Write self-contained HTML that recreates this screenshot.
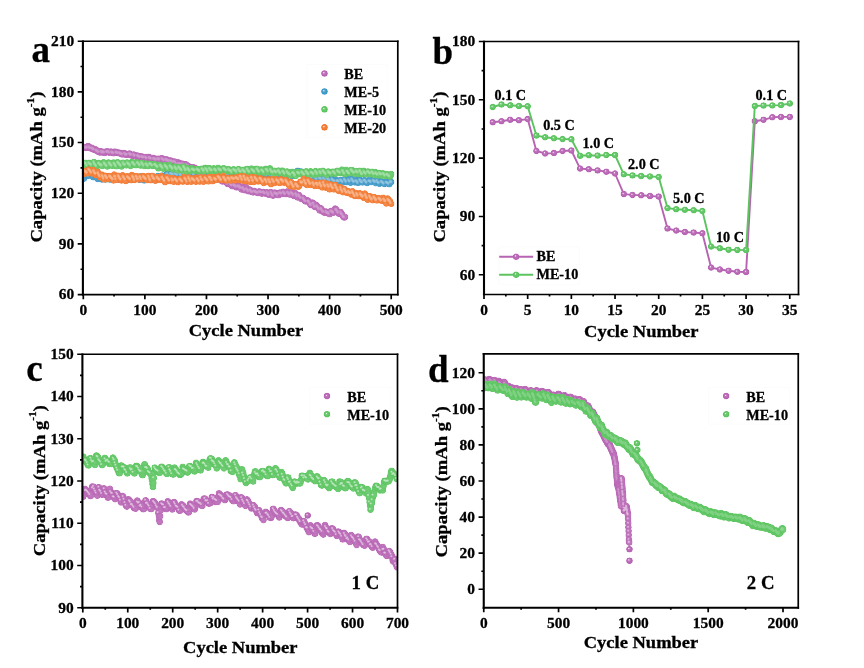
<!DOCTYPE html>
<html lang="en"><head><meta charset="utf-8"><title>Cycling performance</title>
<style>html,body{margin:0;padding:0;background:#fff}svg{display:block}text{font-family:"Liberation Serif",serif;font-weight:bold;fill:#000;stroke:#000;stroke-width:0.3px}</style>
</head><body>
<svg width="864" height="668" viewBox="0 0 864 668">
<defs><radialGradient id="gp" cx="0.5" cy="0.5" r="0.5" fx="0.38" fy="0.36"><stop offset="0" stop-color="#fff"/><stop offset="0.09" stop-color="#edd8ec"/><stop offset="0.3" stop-color="#c076bc"/><stop offset="0.8" stop-color="#b763b3"/><stop offset="0.93" stop-color="#b763b3"/><stop offset="1" stop-color="#b763b3" stop-opacity="0.45"/></radialGradient><radialGradient id="gpf" cx="0.5" cy="0.5" r="0.5"><stop offset="0" stop-color="#c37cbf"/><stop offset="0.8" stop-color="#be73bb"/><stop offset="0.92" stop-color="#b968b5"/><stop offset="1" stop-color="#b763b3" stop-opacity="0.4"/></radialGradient><radialGradient id="gb" cx="0.5" cy="0.5" r="0.5" fx="0.38" fy="0.36"><stop offset="0" stop-color="#fff"/><stop offset="0.09" stop-color="#cee5f1"/><stop offset="0.3" stop-color="#53a3cd"/><stop offset="0.8" stop-color="#3b96c6"/><stop offset="0.93" stop-color="#3b96c6"/><stop offset="1" stop-color="#3b96c6" stop-opacity="0.45"/></radialGradient><radialGradient id="gbf" cx="0.5" cy="0.5" r="0.5"><stop offset="0" stop-color="#5aa7cf"/><stop offset="0.8" stop-color="#4fa0cc"/><stop offset="0.92" stop-color="#4199c8"/><stop offset="1" stop-color="#3b96c6" stop-opacity="0.4"/></radialGradient><radialGradient id="gg" cx="0.5" cy="0.5" r="0.5" fx="0.38" fy="0.36"><stop offset="0" stop-color="#fff"/><stop offset="0.09" stop-color="#d6f0d7"/><stop offset="0.3" stop-color="#6fcb72"/><stop offset="0.8" stop-color="#5bc45f"/><stop offset="0.93" stop-color="#5bc45f"/><stop offset="1" stop-color="#5bc45f" stop-opacity="0.45"/></radialGradient><radialGradient id="ggf" cx="0.5" cy="0.5" r="0.5"><stop offset="0" stop-color="#75cd79"/><stop offset="0.8" stop-color="#6bca6f"/><stop offset="0.92" stop-color="#60c664"/><stop offset="1" stop-color="#5bc45f" stop-opacity="0.4"/></radialGradient><radialGradient id="go" cx="0.5" cy="0.5" r="0.5" fx="0.38" fy="0.36"><stop offset="0" stop-color="#fff"/><stop offset="0.09" stop-color="#fcddca"/><stop offset="0.3" stop-color="#f48645"/><stop offset="0.8" stop-color="#f2762c"/><stop offset="0.93" stop-color="#f2762c"/><stop offset="1" stop-color="#f2762c" stop-opacity="0.45"/></radialGradient><radialGradient id="gof" cx="0.5" cy="0.5" r="0.5"><stop offset="0" stop-color="#f48c4e"/><stop offset="0.8" stop-color="#f38441"/><stop offset="0.92" stop-color="#f27a32"/><stop offset="1" stop-color="#f2762c" stop-opacity="0.4"/></radialGradient><radialGradient id="gh"><stop offset="0" stop-color="#fff" stop-opacity="1"/><stop offset="0.35" stop-color="#fff" stop-opacity="0.75"/><stop offset="1" stop-color="#fff" stop-opacity="0"/></radialGradient><marker id="mp7" markerUnits="userSpaceOnUse" markerWidth="8.8" markerHeight="8.8" refX="4.4" refY="4.4" viewBox="0 0 8.8 8.8" overflow="visible"><circle cx="4.4" cy="4.4" r="3.4" fill="url(#gp)"/></marker><marker id="mp6" markerUnits="userSpaceOnUse" markerWidth="8.5" markerHeight="8.5" refX="4.25" refY="4.25" viewBox="0 0 8.5 8.5" overflow="visible"><circle cx="4.25" cy="4.25" r="3.25" fill="url(#gp)"/></marker><marker id="fpA" markerUnits="userSpaceOnUse" markerWidth="8.5" markerHeight="8.5" refX="4.25" refY="4.25" viewBox="0 0 8.5 8.5" overflow="visible"><circle cx="4.25" cy="4.25" r="3.25" fill="url(#gpf)"/></marker><marker id="fpC" markerUnits="userSpaceOnUse" markerWidth="8.6" markerHeight="8.6" refX="4.3" refY="4.3" viewBox="0 0 8.6 8.6" overflow="visible"><circle cx="4.3" cy="4.3" r="3.3" fill="url(#gpf)"/></marker><marker id="fpD" markerUnits="userSpaceOnUse" markerWidth="8.6" markerHeight="8.6" refX="4.3" refY="4.3" viewBox="0 0 8.6 8.6" overflow="visible"><circle cx="4.3" cy="4.3" r="3.3" fill="url(#gpf)"/></marker><marker id="mb7" markerUnits="userSpaceOnUse" markerWidth="8.8" markerHeight="8.8" refX="4.4" refY="4.4" viewBox="0 0 8.8 8.8" overflow="visible"><circle cx="4.4" cy="4.4" r="3.4" fill="url(#gb)"/></marker><marker id="mb6" markerUnits="userSpaceOnUse" markerWidth="8.5" markerHeight="8.5" refX="4.25" refY="4.25" viewBox="0 0 8.5 8.5" overflow="visible"><circle cx="4.25" cy="4.25" r="3.25" fill="url(#gb)"/></marker><marker id="fbA" markerUnits="userSpaceOnUse" markerWidth="8.5" markerHeight="8.5" refX="4.25" refY="4.25" viewBox="0 0 8.5 8.5" overflow="visible"><circle cx="4.25" cy="4.25" r="3.25" fill="url(#gbf)"/></marker><marker id="fbC" markerUnits="userSpaceOnUse" markerWidth="8.6" markerHeight="8.6" refX="4.3" refY="4.3" viewBox="0 0 8.6 8.6" overflow="visible"><circle cx="4.3" cy="4.3" r="3.3" fill="url(#gbf)"/></marker><marker id="fbD" markerUnits="userSpaceOnUse" markerWidth="8.6" markerHeight="8.6" refX="4.3" refY="4.3" viewBox="0 0 8.6 8.6" overflow="visible"><circle cx="4.3" cy="4.3" r="3.3" fill="url(#gbf)"/></marker><marker id="mg7" markerUnits="userSpaceOnUse" markerWidth="8.8" markerHeight="8.8" refX="4.4" refY="4.4" viewBox="0 0 8.8 8.8" overflow="visible"><circle cx="4.4" cy="4.4" r="3.4" fill="url(#gg)"/></marker><marker id="mg6" markerUnits="userSpaceOnUse" markerWidth="8.5" markerHeight="8.5" refX="4.25" refY="4.25" viewBox="0 0 8.5 8.5" overflow="visible"><circle cx="4.25" cy="4.25" r="3.25" fill="url(#gg)"/></marker><marker id="fgA" markerUnits="userSpaceOnUse" markerWidth="8.5" markerHeight="8.5" refX="4.25" refY="4.25" viewBox="0 0 8.5 8.5" overflow="visible"><circle cx="4.25" cy="4.25" r="3.25" fill="url(#ggf)"/></marker><marker id="fgC" markerUnits="userSpaceOnUse" markerWidth="8.6" markerHeight="8.6" refX="4.3" refY="4.3" viewBox="0 0 8.6 8.6" overflow="visible"><circle cx="4.3" cy="4.3" r="3.3" fill="url(#ggf)"/></marker><marker id="fgD" markerUnits="userSpaceOnUse" markerWidth="8.6" markerHeight="8.6" refX="4.3" refY="4.3" viewBox="0 0 8.6 8.6" overflow="visible"><circle cx="4.3" cy="4.3" r="3.3" fill="url(#ggf)"/></marker><marker id="mo7" markerUnits="userSpaceOnUse" markerWidth="8.8" markerHeight="8.8" refX="4.4" refY="4.4" viewBox="0 0 8.8 8.8" overflow="visible"><circle cx="4.4" cy="4.4" r="3.4" fill="url(#go)"/></marker><marker id="mo6" markerUnits="userSpaceOnUse" markerWidth="8.5" markerHeight="8.5" refX="4.25" refY="4.25" viewBox="0 0 8.5 8.5" overflow="visible"><circle cx="4.25" cy="4.25" r="3.25" fill="url(#go)"/></marker><marker id="foA" markerUnits="userSpaceOnUse" markerWidth="8.5" markerHeight="8.5" refX="4.25" refY="4.25" viewBox="0 0 8.5 8.5" overflow="visible"><circle cx="4.25" cy="4.25" r="3.25" fill="url(#gof)"/></marker><marker id="foC" markerUnits="userSpaceOnUse" markerWidth="8.6" markerHeight="8.6" refX="4.3" refY="4.3" viewBox="0 0 8.6 8.6" overflow="visible"><circle cx="4.3" cy="4.3" r="3.3" fill="url(#gof)"/></marker><marker id="foD" markerUnits="userSpaceOnUse" markerWidth="8.6" markerHeight="8.6" refX="4.3" refY="4.3" viewBox="0 0 8.6 8.6" overflow="visible"><circle cx="4.3" cy="4.3" r="3.3" fill="url(#gof)"/></marker><marker id="hA" markerUnits="userSpaceOnUse" markerWidth="8" markerHeight="8" refX="4.4" refY="4.3" viewBox="0 0 8 8" overflow="visible"><circle cx="4" cy="4" r="1.9" fill="url(#gh)"/></marker><marker id="hC" markerUnits="userSpaceOnUse" markerWidth="8" markerHeight="8" refX="4.7" refY="4.8" viewBox="0 0 8 8" overflow="visible"><circle cx="4" cy="4" r="1.5" fill="url(#gh)"/></marker><marker id="hD" markerUnits="userSpaceOnUse" markerWidth="8" markerHeight="8" refX="4.4" refY="4.4" viewBox="0 0 8 8" overflow="visible"><circle cx="4" cy="4" r="1.5" fill="url(#gh)"/></marker><clipPath id="ca"><rect x="82.9" y="41.2" width="314.9" height="253.40000000000003"/></clipPath><clipPath id="cb"><rect x="484" y="41.5" width="314.5" height="253.0"/></clipPath><clipPath id="cc"><rect x="82.4" y="354.2" width="315.1" height="253.59999999999997"/></clipPath><clipPath id="cd"><rect x="483.75" y="353.9" width="314.5" height="253.85000000000002"/></clipPath></defs>
<rect width="864" height="668" fill="#fff"/>
<g clip-path="url(#ca)">
<path d="M83.9 147.9L84.5 147.1L85.1 147L85.8 147.9L86.4 147.4L87 147.5L87.6 147.5L88.2 145.9L88.8 146.7L89.5 147.6L90.1 148.1L90.7 148.5L91.3 147.6L91.9 148L92.5 148.4L93.2 149.2L93.8 149.3L94.4 149.9L95 149.8L95.6 149.2L96.2 150.4L96.8 150.3L97.5 151.1L98.1 151.7L98.7 152L99.3 151.9L99.9 152.6L100.5 151.3L101.2 151.4L101.8 152.3L102.4 152.5L103 151.7L103.6 151.9L104.2 152.5L104.9 152.9L105.5 152.1L106.1 151.5L106.7 151.9L107.3 151.5L107.9 151.4L108.5 151.9L109.2 152.7L109.8 152.1L110.4 152.2L111 151.5L111.6 151.9L112.2 152.7L112.9 152.6L113.5 153.2L114.1 152.9L114.7 151.6L115.3 152L115.9 152.3L116.6 152.1L117.2 153L117.8 152.9L118.4 152.6L119 152.8L119.6 152.7L120.2 153.6L120.9 153.6L121.5 153.9L122.1 154.4L122.7 154L123.3 154.3L123.9 153L124.6 153.3L125.2 153.8L125.8 154.8L126.4 154.6L127 154.4L127.6 154.8L128.3 154.4L128.9 153.9L129.5 153.4L130.1 154.2L130.7 154.4L131.3 154.8L131.9 155.7L132.6 155.5L133.2 154.9L133.8 154.5L134.4 155.7L135 155.3L135.6 156.3L136.3 156.7L136.9 155.5L137.5 155.7L138.1 155.9L138.7 155.9L139.3 156.8L140 157L140.6 157L141.2 156.6L141.8 156.4L142.4 157L143 157.1L143.6 157.3L144.3 158L144.9 157.5L145.5 157L146.1 157.6L146.7 158.4L147.3 158.6L148 157.2L148.6 156.8L149.2 157.5L149.8 157.7L150.4 158.3L151 158.7L151.7 158.9L152.3 158.7L152.9 157.8L153.5 158.9L154.1 158.5L154.7 158.4L155.3 159.2L156 159.9L156.6 159.5L157.2 159L157.8 158.7L158.4 158.8L159 159.7L159.7 159.1L160.3 159.4L160.9 160.1L161.5 158.2L162.1 158.3L162.7 159.2L163.4 159.7L164 160.3L164.6 160.6L165.2 159.4L165.8 159.2L166.4 160.3L167 159.5L167.7 160.5L168.3 160.6L168.9 161.2L169.5 162.1L170.1 160.6L170.7 160.5L171.4 161.3L172 161.7L172.6 161.8L173.2 162.9L173.8 161.8L174.4 161.4L175.1 162.2L175.7 163L176.3 163.9L176.9 163.8L177.5 163.3L178.1 162.3L178.7 163.6L179.4 163.5L180 164.4L180.6 163.9L181.2 163.6L181.8 163.7L182.4 163.7L183.1 164.1L183.7 164.8L184.3 165L184.9 165.7L185.5 164.3L186.1 164.5L186.8 165.4L187.4 165.9L188 165.7L188.6 167.2L189.2 166.8L189.8 167.7L190.4 167.1L191.1 167.3L191.7 167.5L192.3 167.8L192.9 167.5L193.5 168.9L194.1 167.5L194.8 167.8L195.4 168.5L196 169.5L196.6 170L197.2 170.8L197.8 169.9L198.5 169.5L199.1 170.7L199.7 170.6L200.3 171L200.9 171.4L201.5 171.8L202.1 172.9L202.8 172.8L203.4 171.8L204 171.9L204.6 172.6L205.2 173.2L205.8 173.6L206.5 173.4L207.1 172.2L207.7 174.3L208.3 174.7L208.9 175.1L209.5 175.8L210.2 174.7L210.8 175L211.4 175.6L212 176.5L212.6 176.8L213.2 177.1L213.8 176.3L214.5 177L215.1 176.2L215.7 177.4L216.3 177.7L216.9 178.5L217.5 179.4L218.2 178.1L218.8 177.2L219.4 178.3L220 179.4L220.6 179.5L221.2 180.4L221.9 181L222.5 181.5L223.1 181.2L223.7 180.2L224.3 180.7L224.9 180.7L225.5 181.3L226.2 182.3L226.8 182.3L227.4 183.8L228 184L228.6 183.4L229.2 181.8L229.9 182.8L230.5 183.8L231.1 184.7L231.7 185.4L232.3 186.3L232.9 185.1L233.6 184.9L234.2 185L234.8 186.2L235.4 185.4L236 186.7L236.6 187.4L237.2 186.5L237.9 186L238.5 186.2L239.1 186.9L239.7 186.3L240.3 187.9L240.9 188.1L241.6 189.6L242.2 186.9L242.8 187.7L243.4 188.3L244 189.4L244.6 190.2L245.3 190.2L245.9 187.1L246.5 189L247.1 189.1L247.7 190.4L248.3 191.2L249 191.3L249.6 189.4L250.2 189.9L250.8 190.7L251.4 191.8L252 191.7L252.6 192.1L253.3 192.5L253.9 190.8L254.5 191.2L255.1 191.4L255.7 192L256.3 192.1L257 192.4L257.6 193L258.2 192.9L258.8 191.5L259.4 191.5L260 192L260.7 192L261.3 192.5L261.9 193.7L262.5 192.2L263.1 191.9L263.7 192.3L264.3 192.8L265 193.4L265.6 193.6L266.2 193.4L266.8 192.3L267.4 192.5L268 193.8L268.7 194.8L269.3 194.4L269.9 194.3L270.5 192.3L271.1 192.3L271.7 193.7L272.4 194.8L273 195.7L273.6 194.7L274.2 192.7L274.8 192.6L275.4 193.7L276 193.6L276.7 193.5L277.3 194.8L277.9 194L278.5 195.3L279.1 193.2L279.7 192.5L280.4 193.2L281 193.2L281.6 193.5L282.2 193.9L282.8 191.8L283.4 192L284.1 192.8L284.7 193.8L285.3 193.7L285.9 194.2L286.5 193L287.1 191.4L287.7 192.1L288.4 193.2L289 193.3L289.6 194.5L290.2 194.4L290.8 192.4L291.4 192.4L292.1 193.4L292.7 193.8L293.3 195.1L293.9 196.1L294.5 195.4L295.1 192.9L295.8 193.8L296.4 194.9L297 196.4L297.6 197.5L298.2 195.8L298.8 194.9L299.4 196L300.1 197.2L300.7 197.9L301.3 199L301.9 198.1L302.5 197.8L303.1 198L303.8 199.3L304.4 199.6L305 200.9L305.6 201.3L306.2 201.4L306.8 201L307.5 200.3L308.1 201L308.7 201.3L309.3 202.3L309.9 203.5L310.5 204.5L311.1 205.2L311.8 204.8L312.4 202.5L313 203.4L313.6 203.5L314.2 205.8L314.8 207L315.5 206L316.1 204.8L316.7 205.7L317.3 206.6L317.9 207.2L318.5 208.6L319.2 209.3L319.8 210.6L320.4 208L321 208.5L321.6 209.2L322.2 210.5L322.8 211.5L323.5 212.1L324.1 212.4L324.7 212.7L325.3 212L325.9 211.4L326.5 212.5L327.2 212.5L327.8 213.1L328.4 212.4L329 213.7L329.6 214.2L330.2 211.7L330.9 211L331.5 211.1L332.1 211.9L332.7 211.5L333.3 212.7L333.9 212.2L334.5 211L335.2 208.5L335.8 209.4L336.4 209.8L337 210.7L337.6 211.8L338.2 212.8L338.9 213.7L339.5 213.8L340.1 212.8L340.7 212L341.3 213.7L341.9 214.1L342.6 215.3L343.2 216.7L343.8 217.2L344.4 217.6L345 217" fill="none" stroke="none" marker-start="url(#fpA)" marker-mid="url(#fpA)" marker-end="url(#fpA)"/><path d="M85.1 147L85.8 147.9L86.4 147.4L87 147.5L88.8 146.7L89.5 147.6L90.1 148.1L91.9 148L92.5 148.4L93.2 149.2L93.8 149.3L96.2 150.4L96.8 150.3L97.5 151.1L98.1 151.7L98.7 152L101.2 151.4L101.8 152.3L102.4 152.5L103 151.7L103.6 151.9L104.2 152.5L106.7 151.9L107.3 151.5L107.9 151.4L108.5 151.9L109.2 152.7L111.6 151.9L112.2 152.7L112.9 152.6L113.5 153.2L115.9 152.3L116.6 152.1L117.2 153L117.8 152.9L119.6 152.7L120.2 153.6L120.9 153.6L121.5 153.9L122.1 154.4L124.6 153.3L125.2 153.8L125.8 154.8L126.4 154.6L127 154.4L129.5 153.4L130.1 154.2L130.7 154.4L131.3 154.8L133.8 154.5L134.4 155.7L135 155.3L137.5 155.7L138.1 155.9L138.7 155.9L139.3 156.8L140 157L141.8 156.4L142.4 157L143 157.1L143.6 157.3L145.5 157L146.1 157.6L146.7 158.4L149.2 157.5L149.8 157.7L150.4 158.3L151 158.7L153.5 158.9L154.1 158.5L154.7 158.4L155.3 159.2L156 159.9L157.8 158.7L158.4 158.8L159 159.7L159.7 159.1L162.1 158.3L162.7 159.2L163.4 159.7L164 160.3L165.8 159.2L166.4 160.3L167 159.5L167.7 160.5L168.3 160.6L168.9 161.2L170.7 160.5L171.4 161.3L172 161.7L172.6 161.8L174.4 161.4L175.1 162.2L175.7 163L176.3 163.9L178.7 163.6L179.4 163.5L180 164.4L180.6 163.9L182.4 163.7L183.1 164.1L183.7 164.8L184.3 165L186.1 164.5L186.8 165.4L187.4 165.9L188 165.7L188.6 167.2L189.2 166.8L191.1 167.3L191.7 167.5L192.3 167.8L192.9 167.5L194.8 167.8L195.4 168.5L196 169.5L196.6 170L199.1 170.7L199.7 170.6L200.3 171L200.9 171.4L201.5 171.8L204 171.9L204.6 172.6L205.2 173.2L207.1 172.2L207.7 174.3L208.3 174.7L208.9 175.1L210.8 175L211.4 175.6L212 176.5L212.6 176.8L214.5 177L215.1 176.2L215.7 177.4L216.3 177.7L216.9 178.5L219.4 178.3L220 179.4L220.6 179.5L221.2 180.4L221.9 181L224.3 180.7L224.9 180.7L225.5 181.3L226.2 182.3L226.8 182.3L227.4 183.8L229.9 182.8L230.5 183.8L231.1 184.7L231.7 185.4L233.6 184.9L234.2 185L234.8 186.2L235.4 185.4L236 186.7L237.9 186L238.5 186.2L239.1 186.9L239.7 186.3L240.3 187.9L240.9 188.1L242.8 187.7L243.4 188.3L244 189.4L244.6 190.2L246.5 189L247.1 189.1L247.7 190.4L248.3 191.2L250.2 189.9L250.8 190.7L251.4 191.8L252 191.7L252.6 192.1L254.5 191.2L255.1 191.4L255.7 192L256.3 192.1L257 192.4L257.6 193L259.4 191.5L260 192L260.7 192L261.3 192.5L263.1 191.9L263.7 192.3L264.3 192.8L265 193.4L267.4 192.5L268 193.8L268.7 194.8L271.1 192.3L271.7 193.7L272.4 194.8L273 195.7L274.8 192.6L275.4 193.7L276 193.6L276.7 193.5L277.3 194.8L277.9 194L279.7 192.5L280.4 193.2L281 193.2L281.6 193.5L283.4 192L284.1 192.8L284.7 193.8L285.3 193.7L287.7 192.1L288.4 193.2L289 193.3L289.6 194.5L291.4 192.4L292.1 193.4L292.7 193.8L293.3 195.1L295.8 193.8L296.4 194.9L297 196.4L298.8 194.9L299.4 196L300.1 197.2L300.7 197.9L303.1 198L303.8 199.3L304.4 199.6L305 200.9L305.6 201.3L308.1 201L308.7 201.3L309.3 202.3L309.9 203.5L310.5 204.5L311.1 205.2L313 203.4L313.6 203.5L314.2 205.8L314.8 207L316.7 205.7L317.3 206.6L317.9 207.2L318.5 208.6L319.2 209.3L321 208.5L321.6 209.2L322.2 210.5L322.8 211.5L323.5 212.1L325.9 211.4L326.5 212.5L327.2 212.5L327.8 213.1L328.4 212.4L329 213.7L330.9 211L331.5 211.1L332.1 211.9L332.7 211.5L333.3 212.7L335.8 209.4L336.4 209.8L337 210.7L337.6 211.8L338.2 212.8L340.7 212L341.3 213.7L341.9 214.1L342.6 215.3L343.2 216.7L343.8 217.2" opacity="0.3" fill="none" stroke="none" marker-start="url(#hA)" marker-mid="url(#hA)" marker-end="url(#hA)"/>
<path d="M83.9 178.7L84.5 175.3L85.1 174.7L85.8 174.5L86.4 174.6L87 175.1L87.6 175.4L88.2 175.6L88.8 175.6L89.5 175.1L90.1 171.5L90.7 172.8L91.3 173.9L91.9 175.1L92.5 176L93.2 177.3L93.8 175.3L94.4 173.9L95 175.5L95.6 175.7L96.2 176.9L96.8 177.2L97.5 178.9L98.1 176.5L98.7 175.8L99.3 176.6L99.9 177.7L100.5 178.1L101.2 179.1L101.8 179.5L102.4 176L103 176.7L103.6 177.1L104.2 178.7L104.9 179.2L105.5 179.4L106.1 179.3L106.7 176.2L107.3 176.6L107.9 177.5L108.5 177.9L109.2 178.5L109.8 179.5L110.4 179.2L111 178.3L111.6 176.8L112.2 177L112.9 177.7L113.5 177.9L114.1 178.2L114.7 178.9L115.3 179.5L115.9 178.6L116.6 176L117.2 177L117.8 177.1L118.4 178.4L119 178.9L119.6 179.8L120.2 178.6L120.9 177.1L121.5 178.1L122.1 178.2L122.7 178.6L123.3 179L123.9 179.1L124.6 179.8L125.2 178.5L125.8 177L126.4 177.4L127 178.1L127.6 178.9L128.3 179.8L128.9 179.8L129.5 176.4L130.1 177.1L130.7 178.1L131.3 178.8L131.9 180.1L132.6 178.4L133.2 177.8L133.8 178.1L134.4 178.8L135 179L135.6 178.9L136.3 178.8L136.9 177.3L137.5 177.6L138.1 178.2L138.7 178.2L139.3 179.8L140 177.7L140.6 176.4L141.2 177.3L141.8 177.8L142.4 178.3L143 179.4L143.6 180L144.3 180.4L144.9 178.9L145.5 177.1L146.1 177.7L146.7 178.4L147.3 178.5L148 178.7L148.6 179.2L149.2 179.2L149.8 176.7L150.4 177.6L151 178.2L151.7 179.3L152.3 180L152.9 177.8L153.5 176.5L154.1 177.7L154.7 178.8L155.3 179.2L156 180.1L156.6 179.5L157.2 176.7L157.8 176L158.4 176.9L159 177.3L159.7 177.7L160.3 178L160.9 178.7L161.5 177L162.1 175.6L162.7 175.8L163.4 176.3L164 176L164.6 176.6L165.2 176.7L165.8 177.5L166.4 175.6L167 173.8L167.7 174.2L168.3 175.3L168.9 175.7L169.5 176.3L170.1 174.1L170.7 173.2L171.4 173.7L172 174L172.6 174.1L173.2 175.3L173.8 175.6L174.4 173.4L175.1 173.6L175.7 173.5L176.3 174.1L176.9 174.4L177.5 174.9L178.1 174.7L178.7 173.4L179.4 172.8L180 173.4L180.6 174.5L181.2 175.1L181.8 175.2L182.4 172.5L183.1 173.1L183.7 173.8L184.3 174.8L184.9 174.9L185.5 176.1L186.1 173.9L186.8 172.7L187.4 173.5L188 173.6L188.6 173.2L189.2 173.4L189.8 174.4L190.4 175.1L191.1 172.7L191.7 171.6L192.3 172.4L192.9 173.5L193.5 174L194.1 174.3L194.8 174.8L195.4 174.3L196 172.6L196.6 171.8L197.2 172.4L197.8 173.1L198.5 173.2L199.1 173.9L199.7 173.9L200.3 175.1L200.9 173L201.5 171.5L202.1 171.5L202.8 173.6L203.4 173.6L204 174.2L204.6 174.7L205.2 175.2L205.8 174.7L206.5 172.3L207.1 172.2L207.7 173.1L208.3 173.2L208.9 173.6L209.5 174.2L210.2 175.2L210.8 175.5L211.4 172L212 172.8L212.6 173.5L213.2 173.9L213.8 174.5L214.5 173.9L215.1 171.9L215.7 173L216.3 172.9L216.9 173.2L217.5 173.7L218.2 174.1L218.8 174.5L219.4 174.9L220 172.4L220.6 171.4L221.2 172.4L221.9 172.9L222.5 173.1L223.1 174.4L223.7 174.9L224.3 173.2L224.9 171.7L225.5 172.7L226.2 172.5L226.8 173.5L227.4 174.3L228 173.9L228.6 175L229.2 174.9L229.9 172.6L230.5 172.1L231.1 172.1L231.7 172.9L232.3 173.4L232.9 175L233.6 174.9L234.2 175.3L234.8 173.7L235.4 172.3L236 172.7L236.6 172.9L237.2 173.2L237.9 173.9L238.5 174L239.1 175.1L239.7 174.9L240.3 171.4L240.9 172.4L241.6 172.8L242.2 173.8L242.8 174.9L243.4 174.5L244 172.1L244.6 173.3L245.3 173.5L245.9 173.8L246.5 174.3L247.1 172.8L247.7 172.7L248.3 173.2L249 174.1L249.6 174.4L250.2 174.9L250.8 173.9L251.4 171.9L252 172.2L252.6 173.4L253.3 173.7L253.9 174.6L254.5 175.2L255.1 175.3L255.7 174.2L256.3 173.2L257 173.7L257.6 174.1L258.2 175L258.8 174.8L259.4 172.4L260 172.1L260.7 173.2L261.3 173.9L261.9 174.4L262.5 175.3L263.1 173.8L263.7 171.7L264.3 172.3L265 173.3L265.6 173.8L266.2 174.4L266.8 175.1L267.4 175.9L268 172.6L268.7 172.4L269.3 173.4L269.9 173.6L270.5 174.5L271.1 174.9L271.7 176.5L272.4 172.9L273 172.7L273.6 173.4L274.2 174.5L274.8 175.1L275.4 175.3L276 173.9L276.7 173L277.3 173.6L277.9 174.7L278.5 175.2L279.1 175.4L279.7 175.2L280.4 173.7L281 173.6L281.6 174.6L282.2 175L282.8 175.4L283.4 173.6L284.1 173.4L284.7 173.3L285.3 174.7L285.9 175.1L286.5 175.2L287.1 175.6L287.7 175.7L288.4 175L289 172.6L289.6 173.7L290.2 173.5L290.8 174.8L291.4 175.9L292.1 176L292.7 175.4L293.3 173.7L293.9 172.8L294.5 172.4L295.1 173.2L295.8 173.5L296.4 173.9L297 172.1L297.6 170.7L298.2 171.3L298.8 171.2L299.4 172.3L300.1 172.8L300.7 172.5L301.3 171.5L301.9 172.6L302.5 173.9L303.1 174.6L303.8 175.5L304.4 176.4L305 175.6L305.6 174.7L306.2 175.8L306.8 176.1L307.5 177.1L308.1 177.4L308.7 176L309.3 174.9L309.9 176.1L310.5 176.4L311.1 176.9L311.8 177.5L312.4 177.7L313 176.5L313.6 175.8L314.2 176.2L314.8 177.5L315.5 177.4L316.1 178.1L316.7 179.1L317.3 179.3L317.9 178.4L318.5 177.5L319.2 177.3L319.8 178L320.4 178L321 179.2L321.6 180.6L322.2 178.5L322.8 177.2L323.5 177.9L324.1 179.3L324.7 179.8L325.3 180.3L325.9 181.1L326.5 179L327.2 177.9L327.8 178.5L328.4 179.2L329 180.2L329.6 180.9L330.2 181.5L330.9 180.7L331.5 179.5L332.1 179L332.7 180.2L333.3 180.2L333.9 180.5L334.5 181.3L335.2 181.3L335.8 180.5L336.4 179.9L337 180.8L337.6 180.8L338.2 180.8L338.9 181.4L339.5 181.5L340.1 181.3L340.7 179.9L341.3 180.6L341.9 181.2L342.6 181.9L343.2 182.4L343.8 180.7L344.4 179.2L345 180.2L345.6 180.6L346.2 181.8L346.9 182.2L347.5 181.8L348.1 179.1L348.7 179.9L349.3 181.1L349.9 181.4L350.6 182.7L351.2 180.6L351.8 179L352.4 179.8L353 180.9L353.6 181.7L354.3 181.5L354.9 182.4L355.5 179.3L356.1 180.7L356.7 181.2L357.3 181.9L357.9 182.8L358.6 182.6L359.2 180.2L359.8 180L360.4 180.3L361 181.6L361.6 181.8L362.3 182.4L362.9 182.2L363.5 181L364.1 180.3L364.7 180.4L365.3 180.8L366 181.8L366.6 182.6L367.2 182.9L367.8 181.8L368.4 180.2L369 181.1L369.6 180.9L370.3 181.2L370.9 182.1L371.5 182.1L372.1 181.3L372.7 179.5L373.3 180.3L374 180.9L374.6 181.6L375.2 182.1L375.8 183.3L376.4 181.2L377 180.5L377.7 181.8L378.3 182.5L378.9 183L379.5 183.8L380.1 182.6L380.7 180.9L381.3 181.6L382 181.7L382.6 182.4L383.2 183L383.8 183.6L384.4 183.9L385 183.4L385.7 181.5L386.3 182.2L386.9 182.6L387.5 182.8L388.1 183.2L388.7 183.8L389.4 184.2L390 182.4L390.6 181.8L391.2 182" fill="none" stroke="none" marker-start="url(#fbA)" marker-mid="url(#fbA)" marker-end="url(#fbA)"/><path d="M85.8 174.5L86.4 174.6L87 175.1L87.6 175.4L88.2 175.6L90.7 172.8L91.3 173.9L91.9 175.1L92.5 176L94.4 173.9L95 175.5L95.6 175.7L96.2 176.9L96.8 177.2L98.7 175.8L99.3 176.6L99.9 177.7L100.5 178.1L101.2 179.1L103 176.7L103.6 177.1L104.2 178.7L104.9 179.2L105.5 179.4L107.3 176.6L107.9 177.5L108.5 177.9L109.2 178.5L109.8 179.5L112.2 177L112.9 177.7L113.5 177.9L114.1 178.2L114.7 178.9L117.2 177L117.8 177.1L118.4 178.4L119 178.9L121.5 178.1L122.1 178.2L122.7 178.6L123.3 179L123.9 179.1L125.8 177L126.4 177.4L127 178.1L127.6 178.9L128.3 179.8L130.1 177.1L130.7 178.1L131.3 178.8L133.2 177.8L133.8 178.1L134.4 178.8L135 179L135.6 178.9L137.5 177.6L138.1 178.2L138.7 178.2L141.2 177.3L141.8 177.8L142.4 178.3L143 179.4L143.6 180L146.1 177.7L146.7 178.4L147.3 178.5L148 178.7L150.4 177.6L151 178.2L151.7 179.3L153.5 176.5L154.1 177.7L154.7 178.8L155.3 179.2L156 180.1L157.8 176L158.4 176.9L159 177.3L159.7 177.7L160.3 178L162.7 175.8L163.4 176.3L164 176L164.6 176.6L165.2 176.7L167 173.8L167.7 174.2L168.3 175.3L168.9 175.7L170.7 173.2L171.4 173.7L172 174L172.6 174.1L173.2 175.3L175.1 173.6L175.7 173.5L176.3 174.1L176.9 174.4L177.5 174.9L179.4 172.8L180 173.4L180.6 174.5L181.2 175.1L183.1 173.1L183.7 173.8L184.3 174.8L184.9 174.9L187.4 173.5L188 173.6L188.6 173.2L189.2 173.4L189.8 174.4L191.7 171.6L192.3 172.4L192.9 173.5L193.5 174L194.1 174.3L196.6 171.8L197.2 172.4L197.8 173.1L198.5 173.2L199.1 173.9L199.7 173.9L202.1 171.5L202.8 173.6L203.4 173.6L204 174.2L204.6 174.7L207.1 172.2L207.7 173.1L208.3 173.2L208.9 173.6L209.5 174.2L210.2 175.2L212 172.8L212.6 173.5L213.2 173.9L213.8 174.5L215.7 173L216.3 172.9L216.9 173.2L217.5 173.7L218.2 174.1L220.6 171.4L221.2 172.4L221.9 172.9L222.5 173.1L223.1 174.4L225.5 172.7L226.2 172.5L226.8 173.5L227.4 174.3L228 173.9L230.5 172.1L231.1 172.1L231.7 172.9L232.3 173.4L232.9 175L233.6 174.9L236 172.7L236.6 172.9L237.2 173.2L237.9 173.9L238.5 174L240.9 172.4L241.6 172.8L242.2 173.8L244 172.1L244.6 173.3L245.3 173.5L245.9 173.8L247.7 172.7L248.3 173.2L249 174.1L249.6 174.4L252 172.2L252.6 173.4L253.3 173.7L253.9 174.6L254.5 175.2L256.3 173.2L257 173.7L257.6 174.1L258.2 175L260 172.1L260.7 173.2L261.3 173.9L261.9 174.4L264.3 172.3L265 173.3L265.6 173.8L266.2 174.4L266.8 175.1L268.7 172.4L269.3 173.4L269.9 173.6L270.5 174.5L271.1 174.9L273 172.7L273.6 173.4L274.2 174.5L274.8 175.1L276.7 173L277.3 173.6L277.9 174.7L278.5 175.2L281 173.6L281.6 174.6L282.2 175L284.7 173.3L285.3 174.7L285.9 175.1L286.5 175.2L287.1 175.6L289.6 173.7L290.2 173.5L290.8 174.8L291.4 175.9L292.1 176L293.9 172.8L294.5 172.4L295.1 173.2L295.8 173.5L298.2 171.3L298.8 171.2L299.4 172.3L301.3 171.5L301.9 172.6L302.5 173.9L303.1 174.6L303.8 175.5L305.6 174.7L306.2 175.8L306.8 176.1L307.5 177.1L309.3 174.9L309.9 176.1L310.5 176.4L311.1 176.9L311.8 177.5L314.2 176.2L314.8 177.5L315.5 177.4L316.1 178.1L316.7 179.1L319.2 177.3L319.8 178L320.4 178L321 179.2L323.5 177.9L324.1 179.3L324.7 179.8L325.3 180.3L327.2 177.9L327.8 178.5L328.4 179.2L329 180.2L329.6 180.9L332.1 179L332.7 180.2L333.3 180.2L333.9 180.5L334.5 181.3L337 180.8L337.6 180.8L338.2 180.8L338.9 181.4L340.7 179.9L341.3 180.6L341.9 181.2L342.6 181.9L344.4 179.2L345 180.2L345.6 180.6L346.2 181.8L348.7 179.9L349.3 181.1L349.9 181.4L351.8 179L352.4 179.8L353 180.9L353.6 181.7L354.3 181.5L356.1 180.7L356.7 181.2L357.3 181.9L357.9 182.8L359.8 180L360.4 180.3L361 181.6L361.6 181.8L362.3 182.4L364.1 180.3L364.7 180.4L365.3 180.8L366 181.8L366.6 182.6L369 181.1L369.6 180.9L370.3 181.2L370.9 182.1L373.3 180.3L374 180.9L374.6 181.6L375.2 182.1L377 180.5L377.7 181.8L378.3 182.5L378.9 183L381.3 181.6L382 181.7L382.6 182.4L383.2 183L383.8 183.6L386.3 182.2L386.9 182.6L387.5 182.8L388.1 183.2L388.7 183.8L390.6 181.8L391.2 182" opacity="0.4" fill="none" stroke="none" marker-start="url(#hA)" marker-mid="url(#hA)" marker-end="url(#hA)"/>
<path d="M83.9 166.2L84.5 163.1L85.1 162.8L85.8 163.6L86.4 164.3L87 165.5L87.6 166.2L88.2 163.3L88.8 162.7L89.5 163.4L90.1 164.1L90.7 164.2L91.3 165L91.9 165.1L92.5 165.3L93.2 163.1L93.8 161.9L94.4 163.6L95 164.3L95.6 165L96.2 166L96.8 166.8L97.5 165L98.1 163L98.7 163L99.3 163.8L99.9 164.1L100.5 165.2L101.2 164.8L101.8 165.5L102.4 166.1L103 163.7L103.6 162.3L104.2 162.9L104.9 164.3L105.5 164L106.1 165.6L106.7 165.7L107.3 166.6L107.9 164.5L108.5 162.4L109.2 163L109.8 164.1L110.4 163.4L111 165.1L111.6 165.6L112.2 165.8L112.9 165.3L113.5 162.4L114.1 163.2L114.7 164.1L115.3 165L115.9 165.9L116.6 166.3L117.2 162.5L117.8 162.3L118.4 163L119 163.7L119.6 164.2L120.2 164.9L120.9 165.7L121.5 166.6L122.1 164.5L122.7 162.8L123.3 162.8L123.9 164.4L124.6 164.5L125.2 164.6L125.8 165L126.4 165.4L127 162.4L127.6 162.7L128.3 163.9L128.9 164L129.5 164.3L130.1 165.5L130.7 165.9L131.3 164L131.9 162.1L132.6 162.6L133.2 162.8L133.8 163.8L134.4 164.6L135 164.8L135.6 165.2L136.3 165L136.9 162.6L137.5 162.4L138.1 163.2L138.7 163.5L139.3 164.8L140 165.3L140.6 165.6L141.2 163.5L141.8 162.7L142.4 163.6L143 164.4L143.6 165.6L144.3 165.9L144.9 165.3L145.5 163.4L146.1 164L146.7 164.3L147.3 165.2L148 166L148.6 166L149.2 164L149.8 163.8L150.4 163.9L151 164.3L151.7 164.7L152.3 165.6L152.9 166L153.5 165.5L154.1 163.9L154.7 164.3L155.3 164.8L156 165L156.6 165.9L157.2 166.6L157.8 166.9L158.4 168.4L159 165.8L159.7 164.6L160.3 165.2L160.9 165.4L161.5 166.6L162.1 166.9L162.7 168L163.4 168.7L164 165.9L164.6 165.2L165.2 165.2L165.8 166.2L166.4 166.8L167 167.2L167.7 168.5L168.3 168.4L168.9 166L169.5 165.1L170.1 165.9L170.7 166.4L171.4 167.3L172 167.6L172.6 168.8L173.2 169.5L173.8 168.2L174.4 166.5L175.1 167L175.7 167.8L176.3 168.8L176.9 169.4L177.5 170.5L178.1 167.2L178.7 167.2L179.4 167.3L180 168.6L180.6 168.8L181.2 169.5L181.8 170.2L182.4 170.4L183.1 168.3L183.7 166.4L184.3 167.4L184.9 168.5L185.5 170.1L186.1 170L186.8 171.7L187.4 168.1L188 168.3L188.6 169.3L189.2 170.2L189.8 170.9L190.4 170.8L191.1 169.8L191.7 168.2L192.3 169.1L192.9 169.3L193.5 169.6L194.1 170.3L194.8 170.1L195.4 170.9L196 170.5L196.6 168.9L197.2 169.1L197.8 169.5L198.5 170.5L199.1 170.2L199.7 171L200.3 171.2L200.9 170.4L201.5 168.7L202.1 168.7L202.8 169.3L203.4 170.1L204 170.9L204.6 171.3L205.2 167.7L205.8 168.5L206.5 169.3L207.1 169.8L207.7 171.3L208.3 170.5L208.9 167.9L209.5 168.3L210.2 169.3L210.8 169.3L211.4 170.3L212 170.4L212.6 171.6L213.2 170.1L213.8 168.3L214.5 169.2L215.1 169.7L215.7 169.5L216.3 170.9L216.9 171.5L217.5 170.3L218.2 167.7L218.8 168.7L219.4 169.4L220 170L220.6 169.9L221.2 170.3L221.9 171.5L222.5 170.4L223.1 168.6L223.7 168.2L224.3 168.7L224.9 169.2L225.5 169.9L226.2 170.4L226.8 171.3L227.4 170.4L228 169.3L228.6 169.1L229.2 170L229.9 170.6L230.5 170.5L231.1 170.8L231.7 172.2L232.3 171.7L232.9 170.2L233.6 169.3L234.2 170L234.8 170.3L235.4 170.8L236 170.4L236.6 171.7L237.2 172.6L237.9 169.4L238.5 169L239.1 169.6L239.7 170.9L240.3 171.3L240.9 171.8L241.6 172.7L242.2 170.7L242.8 169.7L243.4 170.3L244 171.1L244.6 171.4L245.3 172.1L245.9 171.8L246.5 169L247.1 168.9L247.7 169.5L248.3 170.7L249 171.5L249.6 171.9L250.2 173.1L250.8 171.2L251.4 168.5L252 169.6L252.6 170L253.3 170.6L253.9 171L254.5 171.8L255.1 171.9L255.7 172.2L256.3 168.8L257 169.1L257.6 169L258.2 170.7L258.8 171.1L259.4 172L260 173L260.7 171.3L261.3 169.4L261.9 170.2L262.5 170.3L263.1 171.5L263.7 172.1L264.3 172.8L265 170.2L265.6 168.7L266.2 169.4L266.8 169.6L267.4 170.1L268 171.5L268.7 172.4L269.3 170.4L269.9 168.3L270.5 169.5L271.1 170.5L271.7 171.8L272.4 171.9L273 172.5L273.6 174.1L274.2 171.1L274.8 170.7L275.4 171.6L276 172.3L276.7 172L277.3 173.2L277.9 171.8L278.5 170.5L279.1 171.2L279.7 172.5L280.4 173.1L281 173.5L281.6 172.9L282.2 170.6L282.8 171.2L283.4 171.6L284.1 172.8L284.7 173.6L285.3 174.6L285.9 173.5L286.5 171.7L287.1 171.4L287.7 172.6L288.4 173.2L289 173.8L289.6 174.1L290.2 174.6L290.8 175.5L291.4 173.9L292.1 171.7L292.7 172.9L293.3 172.8L293.9 173.2L294.5 174.2L295.1 175.3L295.8 175.9L296.4 173.2L297 171.7L297.6 172.4L298.2 172.8L298.8 172.9L299.4 173.6L300.1 174.2L300.7 173.9L301.3 171.9L301.9 171.9L302.5 172.6L303.1 173.5L303.8 174L304.4 174.4L305 175.3L305.6 172L306.2 171.3L306.8 172.1L307.5 172.9L308.1 173.8L308.7 174.2L309.3 174.6L309.9 172.5L310.5 171.3L311.1 172.2L311.8 172.6L312.4 173L313 173.4L313.6 174.2L314.2 174.8L314.8 172.4L315.5 171.1L316.1 172.1L316.7 172.5L317.3 173.9L317.9 174.2L318.5 173.4L319.2 171.5L319.8 171.5L320.4 172.7L321 173.4L321.6 173.4L322.2 172.3L322.8 170.7L323.5 171.4L324.1 172L324.7 173L325.3 173.1L325.9 174.1L326.5 174.9L327.2 172.8L327.8 171.8L328.4 171.4L329 172.7L329.6 172.8L330.2 172.9L330.9 173.6L331.5 173.6L332.1 172L332.7 171.7L333.3 171.7L333.9 172L334.5 172.5L335.2 173.7L335.8 173.6L336.4 173.2L337 170.9L337.6 170.7L338.2 171.4L338.9 172L339.5 172.3L340.1 172.6L340.7 173.2L341.3 172.2L341.9 169.6L342.6 170.7L343.2 171.2L343.8 172.8L344.4 173.5L345 174.3L345.6 173.5L346.2 169.7L346.9 171.2L347.5 171.4L348.1 172L348.7 173.1L349.3 173.3L349.9 173L350.6 170.2L351.2 170.2L351.8 169.9L352.4 171.4L353 171.6L353.6 172.5L354.3 172.8L354.9 173.9L355.5 171.9L356.1 170.9L356.7 171.7L357.3 172L357.9 172.5L358.6 173.9L359.2 171.4L359.8 170.7L360.4 171.2L361 172.6L361.6 173.8L362.3 174L362.9 173.4L363.5 170.7L364.1 171.5L364.7 172.5L365.3 173.1L366 173.8L366.6 174.3L367.2 172.5L367.8 171.5L368.4 171.7L369 172.4L369.6 173L370.3 173.5L370.9 174.3L371.5 172.6L372.1 171.7L372.7 172.8L373.3 173.4L374 174.1L374.6 175.2L375.2 172.1L375.8 172.7L376.4 173.6L377 174L377.7 174.9L378.3 175.4L378.9 173.9L379.5 173L380.1 173.4L380.7 174.3L381.3 174.5L382 175.7L382.6 173.4L383.2 173.5L383.8 173.7L384.4 174.8L385 175.7L385.7 176.1L386.3 173.9L386.9 174.2L387.5 174.6L388.1 175.1L388.7 175.6L389.4 176.4L390 176.6L390.6 175.9L391.2 174" fill="none" stroke="none" marker-start="url(#fgA)" marker-mid="url(#fgA)" marker-end="url(#fgA)"/><path d="M85.1 162.8L85.8 163.6L86.4 164.3L87 165.5L88.8 162.7L89.5 163.4L90.1 164.1L90.7 164.2L91.3 165L93.8 161.9L94.4 163.6L95 164.3L95.6 165L96.2 166L98.7 163L99.3 163.8L99.9 164.1L100.5 165.2L101.2 164.8L101.8 165.5L104.2 162.9L104.9 164.3L105.5 164L106.1 165.6L106.7 165.7L109.2 163L109.8 164.1L110.4 163.4L111 165.1L111.6 165.6L114.1 163.2L114.7 164.1L115.3 165L115.9 165.9L117.8 162.3L118.4 163L119 163.7L119.6 164.2L120.2 164.9L120.9 165.7L123.3 162.8L123.9 164.4L124.6 164.5L125.2 164.6L127.6 162.7L128.3 163.9L128.9 164L129.5 164.3L130.1 165.5L132.6 162.6L133.2 162.8L133.8 163.8L134.4 164.6L135 164.8L137.5 162.4L138.1 163.2L138.7 163.5L139.3 164.8L140 165.3L141.8 162.7L142.4 163.6L143 164.4L143.6 165.6L146.1 164L146.7 164.3L147.3 165.2L148 166L149.8 163.8L150.4 163.9L151 164.3L151.7 164.7L152.3 165.6L154.7 164.3L155.3 164.8L156 165L156.6 165.9L157.2 166.6L157.8 166.9L160.3 165.2L160.9 165.4L161.5 166.6L162.1 166.9L162.7 168L165.2 165.2L165.8 166.2L166.4 166.8L167 167.2L167.7 168.5L170.1 165.9L170.7 166.4L171.4 167.3L172 167.6L172.6 168.8L175.1 167L175.7 167.8L176.3 168.8L176.9 169.4L178.7 167.2L179.4 167.3L180 168.6L180.6 168.8L181.2 169.5L181.8 170.2L183.7 166.4L184.3 167.4L184.9 168.5L185.5 170.1L186.1 170L188 168.3L188.6 169.3L189.2 170.2L189.8 170.9L192.3 169.1L192.9 169.3L193.5 169.6L194.1 170.3L194.8 170.1L197.2 169.1L197.8 169.5L198.5 170.5L199.1 170.2L199.7 171L202.1 168.7L202.8 169.3L203.4 170.1L204 170.9L205.8 168.5L206.5 169.3L207.1 169.8L207.7 171.3L209.5 168.3L210.2 169.3L210.8 169.3L211.4 170.3L212 170.4L214.5 169.2L215.1 169.7L215.7 169.5L216.3 170.9L218.8 168.7L219.4 169.4L220 170L220.6 169.9L221.2 170.3L223.7 168.2L224.3 168.7L224.9 169.2L225.5 169.9L226.2 170.4L228.6 169.1L229.2 170L229.9 170.6L230.5 170.5L231.1 170.8L231.7 172.2L233.6 169.3L234.2 170L234.8 170.3L235.4 170.8L236 170.4L236.6 171.7L238.5 169L239.1 169.6L239.7 170.9L240.3 171.3L240.9 171.8L242.8 169.7L243.4 170.3L244 171.1L244.6 171.4L245.3 172.1L247.1 168.9L247.7 169.5L248.3 170.7L249 171.5L249.6 171.9L252 169.6L252.6 170L253.3 170.6L253.9 171L254.5 171.8L257 169.1L257.6 169L258.2 170.7L258.8 171.1L259.4 172L261.9 170.2L262.5 170.3L263.1 171.5L263.7 172.1L266.2 169.4L266.8 169.6L267.4 170.1L268 171.5L270.5 169.5L271.1 170.5L271.7 171.8L272.4 171.9L273 172.5L274.8 170.7L275.4 171.6L276 172.3L276.7 172L278.5 170.5L279.1 171.2L279.7 172.5L280.4 173.1L282.8 171.2L283.4 171.6L284.1 172.8L284.7 173.6L287.1 171.4L287.7 172.6L288.4 173.2L289 173.8L289.6 174.1L290.2 174.6L292.7 172.9L293.3 172.8L293.9 173.2L294.5 174.2L295.1 175.3L297.6 172.4L298.2 172.8L298.8 172.9L299.4 173.6L301.9 171.9L302.5 172.6L303.1 173.5L303.8 174L304.4 174.4L306.2 171.3L306.8 172.1L307.5 172.9L308.1 173.8L308.7 174.2L311.1 172.2L311.8 172.6L312.4 173L313 173.4L313.6 174.2L315.5 171.1L316.1 172.1L316.7 172.5L317.3 173.9L319.8 171.5L320.4 172.7L321 173.4L322.8 170.7L323.5 171.4L324.1 172L324.7 173L325.3 173.1L325.9 174.1L328.4 171.4L329 172.7L329.6 172.8L330.2 172.9L330.9 173.6L333.3 171.7L333.9 172L334.5 172.5L335.2 173.7L337.6 170.7L338.2 171.4L338.9 172L339.5 172.3L340.1 172.6L342.6 170.7L343.2 171.2L343.8 172.8L344.4 173.5L346.9 171.2L347.5 171.4L348.1 172L348.7 173.1L349.3 173.3L351.2 170.2L351.8 169.9L352.4 171.4L353 171.6L353.6 172.5L354.3 172.8L356.1 170.9L356.7 171.7L357.3 172L357.9 172.5L359.8 170.7L360.4 171.2L361 172.6L361.6 173.8L362.3 174L364.1 171.5L364.7 172.5L365.3 173.1L366 173.8L367.8 171.5L368.4 171.7L369 172.4L369.6 173L370.3 173.5L372.1 171.7L372.7 172.8L373.3 173.4L374 174.1L375.8 172.7L376.4 173.6L377 174L377.7 174.9L379.5 173L380.1 173.4L380.7 174.3L381.3 174.5L383.2 173.5L383.8 173.7L384.4 174.8L385 175.7L386.9 174.2L387.5 174.6L388.1 175.1L388.7 175.6L389.4 176.4" opacity="0.4" fill="none" stroke="none" marker-start="url(#hA)" marker-mid="url(#hA)" marker-end="url(#hA)"/>
<path d="M83.9 174.2L84.5 171.8L85.1 171.3L85.8 171.2L86.4 172.3L87 172.7L87.6 173.4L88.2 170.7L88.8 169.5L89.5 170.2L90.1 170.8L90.7 171.7L91.3 172.6L91.9 173.6L92.5 173L93.2 170.1L93.8 170.8L94.4 171.9L95 173.2L95.6 173.6L96.2 175.2L96.8 174.2L97.5 171.6L98.1 172.8L98.7 174.2L99.3 175.4L99.9 176.4L100.5 177.4L101.2 177.1L101.8 174.6L102.4 175.4L103 177L103.6 178.4L104.2 179.4L104.9 175.7L105.5 175.7L106.1 176.3L106.7 177.8L107.3 178L107.9 179.2L108.5 178.3L109.2 176.1L109.8 176.2L110.4 176.3L111 177.2L111.6 178L112.2 178.4L112.9 179.1L113.5 180.5L114.1 174.5L114.7 176.1L115.3 176.7L115.9 179L116.6 180.1L117.2 176.6L117.8 175.8L118.4 175.8L119 176.7L119.6 177.8L120.2 178.9L120.9 179.4L121.5 180.5L122.1 179.6L122.7 175.2L123.3 176.5L123.9 177.5L124.6 178.7L125.2 179.5L125.8 181L126.4 178L127 176.2L127.6 176.8L128.3 177.5L128.9 178L129.5 178.5L130.1 179L130.7 180.1L131.3 180L131.9 175.1L132.6 176.2L133.2 177.2L133.8 178.1L134.4 180L135 179.5L135.6 176.1L136.3 176.2L136.9 177.1L137.5 178.6L138.1 179.1L138.7 179.5L139.3 176.4L140 176.7L140.6 177.5L141.2 179L141.8 179.4L142.4 178.1L143 175.9L143.6 176.4L144.3 177.5L144.9 177.6L145.5 178.8L146.1 178.9L146.7 180L147.3 180.1L148 175.9L148.6 176.1L149.2 177.5L149.8 179.3L150.4 180.3L151 179.2L151.7 176.3L152.3 175.8L152.9 176.8L153.5 178.3L154.1 178.5L154.7 179.1L155.3 180.7L156 179.3L156.6 177.4L157.2 177L157.8 178.2L158.4 178.3L159 179.1L159.7 179.7L160.3 180L160.9 179.2L161.5 176L162.1 177.1L162.7 178.1L163.4 179L164 180.2L164.6 180.9L165.2 182.2L165.8 178.8L166.4 177.1L167 177.6L167.7 178.3L168.3 179L168.9 180.4L169.5 180.4L170.1 181.2L170.7 180.3L171.4 178L172 178.9L172.6 180.3L173.2 180.5L173.8 181.8L174.4 178.4L175.1 179L175.7 179.3L176.3 180.1L176.9 180.7L177.5 181.3L178.1 182.3L178.7 181.1L179.4 178.9L180 179L180.6 179.4L181.2 180.3L181.8 180.9L182.4 181.4L183.1 181.5L183.7 181L184.3 176.9L184.9 178.2L185.5 178.9L186.1 179.9L186.8 181.6L187.4 181.7L188 179.9L188.6 177.3L189.2 178.7L189.8 179.5L190.4 181.1L191.1 181.8L191.7 179.3L192.3 178.4L192.9 179.5L193.5 179.2L194.1 180.2L194.8 180.6L195.4 181.2L196 181.7L196.6 177.6L197.2 178.6L197.8 179.3L198.5 180.2L199.1 181.2L199.7 181.6L200.3 177.6L200.9 177.3L201.5 179.2L202.1 179.8L202.8 180.4L203.4 181.8L204 179L204.6 177.2L205.2 177.8L205.8 178.7L206.5 179.3L207.1 179.9L207.7 180.4L208.3 181.4L208.9 178.4L209.5 177.1L210.2 177.9L210.8 178.1L211.4 179.8L212 180.3L212.6 181.2L213.2 179.3L213.8 177.1L214.5 178.4L215.1 178.4L215.7 179.5L216.3 179.6L216.9 179.8L217.5 177.8L218.2 176.5L218.8 177.3L219.4 178.2L220 177.9L220.6 179.5L221.2 180L221.9 180.1L222.5 179L223.1 175.7L223.7 177.5L224.3 177.5L224.9 179L225.5 180.2L226.2 180.5L226.8 180.1L227.4 177.7L228 178.1L228.6 178.2L229.2 178.7L229.9 179.9L230.5 180.5L231.1 178.1L231.7 177.5L232.3 178.2L232.9 178.3L233.6 178.6L234.2 179L234.8 180.4L235.4 178.1L236 177.3L236.6 178.2L237.2 178.1L237.9 178.6L238.5 179.2L239.1 180.2L239.7 178.7L240.3 176.3L240.9 176.8L241.6 178.6L242.2 179.9L242.8 180.8L243.4 179.6L244 176.2L244.6 177.3L245.3 179.2L245.9 180.2L246.5 181.4L247.1 178.8L247.7 178L248.3 179L249 180.5L249.6 180.8L250.2 181.9L250.8 176.9L251.4 177.2L252 178.2L252.6 180.3L253.3 180.8L253.9 181.9L254.5 178.5L255.1 177.3L255.7 178.3L256.3 179.2L257 179.6L257.6 180.8L258.2 181.5L258.8 180.6L259.4 178.9L260 178.3L260.7 178.6L261.3 179.2L261.9 180.4L262.5 181.5L263.1 181.7L263.7 183L264.3 180.2L265 179.5L265.6 179.6L266.2 180.9L266.8 182.1L267.4 182.1L268 179.5L268.7 179.5L269.3 180.3L269.9 182.1L270.5 182.4L271.1 184.2L271.7 179.3L272.4 179.4L273 180.4L273.6 181.4L274.2 182.1L274.8 182.9L275.4 181.1L276 179.2L276.7 179.7L277.3 180.7L277.9 180.6L278.5 181.3L279.1 182.7L279.7 183L280.4 179.3L281 179.7L281.6 179.5L282.2 180.3L282.8 180.8L283.4 181.8L284.1 182.8L284.7 182L285.3 179.9L285.9 180.1L286.5 181.3L287.1 182L287.7 182.9L288.4 183.9L289 184.9L289.6 186L290.2 182.5L290.8 182.1L291.4 182.7L292.1 184L292.7 185.1L293.3 186.4L293.9 186.8L294.5 186.5L295.1 184.4L295.8 183.9L296.4 184.7L297 185L297.6 186.5L298.2 186.6L298.8 186.6L299.4 185.3L300.1 182.3L300.7 181.6L301.3 182.6L301.9 182.3L302.5 182.6L303.1 183.3L303.8 178.8L304.4 180.2L305 181.5L305.6 183.2L306.2 183.8L306.8 185.1L307.5 181L308.1 180.3L308.7 181.1L309.3 182.1L309.9 183.5L310.5 183.9L311.1 185.1L311.8 184.1L312.4 182.1L313 182.8L313.6 183.9L314.2 185.3L314.8 186L315.5 182.9L316.1 183.4L316.7 183.3L317.3 183.9L317.9 185.1L318.5 186.1L319.2 182.8L319.8 183L320.4 184L321 185.5L321.6 186.5L322.2 187.4L322.8 184.4L323.5 182.5L324.1 184.6L324.7 185.4L325.3 186.4L325.9 187.7L326.5 186.7L327.2 183.4L327.8 184.8L328.4 186L329 186.9L329.6 189.4L330.2 184.4L330.9 184.6L331.5 185.8L332.1 187.2L332.7 187.9L333.3 188.2L333.9 189.4L334.5 186.5L335.2 185L335.8 185.8L336.4 187.5L337 188.4L337.6 189.5L338.2 190.6L338.9 191L339.5 189.4L340.1 187.1L340.7 187.6L341.3 189.5L341.9 190.6L342.6 191.9L343.2 192.3L343.8 189.5L344.4 189L345 189.8L345.6 191.3L346.2 192L346.9 192.7L347.5 193.1L348.1 192.7L348.7 191.3L349.3 192.5L349.9 192.8L350.6 193.1L351.2 194.6L351.8 193.3L352.4 191.3L353 192.8L353.6 193.7L354.3 195.4L354.9 196.1L355.5 195.4L356.1 193.2L356.7 193.4L357.3 194.6L357.9 195.6L358.6 196.2L359.2 195.3L359.8 193.3L360.4 193.7L361 194.7L361.6 195.7L362.3 195.8L362.9 196.7L363.5 197.8L364.1 197.1L364.7 193.5L365.3 194.7L366 196L366.6 197.4L367.2 198.2L367.8 199.8L368.4 197.4L369 196.3L369.6 196L370.3 197.3L370.9 198.4L371.5 198.9L372.1 199.5L372.7 200.3L373.3 197.2L374 196.9L374.6 197.7L375.2 198.7L375.8 199.8L376.4 200L377 200.4L377.7 198.2L378.3 197.9L378.9 198.2L379.5 198.7L380.1 199.1L380.7 200.3L381.3 200.3L382 200.8L382.6 200.5L383.2 197.7L383.8 199.1L384.4 199.9L385 201L385.7 201.3L386.3 203.5L386.9 199.7L387.5 198.4L388.1 199.4L388.7 200L389.4 201.2L390 201.3L390.6 203L391.2 203.8" fill="none" stroke="none" marker-start="url(#foA)" marker-mid="url(#foA)" marker-end="url(#foA)"/><path d="M85.1 171.3L85.8 171.2L86.4 172.3L87 172.7L88.8 169.5L89.5 170.2L90.1 170.8L90.7 171.7L91.3 172.6L93.8 170.8L94.4 171.9L95 173.2L95.6 173.6L98.1 172.8L98.7 174.2L99.3 175.4L99.9 176.4L102.4 175.4L103 177L103.6 178.4L105.5 175.7L106.1 176.3L106.7 177.8L107.3 178L109.8 176.2L110.4 176.3L111 177.2L111.6 178L112.2 178.4L112.9 179.1L114.7 176.1L115.3 176.7L115.9 179L118.4 175.8L119 176.7L119.6 177.8L120.2 178.9L120.9 179.4L123.3 176.5L123.9 177.5L124.6 178.7L125.2 179.5L127.6 176.8L128.3 177.5L128.9 178L129.5 178.5L130.1 179L132.6 176.2L133.2 177.2L133.8 178.1L134.4 180L136.3 176.2L136.9 177.1L137.5 178.6L138.1 179.1L140 176.7L140.6 177.5L141.2 179L143.6 176.4L144.3 177.5L144.9 177.6L145.5 178.8L146.1 178.9L148.6 176.1L149.2 177.5L149.8 179.3L150.4 180.3L152.3 175.8L152.9 176.8L153.5 178.3L154.1 178.5L154.7 179.1L157.2 177L157.8 178.2L158.4 178.3L159 179.1L159.7 179.7L162.1 177.1L162.7 178.1L163.4 179L164 180.2L164.6 180.9L167 177.6L167.7 178.3L168.3 179L168.9 180.4L169.5 180.4L172 178.9L172.6 180.3L173.2 180.5L175.1 179L175.7 179.3L176.3 180.1L176.9 180.7L177.5 181.3L180 179L180.6 179.4L181.2 180.3L181.8 180.9L182.4 181.4L184.9 178.2L185.5 178.9L186.1 179.9L186.8 181.6L188.6 177.3L189.2 178.7L189.8 179.5L190.4 181.1L192.3 178.4L192.9 179.5L193.5 179.2L194.1 180.2L194.8 180.6L197.2 178.6L197.8 179.3L198.5 180.2L199.1 181.2L200.9 177.3L201.5 179.2L202.1 179.8L202.8 180.4L205.2 177.8L205.8 178.7L206.5 179.3L207.1 179.9L207.7 180.4L209.5 177.1L210.2 177.9L210.8 178.1L211.4 179.8L212 180.3L214.5 178.4L215.1 178.4L215.7 179.5L216.3 179.6L218.2 176.5L218.8 177.3L219.4 178.2L220 177.9L220.6 179.5L221.2 180L223.7 177.5L224.3 177.5L224.9 179L225.5 180.2L226.2 180.5L228 178.1L228.6 178.2L229.2 178.7L229.9 179.9L231.7 177.5L232.3 178.2L232.9 178.3L233.6 178.6L234.2 179L236 177.3L236.6 178.2L237.2 178.1L237.9 178.6L238.5 179.2L240.3 176.3L240.9 176.8L241.6 178.6L242.2 179.9L244 176.2L244.6 177.3L245.3 179.2L245.9 180.2L247.7 178L248.3 179L249 180.5L249.6 180.8L251.4 177.2L252 178.2L252.6 180.3L253.3 180.8L255.1 177.3L255.7 178.3L256.3 179.2L257 179.6L257.6 180.8L260 178.3L260.7 178.6L261.3 179.2L261.9 180.4L262.5 181.5L263.1 181.7L265 179.5L265.6 179.6L266.2 180.9L266.8 182.1L268.7 179.5L269.3 180.3L269.9 182.1L270.5 182.4L272.4 179.4L273 180.4L273.6 181.4L274.2 182.1L276.7 179.7L277.3 180.7L277.9 180.6L278.5 181.3L279.1 182.7L281 179.7L281.6 179.5L282.2 180.3L282.8 180.8L283.4 181.8L285.9 180.1L286.5 181.3L287.1 182L287.7 182.9L288.4 183.9L289 184.9L290.8 182.1L291.4 182.7L292.1 184L292.7 185.1L293.3 186.4L293.9 186.8L295.8 183.9L296.4 184.7L297 185L297.6 186.5L298.2 186.6L300.7 181.6L301.3 182.6L301.9 182.3L302.5 182.6L304.4 180.2L305 181.5L305.6 183.2L306.2 183.8L308.1 180.3L308.7 181.1L309.3 182.1L309.9 183.5L310.5 183.9L313 182.8L313.6 183.9L314.2 185.3L316.1 183.4L316.7 183.3L317.3 183.9L317.9 185.1L319.8 183L320.4 184L321 185.5L321.6 186.5L323.5 182.5L324.1 184.6L324.7 185.4L325.3 186.4L327.8 184.8L328.4 186L329 186.9L330.9 184.6L331.5 185.8L332.1 187.2L332.7 187.9L333.3 188.2L335.2 185L335.8 185.8L336.4 187.5L337 188.4L337.6 189.5L338.2 190.6L340.7 187.6L341.3 189.5L341.9 190.6L342.6 191.9L344.4 189L345 189.8L345.6 191.3L346.2 192L346.9 192.7L348.7 191.3L349.3 192.5L349.9 192.8L350.6 193.1L352.4 191.3L353 192.8L353.6 193.7L354.3 195.4L354.9 196.1L356.7 193.4L357.3 194.6L357.9 195.6L360.4 193.7L361 194.7L361.6 195.7L362.3 195.8L362.9 196.7L365.3 194.7L366 196L366.6 197.4L367.2 198.2L369.6 196L370.3 197.3L370.9 198.4L371.5 198.9L372.1 199.5L374 196.9L374.6 197.7L375.2 198.7L375.8 199.8L376.4 200L378.9 198.2L379.5 198.7L380.1 199.1L380.7 200.3L381.3 200.3L383.8 199.1L384.4 199.9L385 201L385.7 201.3L388.1 199.4L388.7 200L389.4 201.2L390 201.3L390.6 203" opacity="0.42" fill="none" stroke="none" marker-start="url(#hA)" marker-mid="url(#hA)" marker-end="url(#hA)"/>
</g>
<g clip-path="url(#cb)">
<path d="M492.7 122.2L501.5 121.2L510.2 119.8L518.9 120.2L527.7 119.1L536.4 150.9L545.1 153.5L553.9 153.1L562.6 150.9L571.4 150.5L580.1 168.6L588.8 169.2L597.6 170.4L606.3 171.7L615 173.5L623.8 194.1L632.5 194.9L641.2 195.3L650 196L658.7 196.6L667.5 228.5L676.2 230.6L684.9 232L693.7 232.6L702.4 233.2L711.1 267.6L719.9 269.5L728.6 270.7L737.3 271.8L746.1 272L754.8 121.2L763.5 119.8L772.3 117.3L781 116.9L789.8 116.9" fill="none" stroke="#b763b3" stroke-width="1.9" stroke-linejoin="round" marker-start="url(#mp6)" marker-mid="url(#mp6)" marker-end="url(#mp6)"/>
<path d="M492.7 107L501.5 104.5L510.2 105.3L518.9 106L527.7 106.2L536.4 135.6L545.1 137.3L553.9 138.3L562.6 139.1L571.4 139.3L580.1 155.8L588.8 155.2L597.6 155.6L606.3 155L615 155L623.8 174.3L632.5 175.4L641.2 176L650 176.4L658.7 177L667.5 208.1L676.2 209.2L684.9 209.8L693.7 210.2L702.4 211L711.1 246.6L719.9 248.3L728.6 249.7L737.3 249.9L746.1 250.1L754.8 106L763.5 105.6L772.3 105.4L781 105.1L789.8 103.5" fill="none" stroke="#5bc45f" stroke-width="1.9" stroke-linejoin="round" marker-start="url(#mg6)" marker-mid="url(#mg6)" marker-end="url(#mg6)"/>
</g>
<g clip-path="url(#cc)">
<path d="M83.2 496.7L83.7 494.8L84.1 492.8L84.6 489.9L85 488.9L85.5 490.9L85.9 490.2L86.4 490.3L86.8 491.2L87.3 491.3L87.7 491.9L88.2 492.4L88.6 494.3L89.1 493.6L89.5 494.1L90 494.9L90.4 496.1L90.9 495.7L91.3 491.5L91.8 488.7L92.2 486.5L92.7 488.2L93.1 486.9L93.6 486.7L94 489.2L94.5 489.2L94.9 490L95.4 491.4L95.8 492.2L96.3 493.2L96.7 493.7L97.2 495.7L97.6 492.4L98.1 489.9L98.5 487.3L99 487.4L99.4 488.7L99.9 490.5L100.3 490.8L100.8 491.6L101.2 492.9L101.7 493.7L102.1 494.7L102.6 494.5L103 493.8L103.5 491.5L103.9 488.3L104.4 489.1L104.8 490.7L105.3 492.4L105.7 492.4L106.2 494.1L106.6 495.4L107.1 494.5L107.5 495.9L108 497.7L108.4 497.1L108.9 494.4L109.3 491.7L109.8 488.7L110.2 492.1L110.7 491.8L111.1 492.7L111.6 493.3L112 492.7L112.5 493.6L112.9 494.5L113.4 497.1L113.8 496.2L114.3 497.3L114.7 498L115.2 499.3L115.6 496.6L116.1 493.3L116.5 493.2L117 493.3L117.4 494.7L117.9 494.8L118.3 495.4L118.8 496.9L119.2 496.6L119.7 497.8L120.1 498.7L120.6 500.4L121 502.4L121.5 501.1L121.9 498.2L122.4 495.9L122.8 497L123.3 496.8L123.7 498.6L124.2 499.6L124.6 502L125.1 502.9L125.5 504.3L126 505.6L126.4 505.5L126.9 506.6L127.3 504.8L127.8 502.1L128.2 499.3L128.7 499.9L129.1 499.9L129.6 501.1L130 501.4L130.5 502.5L130.9 501.7L131.4 504.9L131.8 505.1L132.3 504.7L132.7 505L133.2 506.1L133.6 507.2L134.1 507.6L134.5 508.2L135 507.4L135.4 508.5L135.8 508.6L136.3 505L136.7 502.5L137.2 500.5L137.6 502.2L138.1 501.9L138.5 503.3L139 503.3L139.4 502.9L139.9 504L140.3 506.4L140.8 505.1L141.2 505.5L141.7 507.4L142.1 507.3L142.6 507.8L143 509.3L143.5 507.9L143.9 508.9L144.4 505.7L144.8 504.4L145.3 501.1L145.7 500.4L146.2 501.4L146.6 503.7L147.1 504L147.5 503.3L148 506.1L148.4 505L148.9 505.1L149.3 506.4L149.8 507.7L150.2 508.7L150.7 509L151.1 508.7L151.6 508.9L152 506.3L152.5 504.5L152.9 501.2L153.4 501.3L153.8 501.8L154.3 502.2L154.7 502.8L155.2 503.6L155.6 504.1L156.1 505.8L156.5 506.1L157 505.9L157.4 507.6L157.9 508.1L158.3 512.9L158.8 516L159.2 520L159.7 521.9L160.1 516.3L160.6 510.7L161 506.8L161.5 503.5L161.9 504L162.4 503.8L162.8 504.9L163.3 504.7L163.7 505.2L164.2 506.3L164.6 508L165.1 507.8L165.5 507.7L166 508L166.4 509.2L166.9 507.8L167.3 504.6L167.8 501.2L168.2 502.1L168.7 502.6L169.1 503.8L169.6 503.4L170 504.8L170.5 506.6L170.9 506.6L171.4 508.3L171.8 508L172.3 509.5L172.7 507.5L173.2 506.6L173.6 502.5L174.1 502L174.5 502.7L175 503.8L175.4 504.4L175.9 505.7L176.3 506.3L176.8 506.2L177.2 506.9L177.7 507L178.1 507.6L178.6 508.7L179 510.3L179.5 510.6L179.9 510.8L180.4 510L180.8 506.8L181.3 505.2L181.7 504.3L182.2 505.8L182.6 505.5L183.1 505.6L183.5 506.9L184 507.8L184.4 507.6L184.9 508L185.3 509.4L185.8 509.8L186.2 510.3L186.7 509.8L187.1 511L187.6 511.5L188 510.4L188.4 512.5L188.9 512.1L189.3 508.7L189.8 504.7L190.2 503.6L190.7 504.6L191.1 505.3L191.6 505.4L192 505.5L192.5 506.2L192.9 506.7L193.4 507.1L193.8 508.3L194.3 508.6L194.7 509.5L195.2 507.7L195.6 505.8L196.1 504.5L196.5 501L197 501.7L197.4 501.9L197.9 501.4L198.3 502.9L198.8 502.9L199.2 501.8L199.7 503.7L200.1 504.2L200.6 503.5L201 505.4L201.5 504.9L201.9 504.4L202.4 505.9L202.8 502.7L203.3 501.9L203.7 498.9L204.2 498.6L204.6 498.8L205.1 498.7L205.5 499.1L206 501L206.4 501.4L206.9 501.2L207.3 501L207.8 501.1L208.2 501.9L208.7 503.6L209.1 503.3L209.6 503.3L210 503.2L210.5 503.1L210.9 501.4L211.4 499.5L211.8 497L212.3 497.1L212.7 497.9L213.2 499.2L213.6 498.7L214.1 498L214.5 500.2L215 499.8L215.4 502.1L215.9 500.1L216.3 500.6L216.8 500.9L217.2 501.6L217.7 501.9L218.1 499.3L218.6 496.2L219 493.3L219.5 495L219.9 494.8L220.4 495.5L220.8 495.1L221.3 496.1L221.7 496.4L222.2 496.9L222.6 498.1L223.1 498.6L223.5 499L224 499.4L224.4 499L224.9 500.2L225.3 498.7L225.8 498L226.2 495.8L226.7 494.6L227.1 494.8L227.6 494.5L228 496L228.5 495.8L228.9 496.4L229.4 497L229.8 495.5L230.3 497.2L230.7 496.9L231.2 497.8L231.6 498.5L232.1 499.8L232.5 499.5L233 501L233.4 500.1L233.9 501.2L234.3 498.9L234.8 496.3L235.2 495.2L235.7 495.2L236.1 497.5L236.6 497.9L237 498.4L237.5 499.1L237.9 499.3L238.4 500.2L238.8 501.7L239.3 501.5L239.7 502.2L240.1 504.5L240.6 500.6L241 497.2L241.5 497.9L241.9 497.8L242.4 499.1L242.8 500.4L243.3 502L243.7 502L244.2 503.3L244.6 503.9L245.1 504.8L245.5 505.9L246 502.6L246.4 500.6L246.9 499.4L247.3 500.6L247.8 501.7L248.2 501.4L248.7 503.3L249.1 503.4L249.6 505.3L250 505.2L250.5 506.1L250.9 507.2L251.4 508.5L251.8 507.7L252.3 506.7L252.7 505.2L253.2 505.5L253.6 505.4L254.1 506.7L254.5 507.5L255 507.2L255.4 509.5L255.9 509.7L256.3 510.7L256.8 511.8L257.2 513.1L257.7 512.9L258.1 512.1L258.6 510.3L259 510.2L259.5 511.5L259.9 513L260.4 513.7L260.8 514.9L261.3 515.5L261.7 517.1L262.2 518.6L262.6 517.9L263.1 517.1L263.5 520.1L264 515.3L264.4 514.6L264.9 512.6L265.3 512.3L265.8 511.9L266.2 513.5L266.7 513.1L267.1 513.3L267.6 514.2L268 514.8L268.5 515.2L268.9 515.9L269.4 514.9L269.8 517.6L270.3 516.8L270.7 518L271.2 517.6L271.6 516.6L272.1 514.3L272.5 512L273 509.1L273.4 508.9L273.9 510.3L274.3 510.6L274.8 511.7L275.2 512.1L275.7 513.5L276.1 513.4L276.6 513.4L277 514.1L277.5 512.9L277.9 514.8L278.4 515.4L278.8 516.6L279.3 517.5L279.7 515.2L280.2 513.5L280.6 511.4L281.1 510L281.5 510.7L282 510.9L282.4 511.7L282.9 512.1L283.3 513.2L283.8 513.1L284.2 513.8L284.7 515.7L285.1 515L285.6 515.5L286 516.3L286.5 515.6L286.9 517.2L287.4 517.7L287.8 518L288.3 517.3L288.7 513.4L289.2 511.2L289.6 511.2L290.1 513.1L290.5 513.2L291 513.1L291.4 514.8L291.9 514.9L292.3 516.9L292.7 516.8L293.2 516.5L293.6 518.3L294.1 517.5L294.5 516L295 514.7L295.4 514.5L295.9 514.9L296.3 515.3L296.8 515.3L297.2 516.7L297.7 517.5L298.1 518L298.6 519L299 518.8L299.5 520.6L299.9 521L300.4 522L300.8 522.5L301.3 523.2L301.7 524.3L302.2 524.5L302.6 522.4L303.1 521.9L303.5 521L304 521.2L304.4 523.6L304.9 523.3L305.3 524.9L305.8 525L306.2 525.7L306.7 528L307.1 527.7L307.6 528.3L308 530.3L308.5 530.4L308.9 532.3L309.4 529.7L309.8 526.8L310.3 525.2L310.7 525.8L311.2 527.6L311.6 527.5L312.1 528.6L312.5 529.2L313 529.2L313.4 531L313.9 531.7L314.3 532.8L314.8 533.7L315.2 533.6L315.7 531.2L316.1 528.5L316.6 526.8L317 525.2L317.5 526L317.9 525.5L318.4 526.6L318.8 527.7L319.3 528.1L319.7 528.6L320.2 529.5L320.6 530L321.1 530.2L321.5 532.4L322 531.7L322.4 533.1L322.9 533.7L323.3 534.6L323.8 532.4L324.2 530.7L324.7 526.9L325.1 525L325.6 526.8L326 527.6L326.5 528.3L326.9 529.4L327.4 529.2L327.8 532L328.3 531.6L328.7 532.4L329.2 532.5L329.6 531.7L330.1 533.7L330.5 533.9L331 532.7L331.4 529.9L331.9 528.3L332.3 528.7L332.8 528.9L333.2 529.7L333.7 530.9L334.1 532.3L334.6 531.7L335 532.9L335.5 532.5L335.9 533.7L336.4 534.9L336.8 535.9L337.3 534.4L337.7 533.8L338.2 531.5L338.6 532L339.1 532.2L339.5 533.4L340 533.6L340.4 534.4L340.9 534.6L341.3 535.7L341.8 536.5L342.2 537.9L342.7 539.4L343.1 537.4L343.6 535.6L344 532.8L344.5 533.6L344.9 534.1L345.3 535.6L345.8 535L346.2 536.8L346.7 536L347.1 539.1L347.6 539.4L348 538.3L348.5 540L348.9 540.1L349.4 540.6L349.8 542L350.3 539.5L350.7 536.7L351.2 535L351.6 536.1L352.1 537.1L352.5 537.6L353 537.2L353.4 538.3L353.9 539.5L354.3 539.8L354.8 541.5L355.2 541.6L355.7 542.6L356.1 543.2L356.6 545.1L357 541.4L357.5 539.3L357.9 536.6L358.4 537.1L358.8 537.1L359.3 538.8L359.7 540.1L360.2 540.5L360.6 540.6L361.1 542.3L361.5 542L362 542.8L362.4 543.5L362.9 543.8L363.3 545L363.8 544.6L364.2 544.9L364.7 545.8L365.1 544.3L365.6 541.9L366 539.5L366.5 538.9L366.9 539.1L367.4 540.5L367.8 540.5L368.3 541.2L368.7 542.4L369.2 541.6L369.6 542.2L370.1 544.1L370.5 545L371 544.9L371.4 545L371.9 546.7L372.3 546.9L372.8 547.8L373.2 546.6L373.7 545.3L374.1 544.7L374.6 543.2L375 541.5L375.5 542.4L375.9 544.1L376.4 544.5L376.8 544.8L377.3 546L377.7 546.6L378.2 546.6L378.6 547.8L379.1 549.1L379.5 550.2L380 549.9L380.4 551L380.9 552L381.3 552.3L381.8 552.5L382.2 548L382.7 547L383.1 549.7L383.6 548.9L384 549.6L384.5 551.7L384.9 553.3L385.4 553.6L385.8 553.5L386.3 555.3L386.7 556L387.2 555.6L387.6 553.9L388.1 552.2L388.5 551.6L389 551.5L389.4 551.1L389.9 553.2L390.3 552.6L390.8 555.5L391.2 554.5L391.7 555.6L392.1 557.1L392.6 559.9L393 561.4L393.5 559.9L393.9 559.6L394.4 558.5L394.8 559.6L395.3 562.6L395.7 564L396.2 564.6L396.6 566.1L397.1 567.4" fill="none" stroke="none" marker-start="url(#fpC)" marker-mid="url(#fpC)" marker-end="url(#fpC)"/><path d="M85.5 490.9L86.4 490.3L87.3 491.3L88.2 492.4L89.1 493.6L90 494.9L92.7 488.2L93.6 486.7L94.5 489.2L95.4 491.4L96.3 493.2L99 487.4L99.9 490.5L100.8 491.6L101.7 493.7L104.4 489.1L105.3 492.4L106.2 494.1L107.1 494.5L110.7 491.8L111.6 493.3L112.5 493.6L113.4 497.1L114.3 497.3L117 493.3L117.9 494.8L118.8 496.9L119.7 497.8L120.6 500.4L123.3 496.8L124.2 499.6L125.1 502.9L126 505.6L129.6 501.1L130.5 502.5L131.4 504.9L132.3 504.7L133.2 506.1L134.1 507.6L137.6 502.2L138.5 503.3L139.4 502.9L140.3 506.4L141.2 505.5L142.1 507.3L145.7 500.4L146.6 503.7L147.5 503.3L148.4 505L149.3 506.4L150.2 508.7L153.8 501.8L154.7 502.8L155.6 504.1L156.5 506.1L157.4 507.6L158.3 512.9L161.9 504L162.8 504.9L163.7 505.2L164.6 508L165.5 507.7L168.2 502.1L169.1 503.8L170 504.8L170.9 506.6L174.5 502.7L175.4 504.4L176.3 506.3L177.2 506.9L178.1 507.6L179 510.3L182.6 505.5L183.5 506.9L184.4 507.6L185.3 509.4L186.2 510.3L187.1 511L190.7 504.6L191.6 505.4L192.5 506.2L193.4 507.1L194.3 508.6L197 501.7L197.9 501.4L198.8 502.9L199.7 503.7L200.6 503.5L201.5 504.9L205.1 498.7L206 501L206.9 501.2L207.8 501.1L208.7 503.6L212.3 497.1L213.2 499.2L214.1 498L215 499.8L215.9 500.1L216.8 500.9L219.5 495L220.4 495.5L221.3 496.1L222.2 496.9L223.1 498.6L224 499.4L227.6 494.5L228.5 495.8L229.4 497L230.3 497.2L231.2 497.8L232.1 499.8L235.7 495.2L236.6 497.9L237.5 499.1L238.4 500.2L239.3 501.5L241.9 497.8L242.8 500.4L243.7 502L244.6 503.9L247.3 500.6L248.2 501.4L249.1 503.4L250 505.2L250.9 507.2L253.6 505.4L254.5 507.5L255.4 509.5L256.3 510.7L259 510.2L259.9 513L260.8 514.9L261.7 517.1L262.6 517.9L266.2 513.5L267.1 513.3L268 514.8L268.9 515.9L269.8 517.6L273.4 508.9L274.3 510.6L275.2 512.1L276.1 513.4L277 514.1L277.9 514.8L281.5 510.7L282.4 511.7L283.3 513.2L284.2 513.8L285.1 515L286 516.3L286.9 517.2L289.6 511.2L290.5 513.2L291.4 514.8L292.3 516.9L293.2 516.5L295.9 514.9L296.8 515.3L297.7 517.5L298.6 519L299.5 520.6L300.4 522L304 521.2L304.9 523.3L305.8 525L306.7 528L307.6 528.3L311.2 527.6L312.1 528.6L313 529.2L313.9 531.7L317.5 526L318.4 526.6L319.3 528.1L320.2 529.5L321.1 530.2L322 531.7L325.6 526.8L326.5 528.3L327.4 529.2L328.3 531.6L329.2 532.5L332.8 528.9L333.7 530.9L334.6 531.7L335.5 532.5L336.4 534.9L339.1 532.2L340 533.6L340.9 534.6L341.8 536.5L344.5 533.6L345.3 535.6L346.2 536.8L347.1 539.1L348 538.3L348.9 540.1L351.6 536.1L352.5 537.6L353.4 538.3L354.3 539.8L355.2 541.6L358.8 537.1L359.7 540.1L360.6 540.6L361.5 542L362.4 543.5L363.3 545L366.9 539.1L367.8 540.5L368.7 542.4L369.6 542.2L370.5 545L371.4 545L372.3 546.9L375.9 544.1L376.8 544.8L377.7 546.6L378.6 547.8L379.5 550.2L380.4 551L383.1 549.7L384 549.6L384.9 553.3L385.8 553.5L389.4 551.1L390.3 552.6L391.2 554.5L392.1 557.1L394.8 559.6L395.7 564L396.6 566.1" opacity="0.6" fill="none" stroke="none" marker-start="url(#hC)" marker-mid="url(#hC)" marker-end="url(#hC)"/>
<circle cx="307.7" cy="515.5" r="3.3" fill="url(#gp)"/>
<path d="M83.2 456.6L83.7 458.1L84.1 459.3L84.6 460.4L85 460.4L85.5 460.3L85.9 461.8L86.4 461L86.8 463L87.3 462.8L87.7 465L88.2 465.2L88.6 465.4L89.1 463L89.5 460.9L90 458.3L90.4 458.9L90.9 458.3L91.3 459.5L91.8 460.8L92.2 459.4L92.7 462.3L93.1 462.3L93.6 461.7L94 462.1L94.5 462.5L94.9 465L95.4 461.6L95.8 458.2L96.3 455.5L96.7 455.7L97.2 456.5L97.6 457.9L98.1 457.4L98.5 459.4L99 460L99.4 459.9L99.9 461.2L100.3 461.1L100.8 462.2L101.2 463.2L101.7 464.9L102.1 464.3L102.6 464.9L103 462.4L103.5 463L103.9 459.9L104.4 458.5L104.8 457.8L105.3 459.2L105.7 461.2L106.2 461.7L106.6 460.7L107.1 460.7L107.5 460.9L108 460.6L108.4 462.2L108.9 462.1L109.3 464L109.8 462.7L110.2 462.6L110.7 462.4L111.1 462.9L111.6 464.1L112 460.4L112.5 459.6L112.9 457.5L113.4 458.5L113.8 459.5L114.3 460.1L114.7 460.6L115.2 463.1L115.6 464.3L116.1 465.5L116.5 467.2L117 468.4L117.4 468.5L117.9 470.5L118.3 469.7L118.8 472.9L119.2 473.1L119.7 473.2L120.1 470.2L120.6 468.9L121 465.5L121.5 465.7L121.9 465.7L122.4 467.1L122.8 467.5L123.3 467.3L123.7 467.4L124.2 467.4L124.6 470.1L125.1 469.8L125.5 470.2L126 470.9L126.4 471.1L126.9 472.8L127.3 473.4L127.8 471.9L128.2 471.3L128.7 469.8L129.1 469.1L129.6 467.5L130 468.5L130.5 468.9L130.9 467.6L131.4 470.3L131.8 469.7L132.3 469.8L132.7 471.1L133.2 472.5L133.6 470.8L134.1 471.4L134.5 473.5L135 471.7L135.4 469.7L135.8 466.9L136.3 465.8L136.7 466.6L137.2 466.2L137.6 466.9L138.1 467.6L138.5 468.3L139 470L139.4 470.4L139.9 469L140.3 471.5L140.8 471L141.2 471.6L141.7 474L142.1 474.7L142.6 475.2L143 473.1L143.5 470.7L143.9 467L144.4 464.5L144.8 464.3L145.3 467.2L145.7 468L146.2 468L146.6 467.6L147.1 468.8L147.5 468.6L148 469.8L148.4 471.7L148.9 472.5L149.3 472.5L149.8 473.2L150.2 473.2L150.7 474.2L151.1 474.5L151.6 478.1L152 480.4L152.5 484L152.9 487L153.4 483.1L153.8 478L154.3 472.3L154.7 467.6L155.2 469.1L155.6 469.2L156.1 469.4L156.5 470.2L157 471.6L157.4 470.8L157.9 472.3L158.3 471.4L158.8 472L159.2 472.8L159.7 472.9L160.1 471.9L160.6 469.6L161 467.5L161.5 466.8L161.9 466.9L162.4 467.9L162.8 467.8L163.3 468.6L163.7 469.3L164.2 470L164.6 470.9L165.1 470.4L165.5 471.7L166 472.2L166.4 473.6L166.9 474L167.3 472.8L167.8 470.7L168.2 469.1L168.7 467.5L169.1 467.2L169.6 469L170 470.1L170.5 469.7L170.9 471.6L171.4 469.9L171.8 474L172.3 472.3L172.7 473.7L173.2 474.6L173.6 471.9L174.1 470.1L174.5 467.5L175 469L175.4 469.9L175.9 469.4L176.3 470.3L176.8 471.8L177.2 471.5L177.7 472.6L178.1 473L178.6 473.4L179 473.8L179.5 474.7L179.9 474.6L180.4 474.9L180.8 474.5L181.3 473.9L181.7 473.4L182.2 470.9L182.6 466.9L183.1 468.3L183.5 469.2L184 469L184.4 469.5L184.9 470L185.3 470.3L185.8 471.8L186.2 470.8L186.7 471.4L187.1 471.4L187.6 472.6L188 471.7L188.4 470.8L188.9 467L189.3 466.2L189.8 466L190.2 466.4L190.7 467L191.1 468L191.6 467L192 469.6L192.5 468.8L192.9 468.8L193.4 468.6L193.8 470.8L194.3 471L194.7 471.5L195.2 470.6L195.6 468L196.1 462.7L196.5 463.9L197 463.8L197.4 465L197.9 465.5L198.3 466.6L198.8 467.4L199.2 468.2L199.7 469L200.1 470L200.6 470.4L201 467.9L201.5 465.9L201.9 464L202.4 464L202.8 461.9L203.3 463.6L203.7 462.4L204.2 463.3L204.6 463.5L205.1 464.5L205.5 465.7L206 466.3L206.4 465.8L206.9 466.6L207.3 466.6L207.8 465.8L208.2 467.7L208.7 465.5L209.1 462.3L209.6 460L210 459.1L210.5 458.3L210.9 459L211.4 458.7L211.8 459L212.3 461.1L212.7 461.6L213.2 461.5L213.6 463.6L214.1 462.4L214.5 464.2L215 464L215.4 465.2L215.9 466.3L216.3 465.7L216.8 468.4L217.2 464.9L217.7 463.6L218.1 460.9L218.6 460.2L219 461.9L219.5 462.1L219.9 462.5L220.4 463.6L220.8 465.1L221.3 463.8L221.7 463.4L222.2 465.5L222.6 465.1L223.1 466.7L223.5 466.8L224 468.4L224.4 464.9L224.9 463L225.3 460.8L225.8 460.3L226.2 462.3L226.7 462.8L227.1 464.1L227.6 464.7L228 464.7L228.5 465.1L228.9 465.9L229.4 467L229.8 467.3L230.3 467.4L230.7 470.9L231.2 471L231.6 470.5L232.1 471.2L232.5 472L233 471.3L233.4 468.5L233.9 466.1L234.3 462.4L234.8 463.2L235.2 465L235.7 465.2L236.1 467.6L236.6 468.4L237 467.5L237.5 470.1L237.9 469.9L238.4 471.6L238.8 474.1L239.3 474.1L239.7 475.9L240.1 476.3L240.6 479.2L241 476.2L241.5 472.1L241.9 469.2L242.4 470.5L242.8 473.3L243.3 472.9L243.7 475.8L244.2 477.7L244.6 478.9L245.1 478.7L245.5 482L246 483.1L246.4 481.9L246.9 481.3L247.3 479.8L247.8 479.7L248.2 480.9L248.7 480.2L249.1 479.4L249.6 480.4L250 477.5L250.5 477.6L250.9 477.6L251.4 479L251.8 479.2L252.3 479L252.7 478.5L253.2 481.5L253.6 478.2L254.1 475.3L254.5 473.5L255 471.4L255.4 472.7L255.9 471.5L256.3 474.4L256.8 474.1L257.2 474.4L257.7 474.9L258.1 474.3L258.6 475.7L259 476.1L259.5 477.2L259.9 476.4L260.4 476.9L260.8 474.8L261.3 473L261.7 471.5L262.2 471.1L262.6 471.6L263.1 471.6L263.5 471L264 472.8L264.4 472.5L264.9 473L265.3 472.6L265.8 475.1L266.2 475L266.7 474.4L267.1 475.5L267.6 476.2L268 475.7L268.5 470.9L268.9 468.7L269.4 469.3L269.8 469.8L270.3 469.9L270.7 471.7L271.2 471.2L271.6 471.9L272.1 473L272.5 474.7L273 475.1L273.4 474.8L273.9 474.7L274.3 471.8L274.8 471L275.2 468.4L275.7 468.5L276.1 469.9L276.6 471L277 470.6L277.5 471.9L277.9 472.4L278.4 473.4L278.8 475.6L279.3 475.2L279.7 477.6L280.2 477.4L280.6 475.9L281.1 473.1L281.5 472L282 473.3L282.4 474.5L282.9 475.6L283.3 477.4L283.8 477.3L284.2 479.8L284.7 481L285.1 480.7L285.6 482.7L286 483.4L286.5 482.2L286.9 479.1L287.4 477.5L287.8 478.2L288.3 477.6L288.7 479.7L289.2 481.4L289.6 482.6L290.1 481.6L290.5 482.2L291 484.4L291.4 484.8L291.9 486L292.3 486.3L292.7 488L293.2 486.5L293.6 484.3L294.1 483.2L294.5 481.5L295 482L295.4 482.8L295.9 482.8L296.3 482.5L296.8 483.6L297.2 482.7L297.7 482.2L298.1 482.5L298.6 483.2L299 482.9L299.5 483L299.9 483.5L300.4 483.1L300.8 480.9L301.3 479.3L301.7 475.7L302.2 476.1L302.6 475.8L303.1 476.1L303.5 477.3L304 478.3L304.4 476.9L304.9 476.3L305.3 476.4L305.8 477.8L306.2 478.1L306.7 478.2L307.1 478.1L307.6 477.7L308 479.5L308.5 476.7L308.9 474.6L309.4 474.3L309.8 472.7L310.3 475.6L310.7 474.4L311.2 476.4L311.6 476.3L312.1 478.2L312.5 477.7L313 478.8L313.4 479.8L313.9 479.9L314.3 479.9L314.8 481.1L315.2 479.7L315.7 481.2L316.1 479.9L316.6 476.6L317 476.3L317.5 477.2L317.9 477.8L318.4 478.5L318.8 481L319.3 479.1L319.7 481L320.2 482.3L320.6 482.2L321.1 485.1L321.5 484.5L322 485.6L322.4 484.5L322.9 484.4L323.3 481.4L323.8 480L324.2 481.7L324.7 481L325.1 483.8L325.6 482.8L326 483.4L326.5 485.2L326.9 483.4L327.4 486.3L327.8 485L328.3 485.5L328.7 487.1L329.2 488.2L329.6 487.4L330.1 486.6L330.5 485.3L331 483.8L331.4 481.8L331.9 482.1L332.3 481.6L332.8 483.8L333.2 483.6L333.7 484.5L334.1 485.2L334.6 485.3L335 486.2L335.5 486.2L335.9 487.1L336.4 486.6L336.8 486.6L337.3 487.8L337.7 486.8L338.2 489L338.6 486.7L339.1 485.4L339.5 481.5L340 481.9L340.4 483.3L340.9 485L341.3 482.1L341.8 483.8L342.2 484.1L342.7 484.1L343.1 487L343.6 486.2L344 486.5L344.5 486.6L344.9 488.1L345.3 488.2L345.8 487.9L346.2 485.7L346.7 483.1L347.1 481.6L347.6 481L348 482.8L348.5 481.2L348.9 483.1L349.4 483L349.8 483.3L350.3 483.5L350.7 485.3L351.2 484.9L351.6 486.8L352.1 486.9L352.5 487.3L353 487.4L353.4 488.5L353.9 486.9L354.3 484.8L354.8 482.2L355.2 483L355.7 483.1L356.1 485.9L356.6 487.2L357 486L357.5 489.1L357.9 488.7L358.4 490.3L358.8 491.9L359.3 491.7L359.7 493.3L360.2 489.7L360.6 488.8L361.1 487.1L361.5 488.3L362 488L362.4 487.4L362.9 488.5L363.3 490.4L363.8 489.3L364.2 490.6L364.7 490.2L365.1 491.4L365.6 492.6L366 493.5L366.5 491.6L366.9 490.9L367.4 489.1L367.8 489.6L368.3 492.7L368.7 495.7L369.2 498.6L369.6 502.2L370.1 505.8L370.5 509.7L371 508.1L371.4 504.2L371.9 502.8L372.3 500L372.8 497.2L373.2 495.4L373.7 492.3L374.1 494.6L374.6 490.9L375 488.7L375.5 487.1L375.9 485.8L376.4 485.9L376.8 486.1L377.3 488.1L377.7 487.5L378.2 488.2L378.6 487.7L379.1 487.9L379.5 488.1L380 490.4L380.4 489.6L380.9 489.6L381.3 489.3L381.8 489.1L382.2 489.9L382.7 490.4L383.1 487.8L383.6 485.8L384 482.5L384.5 480.9L384.9 481L385.4 481.3L385.8 481.2L386.3 481.5L386.7 481.7L387.2 481.3L387.6 481.3L388.1 480.2L388.5 481.4L389 480.2L389.4 480.1L389.9 478.5L390.3 476.1L390.8 473.8L391.2 471.3L391.7 470.8L392.1 472.5L392.6 472.7L393 474.7L393.5 473.1L393.9 473.8L394.4 474.2L394.8 474.7L395.3 474.8L395.7 475.9L396.2 476.8L396.6 478.7L397.1 479.2" fill="none" stroke="none" marker-start="url(#fgC)" marker-mid="url(#fgC)" marker-end="url(#fgC)"/><path d="M83.7 458.1L84.6 460.4L85.5 460.3L86.4 461L87.3 462.8L88.2 465.2L90.9 458.3L91.8 460.8L92.7 462.3L93.6 461.7L97.2 456.5L98.1 457.4L99 460L99.9 461.2L100.8 462.2L101.7 464.9L105.3 459.2L106.2 461.7L107.1 460.7L108 460.6L108.9 462.1L109.8 462.7L113.4 458.5L114.3 460.1L115.2 463.1L116.1 465.5L117 468.4L117.9 470.5L122.4 467.1L123.3 467.3L124.2 467.4L125.1 469.8L126 470.9L126.9 472.8L130.5 468.9L131.4 470.3L132.3 469.8L133.2 472.5L136.7 466.6L137.6 466.9L138.5 468.3L139.4 470.4L140.3 471.5L141.2 471.6L145.7 468L146.6 467.6L147.5 468.6L148.4 471.7L149.3 472.5L150.2 473.2L153.8 478L154.7 467.6L155.6 469.2L156.5 470.2L157.4 470.8L158.3 471.4L161.9 466.9L162.8 467.8L163.7 469.3L164.6 470.9L165.5 471.7L166.4 473.6L169.1 467.2L170 470.1L170.9 471.6L171.8 474L175.4 469.9L176.3 470.3L177.2 471.5L178.1 473L179 473.8L179.9 474.6L183.5 469.2L184.4 469.5L185.3 470.3L186.2 470.8L187.1 471.4L189.8 466L190.7 467L191.6 467L192.5 468.8L193.4 468.6L197 463.8L197.9 465.5L198.8 467.4L199.7 469L203.3 463.6L204.2 463.3L205.1 464.5L206 466.3L206.9 466.6L210.5 458.3L211.4 458.7L212.3 461.1L213.2 461.5L214.1 462.4L215 464L215.9 466.3L219.5 462.1L220.4 463.6L221.3 463.8L222.2 465.5L223.1 466.7L226.7 462.8L227.6 464.7L228.5 465.1L229.4 467L230.3 467.4L231.2 471L234.8 463.2L235.7 465.2L236.6 468.4L237.5 470.1L238.4 471.6L239.3 474.1L242.8 473.3L243.7 475.8L244.6 478.9L245.5 482L248.2 480.9L249.1 479.4L250 477.5L250.9 477.6L251.8 479.2L255.4 472.7L256.3 474.4L257.2 474.4L258.1 474.3L259 476.1L262.6 471.6L263.5 471L264.4 472.5L265.3 472.6L266.2 475L269.8 469.8L270.7 471.7L271.6 471.9L272.5 474.7L276.1 469.9L277 470.6L277.9 472.4L278.8 475.6L282.4 474.5L283.3 477.4L284.2 479.8L285.1 480.7L287.8 478.2L288.7 479.7L289.6 482.6L290.5 482.2L291.4 484.8L292.3 486.3L295 482L295.9 482.8L296.8 483.6L297.7 482.2L298.6 483.2L299.5 483L302.2 476.1L303.1 476.1L304 478.3L304.9 476.3L305.8 477.8L306.7 478.2L310.3 475.6L311.2 476.4L312.1 478.2L313 478.8L313.9 479.9L317.5 477.2L318.4 478.5L319.3 479.1L320.2 482.3L321.1 485.1L324.7 481L325.6 482.8L326.5 485.2L327.4 486.3L328.3 485.5L331.9 482.1L332.8 483.8L333.7 484.5L334.6 485.3L335.5 486.2L336.4 486.6L340.9 485L341.8 483.8L342.7 484.1L343.6 486.2L344.5 486.6L348 482.8L348.9 483.1L349.8 483.3L350.7 485.3L351.6 486.8L352.5 487.3L355.2 483L356.1 485.9L357 486L357.9 488.7L358.8 491.9L361.5 488.3L362.4 487.4L363.3 490.4L364.2 490.6L365.1 491.4L368.7 495.7L369.6 502.2L370.5 509.7L371.4 504.2L372.3 500L373.2 495.4L376.8 486.1L377.7 487.5L378.6 487.7L379.5 488.1L380.4 489.6L381.3 489.3L384.9 481L385.8 481.2L386.7 481.7L387.6 481.3L388.5 481.4L392.1 472.5L393 474.7L393.9 473.8L394.8 474.7L395.7 475.9L396.6 478.7" opacity="0.6" fill="none" stroke="none" marker-start="url(#hC)" marker-mid="url(#hC)" marker-end="url(#hC)"/>
</g>
<g clip-path="url(#cd)">
<path d="M483.9 382.9L484 382.3L484.2 380.9L484.3 380.4L484.5 380.2L484.6 379.8L484.8 379.6L484.9 379.7L485.1 380L485.2 379.7L485.4 380.3L485.5 380.5L485.7 380.2L485.8 381.4L486 381.1L486.1 381.5L486.3 380.9L486.4 381L486.6 381.4L486.7 381.6L486.9 382.1L487 382.1L487.2 382L487.3 381.9L487.5 382.3L487.6 383.1L487.8 382.4L487.9 383L488.1 383.2L488.2 382.6L488.4 383.4L488.5 384.1L488.7 382.7L488.8 381.7L489 381.4L489.1 380.4L489.3 379L489.4 379.4L489.6 379.6L489.7 379.9L489.9 380.2L490 380L490.2 380.1L490.3 379.7L490.5 380.7L490.6 380.4L490.8 380.6L490.9 380.5L491.1 380.8L491.2 381.1L491.4 382.1L491.5 380.9L491.7 381.3L491.8 382.2L492 382.9L492.1 382.7L492.3 381.9L492.4 381.9L492.6 383.2L492.7 383L492.9 383.1L493 384.1L493.2 384.4L493.3 384.3L493.5 383.6L493.6 382.7L493.8 382.1L493.9 381.6L494.1 380.2L494.2 380.8L494.4 380.9L494.5 380.9L494.7 380.1L494.8 380.8L495 381.6L495.1 380.8L495.3 381.6L495.4 382.3L495.6 381.6L495.7 383L495.9 382.8L496 382.7L496.2 383.1L496.3 383.4L496.5 383.4L496.6 384.1L496.8 383.6L496.9 383.9L497.1 384.7L497.2 384.5L497.4 384.3L497.5 385.3L497.7 384.4L497.8 384.3L498 383.8L498.1 383.2L498.3 383.4L498.4 381.9L498.6 382.2L498.7 380.9L498.9 381.3L499 382.1L499.2 382.5L499.3 382.6L499.5 382.6L499.6 382.7L499.8 382.9L499.9 383.3L500.1 383.2L500.2 383.5L500.4 383.9L500.5 383.8L500.7 384.3L500.8 384.4L501 385.2L501.1 384.7L501.3 384.6L501.4 384.8L501.6 385.1L501.7 385.7L501.9 385.3L502 385.8L502.2 386.6L502.3 385L502.5 385.8L502.6 386.5L502.8 386.7L502.9 386.9L503.1 386.8L503.2 387.4L503.4 387.4L503.5 387.3L503.7 387L503.8 386.1L503.9 385L504.1 384L504.2 381.9L504.4 382.5L504.5 383.4L504.7 382.8L504.8 383.6L505 384.3L505.1 384.7L505.3 385.3L505.4 384.4L505.6 385.3L505.7 385.7L505.9 386.5L506 387L506.2 385.9L506.3 387.8L506.5 387.2L506.6 388.4L506.8 387.9L506.9 389L507.1 389.7L507.2 389.6L507.4 388.7L507.5 388L507.7 388L507.8 387.2L508 386L508.1 387L508.3 385.7L508.4 386.8L508.6 386.6L508.7 387L508.9 387.6L509 387.6L509.2 388.1L509.3 387.5L509.5 387.8L509.6 388.9L509.8 388.5L509.9 388.8L510.1 388.9L510.2 390.3L510.4 390.3L510.5 390.9L510.7 390.2L510.8 390.8L511 390.6L511.1 391.5L511.3 391.6L511.4 390.5L511.6 389.2L511.7 387.7L511.9 388.2L512 387.6L512.2 387.6L512.3 388.3L512.5 388.5L512.6 389.2L512.8 388.4L512.9 389.5L513.1 389.9L513.2 390.1L513.4 389.7L513.5 389.7L513.7 390.6L513.8 390.5L514 390.8L514.1 391.5L514.3 391.1L514.4 390.5L514.6 391.5L514.7 391.2L514.9 392.5L515 392.6L515.2 392.4L515.3 391.8L515.5 391.6L515.6 390.5L515.8 390.3L515.9 389.9L516.1 389.3L516.2 388.4L516.4 389.2L516.5 388.3L516.7 388.8L516.8 388.7L517 390.1L517.1 389.3L517.3 390L517.4 390.2L517.6 390.4L517.7 390.4L517.9 390.9L518 391.7L518.2 391.2L518.3 391.6L518.5 392L518.6 391.7L518.8 391.5L518.9 391.9L519.1 392.8L519.2 391.9L519.4 392.5L519.5 393.3L519.7 392.9L519.8 392L520 390.9L520.1 390.1L520.3 389.9L520.4 389.9L520.6 389.4L520.7 389.5L520.9 389.7L521 389.6L521.2 390.3L521.3 390.1L521.5 390.8L521.6 389.9L521.8 391.2L521.9 391L522.1 390.6L522.2 391.9L522.4 391.7L522.5 391L522.7 391.8L522.8 392.4L523 392.3L523.1 392.9L523.3 393.1L523.4 393.2L523.6 393.3L523.7 393.8L523.8 393.7L524 394L524.1 393.4L524.3 392.1L524.4 391.3L524.6 391.5L524.7 389.3L524.9 389.5L525 390.1L525.2 389L525.3 389.8L525.5 390.5L525.6 389.8L525.8 390.3L525.9 390.6L526.1 390.1L526.2 390.6L526.4 391L526.5 391.4L526.7 391.2L526.8 391.3L527 391.2L527.1 391.7L527.3 392.4L527.4 392.2L527.6 392.1L527.7 392.3L527.9 393.9L528 393.5L528.2 393.5L528.3 392.4L528.5 393.9L528.6 394L528.8 394.7L528.9 394.4L529.1 394.4L529.2 394.8L529.4 394.1L529.5 394.3L529.7 394L529.8 393.7L530 392L530.1 391.8L530.3 391.8L530.4 391.3L530.6 390.6L530.7 390.4L530.9 391.8L531 391.5L531.2 390.8L531.3 390.9L531.5 392.2L531.6 392.1L531.8 392.6L531.9 392.3L532.1 391.8L532.2 392.4L532.4 391.6L532.5 392.3L532.7 392.7L532.8 393.1L533 392.7L533.1 393.1L533.3 393.5L533.4 393.6L533.6 393.8L533.7 393.8L533.9 393.7L534 394.3L534.2 394.1L534.3 393.9L534.5 394.2L534.6 394.5L534.8 394.6L534.9 394.9L535.1 394.9L535.2 395.4L535.4 395L535.5 394.6L535.7 393.8L535.8 392.9L536 392.5L536.1 391.4L536.3 390.4L536.4 391.1L536.6 390.9L536.7 391.7L536.9 391.1L537 390.6L537.2 391.4L537.3 392.6L537.5 391.9L537.6 391.7L537.8 392L537.9 392.7L538.1 392.8L538.2 392.8L538.4 393.5L538.5 393.3L538.7 393.2L538.8 393.6L539 394.2L539.1 394L539.3 394.2L539.4 393.5L539.6 394L539.7 394.5L539.9 394.3L540 395L540.2 395L540.3 395.2L540.5 394.9L540.6 396.2L540.8 395.1L540.9 395.6L541.1 393.9L541.2 393.9L541.4 393.4L541.5 392.4L541.7 391.4L541.8 391.4L542 391.1L542.1 391.6L542.3 391.6L542.4 391.4L542.6 391.9L542.7 391.9L542.9 391.9L543 392L543.2 392L543.3 392.6L543.5 392.1L543.6 392.5L543.7 392.9L543.9 392.5L544 393.1L544.2 392.7L544.3 393.4L544.5 394.1L544.6 394.2L544.8 394.2L544.9 394.3L545.1 394L545.2 395.5L545.4 395.1L545.5 395.5L545.7 394.9L545.8 395.4L546 394.9L546.1 396.1L546.3 396.3L546.4 395.4L546.6 396.3L546.7 396.7L546.9 396L547 395.7L547.2 394.7L547.3 394.5L547.5 393.8L547.6 393.2L547.8 392.5L547.9 392.7L548.1 392.8L548.2 392L548.4 392.6L548.5 392.6L548.7 392.8L548.8 393.5L549 393.7L549.1 394.2L549.3 393.6L549.4 394L549.6 394.7L549.7 394.9L549.9 395.1L550 395.5L550.2 395.4L550.3 396.3L550.5 396.4L550.6 396.5L550.8 396.5L550.9 397L551.1 396.2L551.2 397.2L551.4 397.8L551.5 397.5L551.7 398.4L551.8 398.7L552 397.1L552.1 397.4L552.3 397.1L552.4 396.4L552.6 395.7L552.7 395.6L552.9 395.2L553 395.1L553.2 395.1L553.3 394.8L553.5 394.7L553.6 395.2L553.8 395.2L553.9 395.2L554.1 395.7L554.2 395.7L554.4 396L554.5 396.3L554.7 396.1L554.8 397.3L555 396.3L555.1 397L555.3 396.7L555.4 397.3L555.6 396L555.7 396.7L555.9 397.2L556 397.5L556.2 398.3L556.3 397.6L556.5 398L556.6 397.9L556.8 398.1L556.9 398L557.1 397.9L557.2 398.2L557.4 398L557.5 397.9L557.7 398L557.8 396.5L558 395.9L558.1 395.7L558.3 394.7L558.4 393.7L558.6 394.2L558.7 394.5L558.9 394.7L559 394.2L559.2 395.4L559.3 395.6L559.5 395.1L559.6 395.4L559.8 395.3L559.9 396.2L560.1 395.5L560.2 396.2L560.4 396L560.5 396.1L560.7 396.8L560.8 397.3L561 396.9L561.1 396.9L561.3 397.7L561.4 397.5L561.6 397.9L561.7 398.6L561.9 398.6L562 398.2L562.2 399.5L562.3 398.8L562.5 399.3L562.6 399L562.8 399.4L562.9 399L563.1 400.6L563.2 399.3L563.4 398.7L563.5 399.2L563.6 397.9L563.8 397.5L563.9 396.8L564.1 396.3L564.2 395.3L564.4 395.6L564.5 395.2L564.7 396L564.8 396.3L565 396.6L565.1 396.6L565.3 396.5L565.4 397.1L565.6 397.1L565.7 398.1L565.9 398L566 397.9L566.2 397.9L566.3 398L566.5 398.1L566.6 398.6L566.8 399L566.9 399.3L567.1 399.5L567.2 400.3L567.4 399.4L567.5 399.9L567.7 401.2L567.8 399.5L568 400.2L568.1 400.7L568.3 400.9L568.4 401.1L568.6 401.1L568.7 401.5L568.9 401.6L569 402.1L569.2 401L569.3 399.8L569.5 399L569.6 399L569.8 397.7L569.9 397.4L570.1 396.9L570.2 397L570.4 397.3L570.5 397.3L570.7 397L570.8 397.8L571 398.2L571.1 398.1L571.3 398.5L571.4 399.1L571.6 398.6L571.7 399.5L571.9 400.2L572 399.5L572.2 400L572.3 400.1L572.5 401.1L572.6 400.8L572.8 401.3L572.9 400.9L573.1 401.4L573.2 401.7L573.4 401.2L573.5 402.8L573.7 402.8L573.8 402L574 403.2L574.1 403.1L574.3 401.1L574.4 401.1L574.6 401.2L574.7 399.8L574.9 399L575 398.6L575.2 398.8L575.3 399.6L575.5 400.4L575.6 400L575.8 400.2L575.9 401.1L576.1 400.2L576.2 400.3L576.4 401L576.5 401.2L576.7 400.7L576.8 400.8L577 401.6L577.1 401.7L577.3 401.3L577.4 401.9L577.6 401.9L577.7 402.5L577.9 402.4L578 402.6L578.2 403.7L578.3 402.3L578.5 402.1L578.6 400.7L578.8 400.4L578.9 399.9L579.1 399.8L579.2 399.2L579.4 399.5L579.5 399.8L579.7 399.3L579.8 400.1L580 400.1L580.1 400.7L580.3 400.4L580.4 400.3L580.6 401.4L580.7 401.8L580.9 401.7L581 402.6L581.2 402.4L581.3 402.6L581.5 403.3L581.6 402.8L581.8 403.4L581.9 404L582.1 404.6L582.2 404.5L582.4 405L582.5 404.9L582.7 405.2L582.8 405.6L583 403.7L583.1 403.2L583.3 402.5L583.4 402.1L583.5 401.3L583.7 401.3L583.8 402.7L584 403.1L584.1 403.4L584.3 404.6L584.4 404L584.6 404.3L584.7 405L584.9 405.1L585 406L585.2 405.2L585.3 405.9L585.5 405L585.6 407L585.8 406.9L585.9 407.8L586.1 408.6L586.2 408.1L586.4 408.3L586.5 408.5L586.7 408.7L586.8 408.8L587 408.3L587.1 407.7L587.3 407.6L587.4 406.9L587.6 406.1L587.7 405.9L587.9 405.7L588 405.6L588.2 407L588.3 407L588.5 406.7L588.6 407.9L588.8 408L588.9 407.5L589.1 409.2L589.2 409L589.4 409.6L589.5 409.6L589.7 409.8L589.8 409.6L590 410.9L590.1 410.9L590.3 411.1L590.4 411.7L590.6 411.9L590.7 412.5L590.9 412.4L591 412.9L591.2 412.4L591.3 413.4L591.5 414.4L591.6 413.8L591.8 414.1L591.9 413.1L592.1 413.2L592.2 413.3L592.4 412.3L592.5 412.5L592.7 411.5L592.8 412.2L593 412.4L593.1 412.9L593.3 413.6L593.4 414.5L593.6 413.6L593.7 414L593.9 414.7L594 414.5L594.2 415.4L594.3 415.8L594.5 415.8L594.6 416.5L594.8 416L594.9 417.2L595.1 416.6L595.2 417.3L595.4 417.7L595.5 418.1L595.7 418.9L595.8 418.9L596 419.1L596.1 419.8L596.3 420.5L596.4 420.2L596.6 420.7L596.7 421.3L596.9 421.4L597 421.2L597.2 423.2L597.3 423.5L597.5 422.3L597.6 423.2L597.8 423L597.9 422.6L598.1 422.3L598.2 422.7L598.4 423.1L598.5 422.5L598.7 422.9L598.8 423.8L599 423.5L599.1 424.6L599.3 424.9L599.4 425.7L599.6 425.7L599.7 426.1L599.9 426.7L600 427.3L600.2 427.5L600.3 428.2L600.5 428.9L600.6 429.5L600.8 430.1L600.9 429.6L601.1 430.1L601.2 429.7L601.4 431.9L601.5 431.3L601.7 432L601.8 432.6L602 432.2L602.1 432.1L602.3 433.1L602.4 433.6L602.6 432.5L602.7 433.7L602.9 433.6L603 433.9L603.2 434.1L603.3 434.9L603.5 434.7L603.6 435.5L603.7 435.4L603.9 436.3L604 436L604.2 436.5L604.3 437.6L604.5 437.3L604.6 437.4L604.8 437.3L604.9 437.7L605.1 438.4L605.2 438.9L605.4 439L605.5 439.3L605.7 439.4L605.8 440.2L606 439.8L606.1 440L606.3 440.9L606.4 440.8L606.6 441L606.7 441.1L606.9 441.5L607 442.2L607.2 442.3L607.3 442L607.5 442.9L607.6 443.1L607.8 442.9L607.9 443.8L608.1 444L608.2 444.2L608.4 443.4L608.5 443.9L608.7 443.4L608.8 444.8L609 443.7L609.1 444.5L609.3 444.2L609.4 445.1L609.6 446L609.7 444.4L609.9 445.6L610 446.3L610.2 446.4L610.3 446.5L610.5 448L610.6 447.5L610.8 447.2L610.9 448.5L611.1 447.8L611.2 449.3L611.4 449L611.5 449.6L611.7 450.4L611.8 450.3L612 450L612.1 450.2L612.3 451.7L612.4 451.9L612.6 451.6L612.7 452.6L612.9 452.8L613 453.2L613.2 452.4L613.3 453.5L613.5 454.3L613.6 453.3L613.8 454.8L613.9 455.4L614.1 456.7L614.2 455.9L614.4 457L614.5 458L614.7 459.1L614.8 459.4L615 460.9L615.1 461L615.3 462.2L615.4 462.8L615.6 463.9L615.7 464.4L615.9 464.8L616 468L616.2 470.2L616.3 472.3L616.5 475L616.6 477L616.8 477.6L616.9 479.4L617.1 481.1L617.2 482.5L617.4 484.3L617.5 485L617.7 485.4L617.8 485.8L618 486.6L618.1 486.8L618.3 487.1L618.4 487.8L618.6 488.7L618.7 489.5L618.9 490.1L619 491.7L619.2 491.7L619.3 493.3L619.5 493.5L619.6 495.1L619.8 496.7L619.9 497.3L620.1 498.1L620.2 499.6L620.4 500.8L620.5 501.2L620.7 502.8L620.8 504.2L621 505.1L621.1 506.5" fill="none" stroke="none" marker-start="url(#fpD)" marker-mid="url(#fpD)" marker-end="url(#fpD)"/><path d="M485.1 380L485.2 379.7L485.4 380.3L485.5 380.5L485.7 380.2L485.8 381.4L486 381.1L486.1 381.5L486.3 380.9L486.4 381L486.6 381.4L486.7 381.6L486.9 382.1L487 382.1L487.2 382L487.3 381.9L487.5 382.3L487.6 383.1L487.8 382.4L487.9 383L489.7 379.9L489.9 380.2L490 380L490.2 380.1L490.3 379.7L490.5 380.7L490.6 380.4L490.8 380.6L490.9 380.5L491.1 380.8L491.2 381.1L491.4 382.1L491.5 380.9L491.7 381.3L491.8 382.2L492 382.9L492.1 382.7L492.3 381.9L492.4 381.9L492.6 383.2L492.7 383L492.9 383.1L494.5 380.9L494.7 380.1L494.8 380.8L495 381.6L495.1 380.8L495.3 381.6L495.4 382.3L495.6 381.6L495.7 383L495.9 382.8L496 382.7L496.2 383.1L496.3 383.4L496.5 383.4L496.6 384.1L496.8 383.6L496.9 383.9L497.1 384.7L499 382.1L499.2 382.5L499.3 382.6L499.5 382.6L499.6 382.7L499.8 382.9L499.9 383.3L500.1 383.2L500.2 383.5L500.4 383.9L500.5 383.8L500.7 384.3L500.8 384.4L501 385.2L501.1 384.7L501.3 384.6L501.4 384.8L501.6 385.1L501.7 385.7L501.9 385.3L502 385.8L502.2 386.6L502.3 385L502.5 385.8L502.6 386.5L502.8 386.7L502.9 386.9L504.5 383.4L504.7 382.8L504.8 383.6L505 384.3L505.1 384.7L505.3 385.3L505.4 384.4L505.6 385.3L505.7 385.7L505.9 386.5L506 387L506.2 385.9L506.3 387.8L506.5 387.2L506.6 388.4L506.8 387.9L506.9 389L508.3 385.7L508.4 386.8L508.6 386.6L508.7 387L508.9 387.6L509 387.6L509.2 388.1L509.3 387.5L509.5 387.8L509.6 388.9L509.8 388.5L509.9 388.8L510.1 388.9L510.2 390.3L510.4 390.3L510.5 390.9L510.7 390.2L512.2 387.6L512.3 388.3L512.5 388.5L512.6 389.2L512.8 388.4L512.9 389.5L513.1 389.9L513.2 390.1L513.4 389.7L513.5 389.7L513.7 390.6L513.8 390.5L514 390.8L514.1 391.5L514.3 391.1L514.4 390.5L514.6 391.5L514.7 391.2L516.4 389.2L516.5 388.3L516.7 388.8L516.8 388.7L517 390.1L517.1 389.3L517.3 390L517.4 390.2L517.6 390.4L517.7 390.4L517.9 390.9L518 391.7L518.2 391.2L518.3 391.6L518.5 392L518.6 391.7L518.8 391.5L518.9 391.9L519.1 392.8L520.7 389.5L520.9 389.7L521 389.6L521.2 390.3L521.3 390.1L521.5 390.8L521.6 389.9L521.8 391.2L521.9 391L522.1 390.6L522.2 391.9L522.4 391.7L522.5 391L522.7 391.8L522.8 392.4L523 392.3L523.1 392.9L523.3 393.1L523.4 393.2L525.3 389.8L525.5 390.5L525.6 389.8L525.8 390.3L525.9 390.6L526.1 390.1L526.2 390.6L526.4 391L526.5 391.4L526.7 391.2L526.8 391.3L527 391.2L527.1 391.7L527.3 392.4L527.4 392.2L527.6 392.1L527.7 392.3L527.9 393.9L528 393.5L528.2 393.5L528.3 392.4L528.5 393.9L528.6 394L528.8 394.7L531 391.5L531.2 390.8L531.3 390.9L531.5 392.2L531.6 392.1L531.8 392.6L531.9 392.3L532.1 391.8L532.2 392.4L532.4 391.6L532.5 392.3L532.7 392.7L532.8 393.1L533 392.7L533.1 393.1L533.3 393.5L533.4 393.6L533.6 393.8L533.7 393.8L533.9 393.7L534 394.3L534.2 394.1L534.3 393.9L534.5 394.2L534.6 394.5L536.7 391.7L536.9 391.1L537 390.6L537.2 391.4L537.3 392.6L537.5 391.9L537.6 391.7L537.8 392L537.9 392.7L538.1 392.8L538.2 392.8L538.4 393.5L538.5 393.3L538.7 393.2L538.8 393.6L539 394.2L539.1 394L539.3 394.2L539.4 393.5L539.6 394L539.7 394.5L539.9 394.3L540 395L540.2 395L542.3 391.6L542.4 391.4L542.6 391.9L542.7 391.9L542.9 391.9L543 392L543.2 392L543.3 392.6L543.5 392.1L543.6 392.5L543.7 392.9L543.9 392.5L544 393.1L544.2 392.7L544.3 393.4L544.5 394.1L544.6 394.2L544.8 394.2L544.9 394.3L545.1 394L545.2 395.5L545.4 395.1L545.5 395.5L545.7 394.9L545.8 395.4L546 394.9L546.1 396.1L548.2 392L548.4 392.6L548.5 392.6L548.7 392.8L548.8 393.5L549 393.7L549.1 394.2L549.3 393.6L549.4 394L549.6 394.7L549.7 394.9L549.9 395.1L550 395.5L550.2 395.4L550.3 396.3L550.5 396.4L550.6 396.5L550.8 396.5L550.9 397L551.1 396.2L551.2 397.2L551.4 397.8L553.3 394.8L553.5 394.7L553.6 395.2L553.8 395.2L553.9 395.2L554.1 395.7L554.2 395.7L554.4 396L554.5 396.3L554.7 396.1L554.8 397.3L555 396.3L555.1 397L555.3 396.7L555.4 397.3L555.6 396L555.7 396.7L555.9 397.2L556 397.5L556.2 398.3L556.3 397.6L556.5 398L556.6 397.9L558.9 394.7L559 394.2L559.2 395.4L559.3 395.6L559.5 395.1L559.6 395.4L559.8 395.3L559.9 396.2L560.1 395.5L560.2 396.2L560.4 396L560.5 396.1L560.7 396.8L560.8 397.3L561 396.9L561.1 396.9L561.3 397.7L561.4 397.5L561.6 397.9L561.7 398.6L561.9 398.6L562 398.2L562.2 399.5L562.3 398.8L562.5 399.3L564.7 396L564.8 396.3L565 396.6L565.1 396.6L565.3 396.5L565.4 397.1L565.6 397.1L565.7 398.1L565.9 398L566 397.9L566.2 397.9L566.3 398L566.5 398.1L566.6 398.6L566.8 399L566.9 399.3L567.1 399.5L567.2 400.3L567.4 399.4L567.5 399.9L567.7 401.2L567.8 399.5L568 400.2L568.1 400.7L568.3 400.9L570.4 397.3L570.5 397.3L570.7 397L570.8 397.8L571 398.2L571.1 398.1L571.3 398.5L571.4 399.1L571.6 398.6L571.7 399.5L571.9 400.2L572 399.5L572.2 400L572.3 400.1L572.5 401.1L572.6 400.8L572.8 401.3L572.9 400.9L573.1 401.4L573.2 401.7L573.4 401.2L573.5 402.8L575.2 398.8L575.3 399.6L575.5 400.4L575.6 400L575.8 400.2L575.9 401.1L576.1 400.2L576.2 400.3L576.4 401L576.5 401.2L576.7 400.7L576.8 400.8L577 401.6L577.1 401.7L577.3 401.3L577.4 401.9L577.6 401.9L577.7 402.5L579.4 399.5L579.5 399.8L579.7 399.3L579.8 400.1L580 400.1L580.1 400.7L580.3 400.4L580.4 400.3L580.6 401.4L580.7 401.8L580.9 401.7L581 402.6L581.2 402.4L581.3 402.6L581.5 403.3L581.6 402.8L581.8 403.4L581.9 404L582.1 404.6L583.7 401.3L583.8 402.7L584 403.1L584.1 403.4L584.3 404.6L584.4 404L584.6 404.3L584.7 405L584.9 405.1L585 406L585.2 405.2L585.3 405.9L585.5 405L585.6 407L585.8 406.9L585.9 407.8L586.1 408.6L586.2 408.1L586.4 408.3L588 405.6L588.2 407L588.3 407L588.5 406.7L588.6 407.9L588.8 408L588.9 407.5L589.1 409.2L589.2 409L589.4 409.6L589.5 409.6L589.7 409.8L589.8 409.6L590 410.9L590.1 410.9L590.3 411.1L590.4 411.7L590.6 411.9L590.7 412.5L590.9 412.4L593 412.4L593.1 412.9L593.3 413.6L593.4 414.5L593.6 413.6L593.7 414L593.9 414.7L594 414.5L594.2 415.4L594.3 415.8L594.5 415.8L594.6 416.5L594.8 416L594.9 417.2L595.1 416.6L595.2 417.3L595.4 417.7L595.5 418.1L595.7 418.9L595.8 418.9L596 419.1L596.1 419.8L596.3 420.5L596.4 420.2L596.6 420.7L596.7 421.3L596.9 421.4L598.7 422.9L598.8 423.8L599 423.5L599.1 424.6L599.3 424.9L599.4 425.7L599.6 425.7L599.7 426.1L599.9 426.7L600 427.3L600.2 427.5L600.3 428.2L600.5 428.9L600.6 429.5L600.8 430.1L600.9 429.6L601.1 430.1L601.2 429.7L601.4 431.9L603.5 434.7L603.6 435.5L603.7 435.4L603.9 436.3L604 436L604.2 436.5L604.3 437.6L604.5 437.3L604.6 437.4L604.8 437.3L604.9 437.7L605.1 438.4L605.2 438.9L605.4 439L605.5 439.3L605.7 439.4L605.8 440.2L606 439.8L606.1 440L606.3 440.9L606.4 440.8L606.6 441L606.7 441.1L606.9 441.5L607 442.2L607.2 442.3L607.3 442L609.4 445.1L609.6 446L609.7 444.4L609.9 445.6L610 446.3L610.2 446.4L610.3 446.5L610.5 448L610.6 447.5L610.8 447.2L610.9 448.5L611.1 447.8L611.2 449.3L611.4 449L611.5 449.6L611.7 450.4L611.8 450.3L612 450L612.1 450.2L612.3 451.7L612.4 451.9L612.6 451.6L612.7 452.6L614.4 457L614.5 458L614.7 459.1L614.8 459.4L615 460.9L615.1 461L615.3 462.2L615.4 462.8L615.6 463.9L615.7 464.4L615.9 464.8L616 468L616.2 470.2L616.3 472.3L616.5 475L616.6 477L616.8 477.6L616.9 479.4L618.7 489.5L618.9 490.1L619 491.7L619.2 491.7L619.3 493.3L619.5 493.5L619.6 495.1L619.8 496.7L619.9 497.3L620.1 498.1L620.2 499.6L620.4 500.8L620.5 501.2L620.7 502.8L620.8 504.2L621 505.1L621.1 506.5" opacity="0.25" fill="none" stroke="none" marker-start="url(#hD)" marker-mid="url(#hD)" marker-end="url(#hD)"/>
<path d="M621.3 478.6L621.4 478.4L621.6 478.9L621.7 480.3L621.9 481.3L622 483.7L622.2 484.9L622.3 486.9L622.5 488.5L622.6 491.2L622.8 492.4L622.9 493.9L623.1 495.4L623.2 498.4L623.4 500.3L623.5 503.4L623.6 505L623.8 507.8L623.9 510.6L624.1 510.7L624.2 510.8L624.4 510.7L624.5 510.7L624.7 510L624.8 510.2L625 510.4L625.1 509.7L625.3 509L625.4 508.4L625.6 508.9L625.7 508.4L625.9 508.1L626 507.8L626.2 507.4L626.3 506.7L626.5 506.1L626.6 507.7L626.8 508.1L626.9 509.2L627.1 510.2L627.2 510.5L627.4 511.6L627.5 513.1L627.7 513.6L627.8 513.7L628 514.9L628.1 518.8L628.3 523.1L628.4 527.2L628.6 531L628.7 535L628.9 539.4L629 541.8L629.2 542.6" fill="none" stroke="none" marker-start="url(#fpD)" marker-mid="url(#fpD)" marker-end="url(#fpD)"/><path d="M621.3 478.6L621.4 478.4L621.6 478.9L621.7 480.3L621.9 481.3L622 483.7L622.2 484.9L622.3 486.9L622.5 488.5L622.6 491.2L622.8 492.4L622.9 493.9L623.1 495.4L623.2 498.4L623.4 500.3L623.5 503.4L623.6 505L623.8 507.8L623.9 510.6L624.1 510.7L624.2 510.8L624.4 510.7L624.5 510.7L624.7 510L624.8 510.2L625 510.4L625.1 509.7L625.3 509L625.4 508.4L625.6 508.9L625.7 508.4L625.9 508.1L626 507.8L626.2 507.4L626.3 506.7L626.5 506.1L626.6 507.7L626.8 508.1L626.9 509.2L627.1 510.2L627.2 510.5L627.4 511.6L627.5 513.1L627.7 513.6L627.8 513.7L628 514.9L628.1 518.8L628.3 523.1L628.4 527.2L628.6 531L628.7 535L628.9 539.4L629 541.8L629.2 542.6" opacity="0.5" fill="none" stroke="none" marker-start="url(#hD)" marker-mid="url(#hD)" marker-end="url(#hD)"/>
<circle cx="629.5" cy="549.2" r="3.3" fill="url(#gp)"/><circle cx="629.5" cy="560.7" r="3.3" fill="url(#gp)"/>
<path d="M483.9 388.5L484 387.6L484.2 387.3L484.3 386.9L484.5 384.9L484.6 385.4L484.8 384.1L484.9 384.2L485.1 384.2L485.2 385.5L485.4 385.4L485.5 385.5L485.7 385L485.8 384.8L486 385.5L486.1 385.9L486.3 385.9L486.4 386.4L486.6 386.1L486.7 387.3L486.9 386.9L487 387.7L487.2 387L487.3 386.9L487.5 386.7L487.6 387.7L487.8 388L487.9 387.7L488.1 387.9L488.2 387.8L488.4 387.8L488.5 388.1L488.7 387.4L488.8 387.1L489 387.7L489.1 386.9L489.3 386.3L489.4 385.6L489.6 383.9L489.7 385.2L489.9 384.8L490 385.7L490.2 385.4L490.3 385.5L490.5 385.5L490.6 385.8L490.8 385.1L490.9 385.4L491.1 386.9L491.2 386.7L491.4 386.4L491.5 386.6L491.7 386.7L491.8 388.6L492 387.4L492.1 387.3L492.3 387.1L492.4 386.4L492.6 387.7L492.7 388.5L492.9 388.5L493 388.7L493.2 388L493.3 387.2L493.5 386.2L493.6 387L493.8 385.1L493.9 384.7L494.1 383.5L494.2 385.7L494.4 385L494.5 385.2L494.7 385.6L494.8 385.2L495 385.5L495.1 386.2L495.3 385.8L495.4 386.6L495.6 387.2L495.7 387.2L495.9 387.7L496 387.7L496.2 388.2L496.3 387.7L496.5 388L496.6 387.4L496.8 388L496.9 388L497.1 388.5L497.2 388.2L497.4 389.1L497.5 390.4L497.7 388.9L497.8 389.8L498 390L498.1 389.5L498.3 389.9L498.4 389.1L498.6 390.2L498.7 388.9L498.9 388.6L499 388.7L499.2 387.9L499.3 386.7L499.5 386.5L499.6 386.5L499.8 386.8L499.9 387.3L500.1 386L500.2 386.3L500.4 387.1L500.5 387.7L500.7 387.4L500.8 387.7L501 388.5L501.1 388.4L501.3 388.2L501.4 388.2L501.6 387.8L501.7 388.9L501.9 388.9L502 388.5L502.2 389.4L502.3 389.1L502.5 389.3L502.6 388.8L502.8 390.2L502.9 389.5L503.1 390.2L503.2 390.3L503.4 390.1L503.5 390.5L503.7 390.5L503.8 390.7L503.9 391L504.1 390.6L504.2 389.7L504.4 389.8L504.5 388.8L504.7 388.6L504.8 386.6L505 388.1L505.1 387.1L505.3 388.2L505.4 390.3L505.6 389.3L505.7 389.7L505.9 389.1L506 389.1L506.2 389.9L506.3 390.4L506.5 390.4L506.6 390.4L506.8 390.5L506.9 391L507.1 392.3L507.2 391.8L507.4 391.8L507.5 392.1L507.7 392L507.8 394L508 393L508.1 391.4L508.3 392.3L508.4 391L508.6 391.2L508.7 389.6L508.9 388.8L509 389.9L509.2 390L509.3 389.8L509.5 390.2L509.6 390.7L509.8 390.7L509.9 391.7L510.1 391.9L510.2 391.8L510.4 392.1L510.5 393L510.7 393L510.8 392.5L511 393.5L511.1 394.5L511.3 394.1L511.4 393.8L511.6 395.3L511.7 396.1L511.9 395.2L512 394.3L512.2 394.9L512.3 396.8L512.5 395.9L512.6 396.6L512.8 396.7L512.9 395.6L513.1 395L513.2 394L513.4 393.1L513.5 393.3L513.7 391.3L513.8 391.4L514 392.9L514.1 391.9L514.3 392.9L514.4 392.5L514.6 393.8L514.7 393.5L514.9 394.1L515 393.7L515.2 394.2L515.3 393.4L515.5 395.2L515.6 395.2L515.8 395.3L515.9 395.5L516.1 395.5L516.2 395.9L516.4 397.1L516.5 396.1L516.7 396.4L516.8 397.3L517 397.3L517.1 397.5L517.3 395.6L517.4 395.8L517.6 393.4L517.7 394L517.9 391.5L518 392.5L518.2 392.4L518.3 392.5L518.5 393.3L518.6 392.7L518.8 393L518.9 393L519.1 394.5L519.2 393.7L519.4 394.4L519.5 394.3L519.7 395.2L519.8 394.3L520 394.6L520.1 394.9L520.3 395.6L520.4 395.3L520.6 396.1L520.7 396.4L520.9 396.8L521 396.8L521.2 397.4L521.3 396.8L521.5 396.9L521.6 395.2L521.8 395.5L521.9 394.8L522.1 393.2L522.2 393.6L522.4 392.8L522.5 392.2L522.7 392.7L522.8 393.6L523 393.2L523.1 392.3L523.3 393.6L523.4 393.1L523.6 394.6L523.7 393.6L523.8 394L524 394.1L524.1 393.9L524.3 394.3L524.4 394.6L524.6 395.9L524.7 395L524.9 395.4L525 395.3L525.2 395.5L525.3 395.8L525.5 396.5L525.6 394.5L525.8 395.8L525.9 395.8L526.1 396.9L526.2 396.2L526.4 397.3L526.5 397.5L526.7 396.7L526.8 396.8L527 396.1L527.1 395.9L527.3 395.1L527.4 393.6L527.6 394.3L527.7 393.7L527.9 394.4L528 394.1L528.2 394.7L528.3 393.9L528.5 395.3L528.6 394.3L528.8 394.9L528.9 395.4L529.1 394.6L529.2 395.7L529.4 395.7L529.5 396.3L529.7 396L529.8 395.7L530 395.9L530.1 396.2L530.3 396.8L530.4 396.8L530.6 397.4L530.7 398L530.9 397.3L531 397.4L531.2 398L531.3 398.7L531.5 397.7L531.6 397.2L531.8 395.9L531.9 394.8L532.1 395.6L532.2 392.2L532.4 394.4L532.5 393.5L532.7 393.9L532.8 394.3L533 394.7L533.1 394.3L533.3 394.3L533.4 395.3L533.6 396L533.7 395.5L533.9 397L534 395.4L534.2 396.7L534.3 397.4L534.5 398.6L534.6 398.3L534.8 400L534.9 400.4L535.1 400.2L535.2 402L535.4 402.3L535.5 402.4L535.7 402.5L535.8 401.7L536 402.2L536.1 401.2L536.3 400.2L536.4 398.4L536.6 397.7L536.7 397.3L536.9 397L537 396.1L537.2 395.6L537.3 394.5L537.5 394.8L537.6 394.7L537.8 395L537.9 395.2L538.1 394.7L538.2 395L538.4 394.9L538.5 394.8L538.7 394.6L538.8 395.1L539 395.9L539.1 394.7L539.3 396.1L539.4 396.4L539.6 396.5L539.7 396L539.9 396.1L540 396.9L540.2 396.9L540.3 397.4L540.5 396.5L540.6 396.6L540.8 397.5L540.9 396.8L541.1 397L541.2 397.9L541.4 397.7L541.5 397.2L541.7 397.8L541.8 397.6L542 398.2L542.1 398.5L542.3 397.4L542.4 396.6L542.6 395.3L542.7 394.7L542.9 393.6L543 393.5L543.2 393.8L543.3 394.4L543.5 394.4L543.6 394.1L543.7 394.2L543.9 394.5L544 395.6L544.2 395L544.3 396.4L544.5 396L544.6 396.2L544.8 396.6L544.9 397.6L545.1 397.1L545.2 397.1L545.4 397L545.5 397L545.7 397.8L545.8 399L546 399L546.1 398.6L546.3 398L546.4 400.1L546.6 399.5L546.7 398.1L546.9 398.4L547 397.5L547.2 396.1L547.3 394.6L547.5 394.8L547.6 396.3L547.8 395.6L547.9 395.3L548.1 396.3L548.2 395.9L548.4 397.2L548.5 395.8L548.7 396.7L548.8 398L549 398L549.1 398L549.3 397.3L549.4 398.3L549.6 398.9L549.7 398.6L549.9 399.1L550 399.8L550.2 399.4L550.3 400.1L550.5 400L550.6 399.8L550.8 399.9L550.9 400.5L551.1 400.7L551.2 401.9L551.4 401.7L551.5 402.9L551.7 400.7L551.8 400.3L552 399.2L552.1 398.7L552.3 397.5L552.4 396.9L552.6 396.9L552.7 396.8L552.9 397.2L553 397.2L553.2 397.5L553.3 397.8L553.5 399.5L553.6 398.9L553.8 399.6L553.9 398.2L554.1 399L554.2 399.8L554.4 400.2L554.5 400L554.7 399.8L554.8 399.5L555 400.6L555.1 399.8L555.3 401L555.4 400.8L555.6 400.9L555.7 401.1L555.9 400.9L556 401.3L556.2 401.5L556.3 401.2L556.5 400.4L556.6 399.7L556.8 398.2L556.9 398.9L557.1 398L557.2 396.7L557.4 397L557.5 397.9L557.7 398.2L557.8 397.6L558 397.3L558.1 398.7L558.3 398L558.4 398.8L558.6 398.5L558.7 398.6L558.9 398.6L559 399.7L559.2 399L559.3 399.3L559.5 399.2L559.6 400.7L559.8 399.9L559.9 399.5L560.1 400.2L560.2 399.5L560.4 400.5L560.5 400.2L560.7 401.6L560.8 401.9L561 402.5L561.1 401.4L561.3 401.3L561.4 400.9L561.6 401.8L561.7 402L561.9 399.4L562 399.3L562.2 399.5L562.3 397.1L562.5 397.2L562.6 398.5L562.8 398.5L562.9 397.7L563.1 399.1L563.2 398.9L563.4 399.4L563.5 399.8L563.6 400.7L563.8 400.5L563.9 399.9L564.1 401.3L564.2 401.2L564.4 401.3L564.5 401L564.7 401.1L564.8 401.8L565 402.8L565.1 402.6L565.3 402.7L565.4 403L565.6 403.2L565.7 403.2L565.9 403.6L566 401.9L566.2 402.3L566.3 402.3L566.5 401.7L566.6 400.1L566.8 399L566.9 399.7L567.1 399.2L567.2 400.5L567.4 400.2L567.5 400.9L567.7 400.6L567.8 400.5L568 401.9L568.1 401.3L568.3 401.6L568.4 401.8L568.6 401.7L568.7 402L568.9 401.7L569 402.6L569.2 402.9L569.3 402.5L569.5 402.3L569.6 403.1L569.8 403.9L569.9 404.1L570.1 404.1L570.2 403.7L570.4 403.9L570.5 403.4L570.7 402.3L570.8 402.5L571 402.2L571.1 402.2L571.3 402.3L571.4 400.3L571.6 400.9L571.7 401L571.9 401.1L572 401.4L572.2 402.5L572.3 402.1L572.5 401.9L572.6 402.3L572.8 402.3L572.9 402.1L573.1 402.4L573.2 402.8L573.4 403.3L573.5 402.3L573.7 403L573.8 403.2L574 403.4L574.1 403.2L574.3 403.3L574.4 402.8L574.6 403.2L574.7 403.5L574.9 403.6L575 404.3L575.2 404L575.3 404.1L575.5 404L575.6 404.6L575.8 403.9L575.9 405.6L576.1 404.2L576.2 404.7L576.4 404.8L576.5 403.2L576.7 403.8L576.8 402.9L577 403.8L577.1 401.7L577.3 402.3L577.4 402.6L577.6 402.4L577.7 402.6L577.9 402.7L578 403L578.2 403.4L578.3 403.1L578.5 403.7L578.6 403.3L578.8 403.9L578.9 402.9L579.1 404.4L579.2 404.1L579.4 404.3L579.5 404.9L579.7 403.8L579.8 403.8L580 403.2L580.1 405.2L580.3 405.1L580.4 406.1L580.6 405.3L580.7 405.7L580.9 405.7L581 406L581.2 406.2L581.3 406L581.5 406.1L581.6 407.4L581.8 406.4L581.9 406L582.1 405.4L582.2 404.4L582.4 404.7L582.5 403.6L582.7 404.2L582.8 403.4L583 404L583.1 403.6L583.3 405.6L583.4 405.1L583.5 406L583.7 406.6L583.8 405.7L584 407L584.1 406.9L584.3 407.5L584.4 407.8L584.6 408.3L584.7 408.3L584.9 407.9L585 408.6L585.2 409.2L585.3 409.6L585.5 409.5L585.6 410L585.8 410.7L585.9 411.5L586.1 411.3L586.2 409.8L586.4 410.1L586.5 408.7L586.7 409.4L586.8 408.3L587 408.8L587.1 407.8L587.3 407.9L587.4 408.5L587.6 408.5L587.7 408.9L587.9 410.1L588 409.7L588.2 410L588.3 409L588.5 411L588.6 411L588.8 410.9L588.9 410.7L589.1 410.9L589.2 411.5L589.4 412.2L589.5 412.6L589.7 413L589.8 413.3L590 413.4L590.1 413.6L590.3 413.3L590.4 415.4L590.6 415.1L590.7 415.4L590.9 415.1L591 415.8L591.2 414.8L591.3 415.2L591.5 414.9L591.6 413.4L591.8 412.9L591.9 412.6L592.1 412.7L592.2 413L592.4 413.8L592.5 414.2L592.7 413.9L592.8 414.6L593 415.1L593.1 415.7L593.3 415.8L593.4 415.8L593.6 416.5L593.7 416.3L593.9 417.1L594 418.1L594.2 417.9L594.3 418.4L594.5 418.9L594.6 419L594.8 418.9L594.9 419.4L595.1 420.6L595.2 420.4L595.4 420.2L595.5 422L595.7 421L595.8 421L596 420L596.1 419.7L596.3 419.1L596.4 417.8L596.6 418.2L596.7 417.9L596.9 418.3L597 418.4L597.2 419.6L597.3 421.1L597.5 419.9L597.6 420.5L597.8 421.7L597.9 422.7L598.1 422.1L598.2 422.8L598.4 422.9L598.5 423.3L598.7 424.4L598.8 424.1L599 425.3L599.1 425.6L599.3 425.4L599.4 425.6L599.6 426.4L599.7 426.3L599.9 427L600 427.8L600.2 428.1L600.3 427.4L600.5 427.5L600.6 427.4L600.8 426.9L600.9 425.1L601.1 425.2L601.2 425.1L601.4 424.9L601.5 425L601.7 425.6L601.8 426.9L602 426.8L602.1 427.5L602.3 427.9L602.4 429.1L602.6 428.5L602.7 429.4L602.9 429L603 429.6L603.2 429.1L603.3 429.8L603.5 430L603.6 431.1L603.7 430.8L603.9 431.4L604 431.6L604.2 432L604.3 431.2L604.5 432.9L604.6 431.9L604.8 433L604.9 433.6L605.1 433.2L605.2 434.7L605.4 434.4L605.5 434.3L605.7 434.1L605.8 433L606 433.4L606.1 433.2L606.3 432.5L606.4 432.2L606.6 432.6L606.7 432.1L606.9 432.6L607 432.7L607.2 433.5L607.3 433.5L607.5 434.2L607.6 433.9L607.8 433.8L607.9 434.7L608.1 434.7L608.2 434.7L608.4 435.5L608.5 435.7L608.7 435.5L608.8 436.2L609 436.3L609.1 436.6L609.3 436.9L609.4 436.9L609.6 437.1L609.7 436.5L609.9 436.1L610 435.7L610.2 435.3L610.3 435.4L610.5 435.1L610.6 435.5L610.8 435.9L610.9 435.8L611.1 436.6L611.2 436.7L611.4 437.3L611.5 437.3L611.7 436.5L611.8 437.8L612 438L612.1 438L612.3 437.6L612.4 438.2L612.6 438.8L612.7 438.8L612.9 438.9L613 439L613.2 439.4L613.3 439L613.5 439.1L613.6 437.9L613.8 439.3L613.9 438.5L614.1 438.9L614.2 437.5L614.4 438.4L614.5 438.5L614.7 438.1L614.8 438L615 438L615.1 438L615.3 439L615.4 439.8L615.6 439.2L615.7 439.1L615.9 438.7L616 439.6L616.2 440.3L616.3 439.9L616.5 440.4L616.6 440L616.8 439.1L616.9 440.5L617.1 441.5L617.2 439.9L617.4 442.7L617.5 442.2L617.7 441L617.8 441.8L618 441.9L618.1 442.5L618.3 441.4L618.4 441.7L618.6 441.5L618.7 442.2L618.9 441.9L619 441.3L619.2 442.7L619.3 441.4L619.5 441.8L619.6 441.3L619.8 440.6L619.9 440.2L620.1 440.5L620.2 440.7L620.4 441.3L620.5 442.2L620.7 441.3L620.8 440.6L621 441.4L621.1 441.7L621.3 442L621.4 440.7L621.6 441.7L621.7 442.8L621.9 443L622 443.4L622.2 442.5L622.3 442.5L622.5 442.5L622.6 442.2L622.8 442.4L622.9 443.4L623.1 443.9L623.2 443.1L623.4 442.3L623.5 444.1L623.6 443.5L623.8 443.6L623.9 444.8L624.1 443.8L624.2 443.8L624.4 443.9L624.5 443.1L624.7 442.6L624.8 442.8L625 443.1L625.1 443.1L625.3 442.8L625.4 443.6L625.6 443.7L625.7 444.8L625.9 443.9L626 444.7L626.2 444.6L626.3 445L626.5 446L626.6 446.9L626.8 445.9L626.9 446.2L627.1 446.5L627.2 446.6L627.4 446.4L627.5 446.3L627.7 446.9L627.8 447.5L628 447.8L628.1 447.6L628.3 447.2L628.4 448.5L628.6 448.4L628.7 448.6L628.9 449.6L629 449.8L629.2 447.6L629.3 449.1L629.5 447.4L629.6 447.3L629.8 448L629.9 447.7L630.1 447.9L630.2 449.6L630.4 449.2L630.5 449.8L630.7 449.8L630.8 449.3L631 450.1L631.1 449.4L631.3 451.2L631.4 450.7L631.6 450.9L631.7 451.7L631.9 451.4L632 452.4L632.2 451.9L632.3 453.1L632.5 452.6L632.6 452.4L632.8 454.6L632.9 452.6L633.1 453.1L633.2 452.9L633.4 452.7L633.5 453.4L633.7 452.6L633.8 453.4L634 452.7L634.1 453.9L634.3 452.6L634.4 453.4L634.6 453.8L634.7 453.3L634.9 453.8L635 454.1L635.2 455L635.3 454.8L635.5 455.3L635.6 454.7L635.8 455.7L635.9 454.9L636.1 456.3L636.2 455.4L636.4 456.8L636.5 456.8L636.7 456.4L636.8 456.9L637 457.6L637.1 457.4L637.3 457.1L637.4 459.2L637.6 458.4L637.7 459.5L637.9 458.9L638 458L638.2 460L638.3 459.7L638.5 459.9L638.6 460.7L638.8 460L638.9 460.2L639.1 460.1L639.2 459.8L639.4 459.8L639.5 459.9L639.7 460.9L639.8 460.6L640 460.2L640.1 460.9L640.3 460L640.4 460.8L640.6 461.2L640.7 461.1L640.9 461.7L641 462.1L641.2 462.7L641.3 461.6L641.5 461.8L641.6 462.3L641.8 462.6L641.9 463.3L642.1 463.7L642.2 463.8L642.4 464.4L642.5 464.1L642.7 464.5L642.8 464.7L643 465L643.1 465.9L643.3 465.9L643.4 466.6L643.5 466.1L643.7 466.3L643.8 466.4L644 466.4L644.1 467.6L644.3 468.3L644.4 467.6L644.6 468.4L644.7 467.8L644.9 468.2L645 468.4L645.2 468.5L645.3 469.2L645.5 468.5L645.6 469.1L645.8 468.2L645.9 470.1L646.1 469.2L646.2 470L646.4 471.3L646.5 471L646.7 472.1L646.8 471.4L647 472.3L647.1 471.7L647.3 473.3L647.4 473.1L647.6 473L647.7 474.4L647.9 474.5L648 474.7L648.2 475L648.3 475L648.5 475.1L648.6 476L648.8 475.4L648.9 475.8L649.1 476.6L649.2 477.6L649.4 476.4L649.5 477.4L649.7 477.8L649.8 476.3L650 476.9L650.1 477.7L650.3 478.5L650.4 477.5L650.6 479L650.7 478.4L650.9 479.1L651 479.5L651.2 479.8L651.3 480.3L651.5 480.6L651.6 480.1L651.8 481.1L651.9 482.3L652.1 481.9L652.2 482.1L652.4 482.3L652.5 482.7L652.7 482.1L652.8 482.9L653 482.9L653.1 482.3L653.3 482.4L653.4 483.1L653.6 481.9L653.7 482.7L653.9 483.1L654 482.6L654.2 482.9L654.3 482.8L654.5 482.8L654.6 483.6L654.8 483.2L654.9 483.3L655.1 484L655.2 483.8L655.4 484L655.5 484.8L655.7 484.6L655.8 483.3L656 485.8L656.1 484.5L656.3 484.8L656.4 485.6L656.6 485.5L656.7 485.7L656.9 485.2L657 484.9L657.2 486.2L657.3 485.8L657.5 485.1L657.6 486.7L657.8 486.4L657.9 486.2L658.1 485.9L658.2 487.3L658.4 487.8L658.5 487.4L658.7 487.8L658.8 487.2L659 488L659.1 488L659.3 486.9L659.4 486.9L659.6 486.1L659.7 486.7L659.9 487L660 486.7L660.2 487.5L660.3 487.7L660.5 487L660.6 488L660.8 488.4L660.9 488L661.1 488.5L661.2 488.3L661.4 487.7L661.5 489L661.7 489.4L661.8 488.6L662 491L662.1 490.6L662.3 489.3L662.4 490.6L662.6 490.4L662.7 490.5L662.9 490.5L663 489.8L663.2 490.1L663.3 490.5L663.4 489.3L663.6 489.6L663.7 489.4L663.9 489.6L664 490.4L664.2 490.4L664.3 491L664.5 490.1L664.6 490.3L664.8 490.3L664.9 490.9L665.1 491.7L665.2 490.6L665.4 492.1L665.5 492.3L665.7 491.9L665.8 492.1L666 493.2L666.1 493.8L666.3 492.2L666.4 494L666.6 493.2L666.7 493.8L666.9 493.2L667 493.8L667.2 493.9L667.3 494.8L667.5 494.6L667.6 494.8L667.8 494L667.9 494.1L668.1 494.1L668.2 494.4L668.4 493.3L668.5 494L668.7 494.1L668.8 493.5L669 494.5L669.1 494.2L669.3 494.9L669.4 493.9L669.6 494.8L669.7 494.6L669.9 495.4L670 494.6L670.2 496.4L670.3 495.8L670.5 495.1L670.6 496.9L670.8 496.5L670.9 495.7L671.1 496.8L671.2 496.5L671.4 496.8L671.5 496.2L671.7 496.9L671.8 497.6L672 498L672.1 497.5L672.3 497.7L672.4 498.2L672.6 498.1L672.7 498L672.9 498.5L673 497.9L673.2 498.9L673.3 498.2L673.5 497.4L673.6 498L673.8 496.8L673.9 496.8L674.1 495.7L674.2 497.2L674.4 497.4L674.5 496.5L674.7 497.1L674.8 497.7L675 497.5L675.1 497.5L675.3 498.6L675.4 498L675.6 497.5L675.7 498.6L675.9 498.4L676 497.4L676.2 498.1L676.3 498L676.5 498.4L676.6 498.9L676.8 498.2L676.9 499L677.1 499.1L677.2 499.1L677.4 498.9L677.5 498.9L677.7 499.5L677.8 499.8L678 499.6L678.1 500.1L678.3 498.7L678.4 500.1L678.6 499.5L678.7 499.5L678.9 498.8L679 499.8L679.2 500L679.3 499.3L679.5 500.7L679.6 498.6L679.8 500.4L679.9 499.3L680.1 499.6L680.2 499.8L680.4 500.6L680.5 500.3L680.7 500.1L680.8 500.1L681 500.5L681.1 501L681.3 500.4L681.4 500.4L681.6 501.2L681.7 501.4L681.9 501.5L682 500.7L682.2 500.5L682.3 502L682.5 500.7L682.6 501.4L682.8 502L682.9 502.5L683.1 502.4L683.2 501.9L683.3 502L683.5 502.1L683.6 501.4L683.8 503.2L683.9 503.1L684.1 502.7L684.2 503L684.4 502.7L684.5 502.4L684.7 501.1L684.8 501.3L685 501.2L685.1 502.3L685.3 502.5L685.4 501.6L685.6 502.2L685.7 502.6L685.9 502.4L686 502.4L686.2 502.1L686.3 502.8L686.5 503.2L686.6 503.6L686.8 503L686.9 503.6L687.1 503.8L687.2 502.9L687.4 503.7L687.5 503.8L687.7 504.1L687.8 503.5L688 503.1L688.1 504.3L688.3 503.4L688.4 504.4L688.6 504.8L688.7 504.7L688.9 505.3L689 504.8L689.2 504.7L689.3 505.2L689.5 505.4L689.6 505.3L689.8 505L689.9 505.8L690.1 504.2L690.2 504.5L690.4 504.4L690.5 504.4L690.7 503.8L690.8 504.8L691 505.1L691.1 504.3L691.3 504.9L691.4 505.2L691.6 505.1L691.7 505L691.9 506.1L692 505L692.2 505.7L692.3 505.4L692.5 506.1L692.6 505.4L692.8 505.7L692.9 506.3L693.1 505.9L693.2 507.1L693.4 506.3L693.5 508L693.7 507L693.8 505.9L694 506.7L694.1 506.5L694.3 507.3L694.4 507.7L694.6 507.9L694.7 506.9L694.9 506.5L695 506.5L695.2 505.7L695.3 505.1L695.5 506L695.6 505.7L695.8 506.8L695.9 506.2L696.1 507.5L696.2 506.5L696.4 506.8L696.5 506.3L696.7 506.8L696.8 507.6L697 507.1L697.1 508.2L697.3 508L697.4 507.6L697.6 507.6L697.7 508.2L697.9 508.2L698 508.7L698.2 508.9L698.3 508.3L698.5 508.9L698.6 508.3L698.8 508.9L698.9 508L699.1 508L699.2 508.1L699.4 507.9L699.5 506.7L699.7 508.2L699.8 507.7L700 507.6L700.1 507.5L700.3 508.4L700.4 508.5L700.6 507.8L700.7 508.1L700.9 508.5L701 508.6L701.2 508.3L701.3 509L701.5 509.8L701.6 508.6L701.8 509.7L701.9 509.1L702.1 509.5L702.2 509L702.4 510.2L702.5 509.6L702.7 509.9L702.8 509.7L703 510L703.1 510.7L703.2 511L703.4 510.9L703.5 509.7L703.7 510.5L703.8 511.6L704 512.2L704.1 510.5L704.3 511L704.4 510L704.6 510.1L704.7 510.4L704.9 510.1L705 510.6L705.2 509.3L705.3 510.3L705.5 509.9L705.6 509.9L705.8 511.3L705.9 510.8L706.1 510.2L706.2 510.4L706.4 511.1L706.5 511.2L706.7 511.4L706.8 511.1L707 511.6L707.1 510.8L707.3 511.1L707.4 511.3L707.6 511.7L707.7 512L707.9 512.6L708 512.4L708.2 512.7L708.3 512.8L708.5 513.1L708.6 512.6L708.8 512.5L708.9 513L709.1 513.3L709.2 513.3L709.4 514.1L709.5 513.1L709.7 513.2L709.8 513.3L710 512.4L710.1 512.6L710.3 512L710.4 511.9L710.6 512.4L710.7 511.4L710.9 511.6L711 512.4L711.2 512.6L711.3 512.3L711.5 513.4L711.6 513.2L711.8 512.4L711.9 512.5L712.1 512.7L712.2 513.4L712.4 513.3L712.5 512.6L712.7 513.8L712.8 513.9L713 513.3L713.1 513.3L713.3 512.4L713.4 513.9L713.6 514.2L713.7 514.8L713.9 514.9L714 513.7L714.2 514.2L714.3 513.7L714.5 513.7L714.6 513.4L714.8 513.9L714.9 512.9L715.1 513.3L715.2 512.6L715.4 513.3L715.5 512.7L715.7 514.4L715.8 512.9L716 513.3L716.1 512.9L716.3 513.8L716.4 513.1L716.6 514.2L716.7 514.1L716.9 514L717 513.8L717.2 514.4L717.3 514.5L717.5 514.5L717.6 514.5L717.8 514.5L717.9 514.6L718.1 514.6L718.2 515.1L718.4 515.4L718.5 514.8L718.7 514.3L718.8 514.6L719 515.5L719.1 515.2L719.3 515.2L719.4 514.9L719.6 515.8L719.7 516.1L719.9 515.7L720 514.9L720.2 515.7L720.3 515.9L720.5 515.5L720.6 516.4L720.8 515.3L720.9 513.8L721.1 513.1L721.2 514.8L721.4 514.5L721.5 514.2L721.7 514.4L721.8 515L722 514.5L722.1 514.9L722.3 515.2L722.4 515.5L722.6 515.4L722.7 514.7L722.9 515.8L723 515.9L723.1 516.3L723.3 515.9L723.4 515.9L723.6 514.8L723.7 516.3L723.9 516.4L724 517.4L724.2 516.2L724.3 516.7L724.5 516.9L724.6 516.7L724.8 515.7L724.9 515.8L725.1 514.8L725.2 515.9L725.4 514.4L725.5 515.2L725.7 515.3L725.8 515.3L726 514.4L726.1 515L726.3 516.1L726.4 515.7L726.6 515.6L726.7 516.7L726.9 515.9L727 516.3L727.2 517L727.3 517.2L727.5 515.6L727.6 516.3L727.8 516.9L727.9 516.5L728.1 516.6L728.2 517.4L728.4 516.8L728.5 517.4L728.7 517.2L728.8 517.8L729 517.2L729.1 518.4L729.3 516.4L729.4 516.4L729.6 517.8L729.7 516.5L729.9 516.9L730 516.3L730.2 516.6L730.3 516L730.5 516.3L730.6 517.1L730.8 517.4L730.9 516.4L731.1 516.6L731.2 516.5L731.4 516.9L731.5 516.7L731.7 516.2L731.8 517.4L732 517.9L732.1 517.2L732.3 516.9L732.4 517.3L732.6 518L732.7 518.1L732.9 517.5L733 517.6L733.2 517.5L733.3 518.2L733.5 518.6L733.6 517.4L733.8 517.9L733.9 518.5L734.1 518.2L734.2 518.4L734.4 518.1L734.5 518.4L734.7 518.3L734.8 517.6L735 517.1L735.1 516.8L735.3 516.8L735.4 517.9L735.6 517.6L735.7 517.4L735.9 517.6L736 517.2L736.2 517.8L736.3 516.9L736.5 517.6L736.6 518.1L736.8 517.5L736.9 518.6L737.1 517.9L737.2 517.9L737.4 518.2L737.5 518.8L737.7 519L737.8 518.5L738 518.6L738.1 518.4L738.3 519.4L738.4 519L738.6 518.5L738.7 518.1L738.9 519L739 518.2L739.2 518.1L739.3 518L739.5 516.9L739.6 517.2L739.8 516.8L739.9 517.2L740.1 518.5L740.2 517.2L740.4 517.8L740.5 518.1L740.7 519.1L740.8 519.1L741 518.4L741.1 519.9L741.3 518.7L741.4 518.8L741.6 518.6L741.7 519.2L741.9 519L742 519.8L742.2 519.6L742.3 519.7L742.5 521L742.6 520.3L742.8 519.6L742.9 520.6L743.1 520.8L743.2 520.8L743.3 520.8L743.5 519.7L743.6 520.5L743.8 519.8L743.9 520.2L744.1 519.9L744.2 519.3L744.4 519.2L744.5 518.3L744.7 518.6L744.8 518.5L745 519.6L745.1 520.7L745.3 518.8L745.4 519.3L745.6 520L745.7 519.8L745.9 519.4L746 520.1L746.2 520.1L746.3 520.1L746.5 520.7L746.6 521.3L746.8 521.1L746.9 521.9L747.1 521.4L747.2 521.2L747.4 521.2L747.5 522.8L747.7 522.6L747.8 522.1L748 521.5L748.1 521.3L748.3 521.9L748.4 522L748.6 520.6L748.7 520.3L748.9 520.1L749 520.7L749.2 520.6L749.3 520.9L749.5 521.2L749.6 521.8L749.8 520.9L749.9 521.9L750.1 522.2L750.2 522L750.4 522.8L750.5 523.1L750.7 522.1L750.8 522.6L751 522.3L751.1 522.7L751.3 523.3L751.4 524.1L751.6 523.8L751.7 523.9L751.9 523.7L752 523.7L752.2 524.2L752.3 524.5L752.5 524.9L752.6 524.7L752.8 525.7L752.9 526.2L753.1 525L753.2 524.8L753.4 523L753.5 523.7L753.7 523.4L753.8 523.6L754 523.1L754.1 524.3L754.3 524.9L754.4 524L754.6 524.6L754.7 524.6L754.9 523.8L755 524.9L755.2 525.2L755.3 524.4L755.5 524.7L755.6 525.5L755.8 525.2L755.9 526L756.1 525.5L756.2 526.2L756.4 526.6L756.5 525.6L756.7 525.9L756.8 525.6L757 526.3L757.1 526.2L757.3 525.9L757.4 526.3L757.6 526.1L757.7 526.4L757.9 526L758 526L758.2 525.5L758.3 524.4L758.5 525.4L758.6 525.3L758.8 525.2L758.9 525.9L759.1 526.5L759.2 526.2L759.4 526.3L759.5 526.8L759.7 525.5L759.8 527.4L760 526L760.1 526.3L760.3 526.5L760.4 526.5L760.6 525.7L760.7 527.2L760.9 527.1L761 527L761.2 526.6L761.3 526.9L761.5 527.4L761.6 527.2L761.8 527L761.9 526.3L762.1 526.8L762.2 526.5L762.4 526.1L762.5 525.7L762.7 526.5L762.8 526.4L763 526.3L763.1 527.6L763.2 526L763.4 525.2L763.5 525.9L763.7 526.5L763.8 527.5L764 526.7L764.1 525.6L764.3 527.1L764.4 527.6L764.6 527.9L764.7 526.9L764.9 526.8L765 527L765.2 528.2L765.3 526.8L765.5 528.1L765.6 528.5L765.8 528L765.9 528.4L766.1 527.7L766.2 527.1L766.4 526.6L766.5 526.5L766.7 526.4L766.8 526.5L767 526.5L767.1 527L767.3 526.8L767.4 526.6L767.6 526.9L767.7 527.1L767.9 527.9L768 527.5L768.2 527.4L768.3 526.8L768.5 527.6L768.6 527.7L768.8 527.5L768.9 528.1L769.1 527.9L769.2 527.3L769.4 527.8L769.5 528.6L769.7 529L769.8 528.7L770 529.9L770.1 529.3L770.3 528.6L770.4 528.5L770.6 528.7L770.7 528.9L770.9 527.7L771 528.1L771.2 527.9L771.3 527.8L771.5 528.8L771.6 529.1L771.8 529.7L771.9 529.6L772.1 528.9L772.2 529.2L772.4 530L772.5 529.3L772.7 530.3L772.8 530.5L773 530.4L773.1 530.1L773.3 530.3L773.4 530.5L773.6 531.5L773.7 531.4L773.9 531L774 531.9L774.2 530.9L774.3 531.4L774.5 531.6L774.6 530.8L774.8 531L774.9 530.7L775.1 530.7L775.2 531L775.4 530.4L775.5 530.6L775.7 531.5L775.8 530.9L776 531.4L776.1 530.9L776.3 532L776.4 531.1L776.6 531.8L776.7 531.4L776.9 531.5L777 532.8L777.2 532.7L777.3 532.9L777.5 532.2L777.6 533.2L777.8 533.4L777.9 533.3L778.1 533.2L778.2 534.1L778.4 533.5L778.5 532.2L778.7 533.7L778.8 532L779 533.4L779.1 532.6L779.3 533.1L779.4 533.2L779.6 532.4L779.7 532.9L779.9 533.2L780 532.2L780.2 531.6L780.3 531.8L780.5 531.2L780.6 532L780.8 530.1L780.9 530.4L781.1 530.8L781.2 530.6L781.4 529.8L781.5 529.9L781.7 529.5L781.8 530.2L782 530.1L782.1 528.4L782.3 529.4L782.4 528.4L782.6 529.1L782.7 529.4L782.9 529.7L783 529.4" fill="none" stroke="none" marker-start="url(#fgD)" marker-mid="url(#fgD)" marker-end="url(#fgD)"/><path d="M485.2 385.5L485.4 385.4L485.5 385.5L485.7 385L485.8 384.8L486 385.5L486.1 385.9L486.3 385.9L486.4 386.4L486.6 386.1L486.7 387.3L486.9 386.9L487 387.7L487.2 387L487.3 386.9L487.5 386.7L487.6 387.7L487.8 388L487.9 387.7L488.1 387.9L488.2 387.8L489.9 384.8L490 385.7L490.2 385.4L490.3 385.5L490.5 385.5L490.6 385.8L490.8 385.1L490.9 385.4L491.1 386.9L491.2 386.7L491.4 386.4L491.5 386.6L491.7 386.7L491.8 388.6L492 387.4L492.1 387.3L492.3 387.1L492.4 386.4L494.4 385L494.5 385.2L494.7 385.6L494.8 385.2L495 385.5L495.1 386.2L495.3 385.8L495.4 386.6L495.6 387.2L495.7 387.2L495.9 387.7L496 387.7L496.2 388.2L496.3 387.7L496.5 388L496.6 387.4L496.8 388L496.9 388L497.1 388.5L497.2 388.2L497.4 389.1L497.5 390.4L497.7 388.9L499.8 386.8L499.9 387.3L500.1 386L500.2 386.3L500.4 387.1L500.5 387.7L500.7 387.4L500.8 387.7L501 388.5L501.1 388.4L501.3 388.2L501.4 388.2L501.6 387.8L501.7 388.9L501.9 388.9L502 388.5L502.2 389.4L502.3 389.1L502.5 389.3L502.6 388.8L502.8 390.2L502.9 389.5L503.1 390.2L503.2 390.3L503.4 390.1L503.5 390.5L505.1 387.1L505.3 388.2L505.4 390.3L505.6 389.3L505.7 389.7L505.9 389.1L506 389.1L506.2 389.9L506.3 390.4L506.5 390.4L506.6 390.4L506.8 390.5L506.9 391L507.1 392.3L507.2 391.8L507.4 391.8L509.2 390L509.3 389.8L509.5 390.2L509.6 390.7L509.8 390.7L509.9 391.7L510.1 391.9L510.2 391.8L510.4 392.1L510.5 393L510.7 393L510.8 392.5L511 393.5L511.1 394.5L511.3 394.1L511.4 393.8L511.6 395.3L511.7 396.1L511.9 395.2L512 394.3L512.2 394.9L513.8 391.4L514 392.9L514.1 391.9L514.3 392.9L514.4 392.5L514.6 393.8L514.7 393.5L514.9 394.1L515 393.7L515.2 394.2L515.3 393.4L515.5 395.2L515.6 395.2L515.8 395.3L515.9 395.5L516.1 395.5L516.2 395.9L516.4 397.1L516.5 396.1L518.2 392.4L518.3 392.5L518.5 393.3L518.6 392.7L518.8 393L518.9 393L519.1 394.5L519.2 393.7L519.4 394.4L519.5 394.3L519.7 395.2L519.8 394.3L520 394.6L520.1 394.9L520.3 395.6L520.4 395.3L520.6 396.1L520.7 396.4L520.9 396.8L521 396.8L522.8 393.6L523 393.2L523.1 392.3L523.3 393.6L523.4 393.1L523.6 394.6L523.7 393.6L523.8 394L524 394.1L524.1 393.9L524.3 394.3L524.4 394.6L524.6 395.9L524.7 395L524.9 395.4L525 395.3L525.2 395.5L525.3 395.8L525.5 396.5L525.6 394.5L525.8 395.8L525.9 395.8L526.1 396.9L527.9 394.4L528 394.1L528.2 394.7L528.3 393.9L528.5 395.3L528.6 394.3L528.8 394.9L528.9 395.4L529.1 394.6L529.2 395.7L529.4 395.7L529.5 396.3L529.7 396L529.8 395.7L530 395.9L530.1 396.2L530.3 396.8L530.4 396.8L530.6 397.4L530.7 398L532.5 393.5L532.7 393.9L532.8 394.3L533 394.7L533.1 394.3L533.3 394.3L533.4 395.3L533.6 396L533.7 395.5L533.9 397L534 395.4L534.2 396.7L534.3 397.4L534.5 398.6L534.6 398.3L534.8 400L534.9 400.4L535.1 400.2L535.2 402L535.4 402.3L535.5 402.4L535.7 402.5L537.8 395L537.9 395.2L538.1 394.7L538.2 395L538.4 394.9L538.5 394.8L538.7 394.6L538.8 395.1L539 395.9L539.1 394.7L539.3 396.1L539.4 396.4L539.6 396.5L539.7 396L539.9 396.1L540 396.9L540.2 396.9L540.3 397.4L540.5 396.5L540.6 396.6L540.8 397.5L540.9 396.8L541.1 397L541.2 397.9L541.4 397.7L543.3 394.4L543.5 394.4L543.6 394.1L543.7 394.2L543.9 394.5L544 395.6L544.2 395L544.3 396.4L544.5 396L544.6 396.2L544.8 396.6L544.9 397.6L545.1 397.1L545.2 397.1L545.4 397L545.5 397L545.7 397.8L545.8 399L546 399L547.8 395.6L547.9 395.3L548.1 396.3L548.2 395.9L548.4 397.2L548.5 395.8L548.7 396.7L548.8 398L549 398L549.1 398L549.3 397.3L549.4 398.3L549.6 398.9L549.7 398.6L549.9 399.1L550 399.8L550.2 399.4L550.3 400.1L550.5 400L550.6 399.8L550.8 399.9L550.9 400.5L552.7 396.8L552.9 397.2L553 397.2L553.2 397.5L553.3 397.8L553.5 399.5L553.6 398.9L553.8 399.6L553.9 398.2L554.1 399L554.2 399.8L554.4 400.2L554.5 400L554.7 399.8L554.8 399.5L555 400.6L555.1 399.8L555.3 401L555.4 400.8L555.6 400.9L557.5 397.9L557.7 398.2L557.8 397.6L558 397.3L558.1 398.7L558.3 398L558.4 398.8L558.6 398.5L558.7 398.6L558.9 398.6L559 399.7L559.2 399L559.3 399.3L559.5 399.2L559.6 400.7L559.8 399.9L559.9 399.5L560.1 400.2L560.2 399.5L560.4 400.5L560.5 400.2L560.7 401.6L560.8 401.9L562.6 398.5L562.8 398.5L562.9 397.7L563.1 399.1L563.2 398.9L563.4 399.4L563.5 399.8L563.6 400.7L563.8 400.5L563.9 399.9L564.1 401.3L564.2 401.2L564.4 401.3L564.5 401L564.7 401.1L564.8 401.8L565 402.8L565.1 402.6L565.3 402.7L565.4 403L567.1 399.2L567.2 400.5L567.4 400.2L567.5 400.9L567.7 400.6L567.8 400.5L568 401.9L568.1 401.3L568.3 401.6L568.4 401.8L568.6 401.7L568.7 402L568.9 401.7L569 402.6L569.2 402.9L569.3 402.5L569.5 402.3L569.6 403.1L569.8 403.9L571.9 401.1L572 401.4L572.2 402.5L572.3 402.1L572.5 401.9L572.6 402.3L572.8 402.3L572.9 402.1L573.1 402.4L573.2 402.8L573.4 403.3L573.5 402.3L573.7 403L573.8 403.2L574 403.4L574.1 403.2L574.3 403.3L574.4 402.8L574.6 403.2L574.7 403.5L574.9 403.6L575 404.3L575.2 404L575.3 404.1L575.5 404L575.6 404.6L577.7 402.6L577.9 402.7L578 403L578.2 403.4L578.3 403.1L578.5 403.7L578.6 403.3L578.8 403.9L578.9 402.9L579.1 404.4L579.2 404.1L579.4 404.3L579.5 404.9L579.7 403.8L579.8 403.8L580 403.2L580.1 405.2L580.3 405.1L580.4 406.1L580.6 405.3L580.7 405.7L580.9 405.7L581 406L582.8 403.4L583 404L583.1 403.6L583.3 405.6L583.4 405.1L583.5 406L583.7 406.6L583.8 405.7L584 407L584.1 406.9L584.3 407.5L584.4 407.8L584.6 408.3L584.7 408.3L584.9 407.9L585 408.6L585.2 409.2L585.3 409.6L585.5 409.5L585.6 410L587.4 408.5L587.6 408.5L587.7 408.9L587.9 410.1L588 409.7L588.2 410L588.3 409L588.5 411L588.6 411L588.8 410.9L588.9 410.7L589.1 410.9L589.2 411.5L589.4 412.2L589.5 412.6L589.7 413L589.8 413.3L590 413.4L590.1 413.6L590.3 413.3L590.4 415.4L592.2 413L592.4 413.8L592.5 414.2L592.7 413.9L592.8 414.6L593 415.1L593.1 415.7L593.3 415.8L593.4 415.8L593.6 416.5L593.7 416.3L593.9 417.1L594 418.1L594.2 417.9L594.3 418.4L594.5 418.9L594.6 419L594.8 418.9L594.9 419.4L595.1 420.6L596.9 418.3L597 418.4L597.2 419.6L597.3 421.1L597.5 419.9L597.6 420.5L597.8 421.7L597.9 422.7L598.1 422.1L598.2 422.8L598.4 422.9L598.5 423.3L598.7 424.4L598.8 424.1L599 425.3L599.1 425.6L599.3 425.4L599.4 425.6L599.6 426.4L601.7 425.6L601.8 426.9L602 426.8L602.1 427.5L602.3 427.9L602.4 429.1L602.6 428.5L602.7 429.4L602.9 429L603 429.6L603.2 429.1L603.3 429.8L603.5 430L603.6 431.1L603.7 430.8L603.9 431.4L604 431.6L604.2 432L604.3 431.2L604.5 432.9L604.6 431.9L604.8 433L604.9 433.6L605.1 433.2L606.7 432.1L606.9 432.6L607 432.7L607.2 433.5L607.3 433.5L607.5 434.2L607.6 433.9L607.8 433.8L607.9 434.7L608.1 434.7L608.2 434.7L608.4 435.5L608.5 435.7L608.7 435.5L608.8 436.2L609 436.3L610.5 435.1L610.6 435.5L610.8 435.9L610.9 435.8L611.1 436.6L611.2 436.7L611.4 437.3L611.5 437.3L611.7 436.5L611.8 437.8L612 438L612.1 438L612.3 437.6L612.4 438.2L612.6 438.8L612.7 438.8L612.9 438.9L614.7 438.1L614.8 438L615 438L615.1 438L615.3 439L615.4 439.8L615.6 439.2L615.7 439.1L615.9 438.7L616 439.6L616.2 440.3L616.3 439.9L616.5 440.4L616.6 440L616.8 439.1L616.9 440.5L617.1 441.5L617.2 439.9L617.4 442.7L617.5 442.2L617.7 441L617.8 441.8L618 441.9L618.1 442.5L620.1 440.5L620.2 440.7L620.4 441.3L620.5 442.2L620.7 441.3L620.8 440.6L621 441.4L621.1 441.7L621.3 442L621.4 440.7L621.6 441.7L621.7 442.8L621.9 443L622 443.4L622.2 442.5L622.3 442.5L622.5 442.5L622.6 442.2L622.8 442.4L622.9 443.4L623.1 443.9L623.2 443.1L623.4 442.3L625.3 442.8L625.4 443.6L625.6 443.7L625.7 444.8L625.9 443.9L626 444.7L626.2 444.6L626.3 445L626.5 446L626.6 446.9L626.8 445.9L626.9 446.2L627.1 446.5L627.2 446.6L627.4 446.4L627.5 446.3L627.7 446.9L627.8 447.5L628 447.8L628.1 447.6L628.3 447.2L628.4 448.5L629.9 447.7L630.1 447.9L630.2 449.6L630.4 449.2L630.5 449.8L630.7 449.8L630.8 449.3L631 450.1L631.1 449.4L631.3 451.2L631.4 450.7L631.6 450.9L631.7 451.7L631.9 451.4L632 452.4L632.2 451.9L632.3 453.1L634.4 453.4L634.6 453.8L634.7 453.3L634.9 453.8L635 454.1L635.2 455L635.3 454.8L635.5 455.3L635.6 454.7L635.8 455.7L635.9 454.9L636.1 456.3L636.2 455.4L636.4 456.8L636.5 456.8L636.7 456.4L636.8 456.9L637 457.6L637.1 457.4L637.3 457.1L637.4 459.2L637.6 458.4L637.7 459.5L637.9 458.9L638 458L638.2 460L640.4 460.8L640.6 461.2L640.7 461.1L640.9 461.7L641 462.1L641.2 462.7L641.3 461.6L641.5 461.8L641.6 462.3L641.8 462.6L641.9 463.3L642.1 463.7L642.2 463.8L642.4 464.4L642.5 464.1L642.7 464.5L642.8 464.7L643 465L643.1 465.9L643.3 465.9L643.4 466.6L643.5 466.1L643.7 466.3L643.8 466.4L644 466.4L645.9 470.1L646.1 469.2L646.2 470L646.4 471.3L646.5 471L646.7 472.1L646.8 471.4L647 472.3L647.1 471.7L647.3 473.3L647.4 473.1L647.6 473L647.7 474.4L647.9 474.5L648 474.7L648.2 475L648.3 475L648.5 475.1L648.6 476L650.1 477.7L650.3 478.5L650.4 477.5L650.6 479L650.7 478.4L650.9 479.1L651 479.5L651.2 479.8L651.3 480.3L651.5 480.6L651.6 480.1L651.8 481.1L651.9 482.3L652.1 481.9L652.2 482.1L652.4 482.3L654.5 482.8L654.6 483.6L654.8 483.2L654.9 483.3L655.1 484L655.2 483.8L655.4 484L655.5 484.8L655.7 484.6L655.8 483.3L656 485.8L656.1 484.5L656.3 484.8L656.4 485.6L656.6 485.5L656.7 485.7L656.9 485.2L657 484.9L657.2 486.2L657.3 485.8L657.5 485.1L657.6 486.7L657.8 486.4L657.9 486.2L658.1 485.9L659.9 487L660 486.7L660.2 487.5L660.3 487.7L660.5 487L660.6 488L660.8 488.4L660.9 488L661.1 488.5L661.2 488.3L661.4 487.7L661.5 489L661.7 489.4L661.8 488.6L662 491L662.1 490.6L662.3 489.3L664 490.4L664.2 490.4L664.3 491L664.5 490.1L664.6 490.3L664.8 490.3L664.9 490.9L665.1 491.7L665.2 490.6L665.4 492.1L665.5 492.3L665.7 491.9L665.8 492.1L666 493.2L666.1 493.8L666.3 492.2L666.4 494L666.6 493.2L666.7 493.8L666.9 493.2L669 494.5L669.1 494.2L669.3 494.9L669.4 493.9L669.6 494.8L669.7 494.6L669.9 495.4L670 494.6L670.2 496.4L670.3 495.8L670.5 495.1L670.6 496.9L670.8 496.5L670.9 495.7L671.1 496.8L671.2 496.5L671.4 496.8L671.5 496.2L671.7 496.9L671.8 497.6L672 498L672.1 497.5L672.3 497.7L672.4 498.2L674.4 497.4L674.5 496.5L674.7 497.1L674.8 497.7L675 497.5L675.1 497.5L675.3 498.6L675.4 498L675.6 497.5L675.7 498.6L675.9 498.4L676 497.4L676.2 498.1L676.3 498L676.5 498.4L676.6 498.9L676.8 498.2L676.9 499L677.1 499.1L677.2 499.1L677.4 498.9L677.5 498.9L679.6 498.6L679.8 500.4L679.9 499.3L680.1 499.6L680.2 499.8L680.4 500.6L680.5 500.3L680.7 500.1L680.8 500.1L681 500.5L681.1 501L681.3 500.4L681.4 500.4L681.6 501.2L681.7 501.4L681.9 501.5L682 500.7L682.2 500.5L682.3 502L682.5 500.7L682.6 501.4L682.8 502L682.9 502.5L683.1 502.4L683.2 501.9L685.4 501.6L685.6 502.2L685.7 502.6L685.9 502.4L686 502.4L686.2 502.1L686.3 502.8L686.5 503.2L686.6 503.6L686.8 503L686.9 503.6L687.1 503.8L687.2 502.9L687.4 503.7L687.5 503.8L687.7 504.1L687.8 503.5L688 503.1L688.1 504.3L688.3 503.4L688.4 504.4L688.6 504.8L688.7 504.7L688.9 505.3L690.8 504.8L691 505.1L691.1 504.3L691.3 504.9L691.4 505.2L691.6 505.1L691.7 505L691.9 506.1L692 505L692.2 505.7L692.3 505.4L692.5 506.1L692.6 505.4L692.8 505.7L692.9 506.3L693.1 505.9L693.2 507.1L693.4 506.3L693.5 508L693.7 507L693.8 505.9L694 506.7L695.6 505.7L695.8 506.8L695.9 506.2L696.1 507.5L696.2 506.5L696.4 506.8L696.5 506.3L696.7 506.8L696.8 507.6L697 507.1L697.1 508.2L697.3 508L697.4 507.6L697.6 507.6L697.7 508.2L697.9 508.2L698 508.7L700 507.6L700.1 507.5L700.3 508.4L700.4 508.5L700.6 507.8L700.7 508.1L700.9 508.5L701 508.6L701.2 508.3L701.3 509L701.5 509.8L701.6 508.6L701.8 509.7L701.9 509.1L702.1 509.5L702.2 509L702.4 510.2L702.5 509.6L702.7 509.9L702.8 509.7L703 510L703.1 510.7L703.2 511L703.4 510.9L705.5 509.9L705.6 509.9L705.8 511.3L705.9 510.8L706.1 510.2L706.2 510.4L706.4 511.1L706.5 511.2L706.7 511.4L706.8 511.1L707 511.6L707.1 510.8L707.3 511.1L707.4 511.3L707.6 511.7L707.7 512L707.9 512.6L708 512.4L708.2 512.7L708.3 512.8L708.5 513.1L708.6 512.6L708.8 512.5L708.9 513L710.9 511.6L711 512.4L711.2 512.6L711.3 512.3L711.5 513.4L711.6 513.2L711.8 512.4L711.9 512.5L712.1 512.7L712.2 513.4L712.4 513.3L712.5 512.6L712.7 513.8L712.8 513.9L713 513.3L713.1 513.3L713.3 512.4L713.4 513.9L713.6 514.2L713.7 514.8L715.8 512.9L716 513.3L716.1 512.9L716.3 513.8L716.4 513.1L716.6 514.2L716.7 514.1L716.9 514L717 513.8L717.2 514.4L717.3 514.5L717.5 514.5L717.6 514.5L717.8 514.5L717.9 514.6L718.1 514.6L718.2 515.1L718.4 515.4L718.5 514.8L718.7 514.3L718.8 514.6L719 515.5L719.1 515.2L719.3 515.2L719.4 514.9L719.6 515.8L721.4 514.5L721.5 514.2L721.7 514.4L721.8 515L722 514.5L722.1 514.9L722.3 515.2L722.4 515.5L722.6 515.4L722.7 514.7L722.9 515.8L723 515.9L723.1 516.3L723.3 515.9L723.4 515.9L723.6 514.8L723.7 516.3L723.9 516.4L725.5 515.2L725.7 515.3L725.8 515.3L726 514.4L726.1 515L726.3 516.1L726.4 515.7L726.6 515.6L726.7 516.7L726.9 515.9L727 516.3L727.2 517L727.3 517.2L727.5 515.6L727.6 516.3L727.8 516.9L727.9 516.5L728.1 516.6L728.2 517.4L728.4 516.8L728.5 517.4L728.7 517.2L730.5 516.3L730.6 517.1L730.8 517.4L730.9 516.4L731.1 516.6L731.2 516.5L731.4 516.9L731.5 516.7L731.7 516.2L731.8 517.4L732 517.9L732.1 517.2L732.3 516.9L732.4 517.3L732.6 518L732.7 518.1L732.9 517.5L733 517.6L733.2 517.5L733.3 518.2L733.5 518.6L735.3 516.8L735.4 517.9L735.6 517.6L735.7 517.4L735.9 517.6L736 517.2L736.2 517.8L736.3 516.9L736.5 517.6L736.6 518.1L736.8 517.5L736.9 518.6L737.1 517.9L737.2 517.9L737.4 518.2L737.5 518.8L737.7 519L737.8 518.5L738 518.6L738.1 518.4L739.9 517.2L740.1 518.5L740.2 517.2L740.4 517.8L740.5 518.1L740.7 519.1L740.8 519.1L741 518.4L741.1 519.9L741.3 518.7L741.4 518.8L741.6 518.6L741.7 519.2L741.9 519L742 519.8L742.2 519.6L742.3 519.7L742.5 521L742.6 520.3L742.8 519.6L742.9 520.6L744.7 518.6L744.8 518.5L745 519.6L745.1 520.7L745.3 518.8L745.4 519.3L745.6 520L745.7 519.8L745.9 519.4L746 520.1L746.2 520.1L746.3 520.1L746.5 520.7L746.6 521.3L746.8 521.1L746.9 521.9L747.1 521.4L747.2 521.2L747.4 521.2L749.2 520.6L749.3 520.9L749.5 521.2L749.6 521.8L749.8 520.9L749.9 521.9L750.1 522.2L750.2 522L750.4 522.8L750.5 523.1L750.7 522.1L750.8 522.6L751 522.3L751.1 522.7L751.3 523.3L751.4 524.1L751.6 523.8L751.7 523.9L751.9 523.7L752 523.7L752.2 524.2L754 523.1L754.1 524.3L754.3 524.9L754.4 524L754.6 524.6L754.7 524.6L754.9 523.8L755 524.9L755.2 525.2L755.3 524.4L755.5 524.7L755.6 525.5L755.8 525.2L755.9 526L756.1 525.5L756.2 526.2L756.4 526.6L756.5 525.6L756.7 525.9L758.3 524.4L758.5 525.4L758.6 525.3L758.8 525.2L758.9 525.9L759.1 526.5L759.2 526.2L759.4 526.3L759.5 526.8L759.7 525.5L759.8 527.4L760 526L760.1 526.3L760.3 526.5L760.4 526.5L760.6 525.7L760.7 527.2L760.9 527.1L761 527L761.2 526.6L762.8 526.4L763 526.3L763.1 527.6L763.2 526L763.4 525.2L763.5 525.9L763.7 526.5L763.8 527.5L764 526.7L764.1 525.6L764.3 527.1L764.4 527.6L764.6 527.9L764.7 526.9L764.9 526.8L765 527L765.2 528.2L765.3 526.8L767 526.5L767.1 527L767.3 526.8L767.4 526.6L767.6 526.9L767.7 527.1L767.9 527.9L768 527.5L768.2 527.4L768.3 526.8L768.5 527.6L768.6 527.7L768.8 527.5L768.9 528.1L769.1 527.9L769.2 527.3L769.4 527.8L769.5 528.6L769.7 529L771.3 527.8L771.5 528.8L771.6 529.1L771.8 529.7L771.9 529.6L772.1 528.9L772.2 529.2L772.4 530L772.5 529.3L772.7 530.3L772.8 530.5L773 530.4L773.1 530.1L773.3 530.3L773.4 530.5L773.6 531.5L773.7 531.4L775.7 531.5L775.8 530.9L776 531.4L776.1 530.9L776.3 532L776.4 531.1L776.6 531.8L776.7 531.4L776.9 531.5L777 532.8L777.2 532.7L777.3 532.9L777.5 532.2L777.6 533.2L777.8 533.4L777.9 533.3L778.1 533.2L778.2 534.1L778.4 533.5L778.5 532.2L778.7 533.7L778.8 532L779 533.4L779.1 532.6L779.3 533.1L781.7 529.5L781.8 530.2L782 530.1L782.1 528.4L782.3 529.4L782.4 528.4L782.6 529.1L782.7 529.4L782.9 529.7L783 529.4" opacity="0.2" fill="none" stroke="none" marker-start="url(#hD)" marker-mid="url(#hD)" marker-end="url(#hD)"/>
<circle cx="637" cy="443.4" r="3.3" fill="url(#gg)"/><circle cx="637.4" cy="450" r="3.3" fill="url(#gg)"/>
</g>
<path d="M82.9 40.4V295.4" stroke="#000" stroke-width="2.1" fill="none"/>
<path d="M81.85 294.6H398.65" stroke="#000" stroke-width="1.6" fill="none"/>
<path d="M397.8 40.4V295.4M83.3 294.6v4.6M144.88 294.6v4.6M206.46 294.6v4.6M268.04 294.6v4.6M329.62 294.6v4.6M391.2 294.6v4.6M114.09 294.6v2.0M175.67 294.6v2.0M237.25 294.6v2.0M298.83 294.6v2.0M360.41 294.6v2.0" stroke="#000" stroke-width="1.7" fill="none"/>
<path d="M81.85 41.2H398.65M82.9 294.6h-5.199999999999999M82.9 243.92h-5.199999999999999M82.9 193.24h-5.199999999999999M82.9 142.56h-5.199999999999999M82.9 91.88h-5.199999999999999M82.9 41.2h-5.199999999999999M82.9 269.26h-2.4M82.9 218.58h-2.4M82.9 167.9h-2.4M82.9 117.22h-2.4M82.9 66.54h-2.4" stroke="#000" stroke-width="1.6" fill="none"/>
<text x="83.3" y="314.8" text-anchor="middle" font-size="15.4">0</text>
<text x="144.88" y="314.8" text-anchor="middle" font-size="15.4">100</text>
<text x="206.46" y="314.8" text-anchor="middle" font-size="15.4">200</text>
<text x="268.04" y="314.8" text-anchor="middle" font-size="15.4">300</text>
<text x="329.62" y="314.8" text-anchor="middle" font-size="15.4">400</text>
<text x="391.2" y="314.8" text-anchor="middle" font-size="15.4">500</text>
<text x="74.1" y="299.4" text-anchor="end" font-size="15.4">60</text>
<text x="74.1" y="248.72" text-anchor="end" font-size="15.4">90</text>
<text x="74.1" y="198.04" text-anchor="end" font-size="15.4">120</text>
<text x="74.1" y="147.36" text-anchor="end" font-size="15.4">150</text>
<text x="74.1" y="96.68" text-anchor="end" font-size="15.4">180</text>
<text x="74.1" y="46" text-anchor="end" font-size="15.4">210</text>
<path d="M484 40.7V295.3" stroke="#000" stroke-width="2.1" fill="none"/>
<path d="M482.95 294.5H799.35" stroke="#000" stroke-width="1.6" fill="none"/>
<path d="M798.5 40.7V295.3M484 294.5v4.6M527.68 294.5v4.6M571.36 294.5v4.6M615.04 294.5v4.6M658.71 294.5v4.6M702.39 294.5v4.6M746.07 294.5v4.6M789.75 294.5v4.6M505.84 294.5v2.0M549.52 294.5v2.0M593.2 294.5v2.0M636.88 294.5v2.0M680.55 294.5v2.0M724.23 294.5v2.0M767.91 294.5v2.0" stroke="#000" stroke-width="1.7" fill="none"/>
<path d="M482.95 41.5H799.35M484 274.75h-5.199999999999999M484 216.44h-5.199999999999999M484 158.12h-5.199999999999999M484 99.81h-5.199999999999999M484 41.5h-5.199999999999999M484 245.59h-2.4M484 187.28h-2.4M484 128.97h-2.4M484 70.66h-2.4" stroke="#000" stroke-width="1.6" fill="none"/>
<text x="484" y="314.7" text-anchor="middle" font-size="15.4">0</text>
<text x="527.68" y="314.7" text-anchor="middle" font-size="15.4">5</text>
<text x="571.36" y="314.7" text-anchor="middle" font-size="15.4">10</text>
<text x="615.04" y="314.7" text-anchor="middle" font-size="15.4">15</text>
<text x="658.71" y="314.7" text-anchor="middle" font-size="15.4">20</text>
<text x="702.39" y="314.7" text-anchor="middle" font-size="15.4">25</text>
<text x="746.07" y="314.7" text-anchor="middle" font-size="15.4">30</text>
<text x="789.75" y="314.7" text-anchor="middle" font-size="15.4">35</text>
<text x="475.2" y="279.55" text-anchor="end" font-size="15.4">60</text>
<text x="475.2" y="221.24" text-anchor="end" font-size="15.4">90</text>
<text x="475.2" y="162.93" text-anchor="end" font-size="15.4">120</text>
<text x="475.2" y="104.61" text-anchor="end" font-size="15.4">150</text>
<text x="475.2" y="46.3" text-anchor="end" font-size="15.4">180</text>
<path d="M82.4 353.4V608.8" stroke="#000" stroke-width="2.1" fill="none"/>
<path d="M81.35 607.8H398.35" stroke="#000" stroke-width="2.0" fill="none"/>
<path d="M397.5 353.4V608.8M82.8 607.8v4.6M127.76 607.8v4.6M172.71 607.8v4.6M217.67 607.8v4.6M262.63 607.8v4.6M307.59 607.8v4.6M352.54 607.8v4.6M397.5 607.8v4.6M105.28 607.8v2.0M150.24 607.8v2.0M195.19 607.8v2.0M240.15 607.8v2.0M285.11 607.8v2.0M330.06 607.8v2.0M375.02 607.8v2.0" stroke="#000" stroke-width="1.7" fill="none"/>
<path d="M81.35 354.2H398.35M82.4 607.8h-5.199999999999999M82.4 565.53h-5.199999999999999M82.4 523.27h-5.199999999999999M82.4 481h-5.199999999999999M82.4 438.73h-5.199999999999999M82.4 396.47h-5.199999999999999M82.4 354.2h-5.199999999999999M82.4 586.67h-2.4M82.4 544.4h-2.4M82.4 502.13h-2.4M82.4 459.87h-2.4M82.4 417.6h-2.4M82.4 375.33h-2.4" stroke="#000" stroke-width="1.6" fill="none"/>
<text x="82.8" y="628" text-anchor="middle" font-size="15.4">0</text>
<text x="127.76" y="628" text-anchor="middle" font-size="15.4">100</text>
<text x="172.71" y="628" text-anchor="middle" font-size="15.4">200</text>
<text x="217.67" y="628" text-anchor="middle" font-size="15.4">300</text>
<text x="262.63" y="628" text-anchor="middle" font-size="15.4">400</text>
<text x="307.59" y="628" text-anchor="middle" font-size="15.4">500</text>
<text x="352.54" y="628" text-anchor="middle" font-size="15.4">600</text>
<text x="397.5" y="628" text-anchor="middle" font-size="15.4">700</text>
<text x="73.6" y="612.6" text-anchor="end" font-size="15.4">90</text>
<text x="73.6" y="570.33" text-anchor="end" font-size="15.4">100</text>
<text x="73.6" y="528.07" text-anchor="end" font-size="15.4">110</text>
<text x="73.6" y="485.8" text-anchor="end" font-size="15.4">120</text>
<text x="73.6" y="443.53" text-anchor="end" font-size="15.4">130</text>
<text x="73.6" y="401.27" text-anchor="end" font-size="15.4">140</text>
<text x="73.6" y="359" text-anchor="end" font-size="15.4">150</text>
<path d="M483.75 353.1V608.8" stroke="#000" stroke-width="2.1" fill="none"/>
<path d="M482.7 607.75H799.1" stroke="#000" stroke-width="2.1" fill="none"/>
<path d="M798.25 353.1V608.8M483.75 607.75v4.6M558.56 607.75v4.6M633.38 607.75v4.6M708.19 607.75v4.6M783 607.75v4.6M521.16 607.75v2.0M595.97 607.75v2.0M670.78 607.75v2.0M745.59 607.75v2.0" stroke="#000" stroke-width="1.7" fill="none"/>
<path d="M482.7 353.9H799.1M483.75 589.25h-5.199999999999999M483.75 553.17h-5.199999999999999M483.75 517.08h-5.199999999999999M483.75 481h-5.199999999999999M483.75 444.92h-5.199999999999999M483.75 408.83h-5.199999999999999M483.75 372.75h-5.199999999999999M483.75 571.21h-2.4M483.75 535.12h-2.4M483.75 499.04h-2.4M483.75 462.96h-2.4M483.75 426.88h-2.4M483.75 390.79h-2.4" stroke="#000" stroke-width="1.6" fill="none"/>
<text x="483.75" y="627.95" text-anchor="middle" font-size="15.4">0</text>
<text x="558.56" y="627.95" text-anchor="middle" font-size="15.4">500</text>
<text x="633.38" y="627.95" text-anchor="middle" font-size="15.4">1000</text>
<text x="708.19" y="627.95" text-anchor="middle" font-size="15.4">1500</text>
<text x="783" y="627.95" text-anchor="middle" font-size="15.4">2000</text>
<text x="474.95" y="594.05" text-anchor="end" font-size="15.4">0</text>
<text x="474.95" y="557.97" text-anchor="end" font-size="15.4">20</text>
<text x="474.95" y="521.88" text-anchor="end" font-size="15.4">40</text>
<text x="474.95" y="485.8" text-anchor="end" font-size="15.4">60</text>
<text x="474.95" y="449.72" text-anchor="end" font-size="15.4">80</text>
<text x="474.95" y="413.63" text-anchor="end" font-size="15.4">100</text>
<text x="474.95" y="377.55" text-anchor="end" font-size="15.4">120</text>
<text transform="translate(42.3 242.6) rotate(-90)" textLength="151" lengthAdjust="spacingAndGlyphs" font-size="17.3">Capacity (mAh g<tspan font-size="10.38" dy="-8.65">-1</tspan><tspan dy="8.65">)</tspan></text>
<text x="188.75" y="336.3" textLength="114.5" lengthAdjust="spacingAndGlyphs" font-size="17.3">Cycle Number</text>
<text transform="translate(445.2 242.6) rotate(-90)" textLength="151" lengthAdjust="spacingAndGlyphs" font-size="17.3">Capacity (mAh g<tspan font-size="10.38" dy="-8.65">-1</tspan><tspan dy="8.65">)</tspan></text>
<text x="584.05" y="336.6" textLength="114.5" lengthAdjust="spacingAndGlyphs" font-size="17.3">Cycle Number</text>
<text transform="translate(44.9 556.2) rotate(-90)" textLength="151" lengthAdjust="spacingAndGlyphs" font-size="17.3">Capacity (mAh g<tspan font-size="10.38" dy="-8.65">-1</tspan><tspan dy="8.65">)</tspan></text>
<text x="183.05" y="652.8" textLength="114.5" lengthAdjust="spacingAndGlyphs" font-size="17.3">Cycle Number</text>
<text transform="translate(447.3 557.4) rotate(-90)" textLength="151" lengthAdjust="spacingAndGlyphs" font-size="17.3">Capacity (mAh g<tspan font-size="10.38" dy="-8.65">-1</tspan><tspan dy="8.65">)</tspan></text>
<text x="583.75" y="647.6" textLength="114.5" lengthAdjust="spacingAndGlyphs" font-size="17.3">Cycle Number</text>
<text x="31.4" y="62.2" font-size="37">a</text>
<text x="432.4" y="63.5" font-size="37">b</text>
<text x="26.3" y="381.3" font-size="37">c</text>
<text x="428" y="381.5" font-size="37">d</text>
<rect x="307" y="64.5" width="80" height="73" fill="#fff" stroke="#fcfcfc" stroke-width="1"/>
<circle cx="324.5" cy="73.5" r="3.3" fill="url(#gp)"/>
<text x="344.3" y="78.5" font-size="14.2">BE</text>
<circle cx="324.5" cy="91.5" r="3.3" fill="url(#gb)"/>
<text x="344.3" y="96.8" font-size="14.2">ME-5</text>
<circle cx="324.5" cy="109.4" r="3.3" fill="url(#gg)"/>
<text x="344.3" y="114.6" font-size="14.2">ME-10</text>
<circle cx="324.5" cy="127.4" r="3.3" fill="url(#go)"/>
<text x="344.3" y="132.7" font-size="14.2">ME-20</text>
<rect x="499" y="246.8" width="80.5" height="37.5" fill="#fff" stroke="#fcfcfc" stroke-width="1"/>
<path d="M499.2 256.7H533.2" stroke="#b763b3" stroke-width="1.9"/>
<circle cx="516.1" cy="256.7" r="3.3" fill="url(#gp)"/>
<text x="536.5" y="260.9" font-size="14.2">BE</text>
<path d="M499.2 274.7H533.2" stroke="#5bc45f" stroke-width="1.9"/>
<circle cx="516.1" cy="274.7" r="3.3" fill="url(#gg)"/>
<text x="536.5" y="279.3" font-size="14.2">ME-10</text>
<text x="494.5" y="100" font-size="14.2">0.1 C</text>
<text x="543.2" y="130" font-size="14.2">0.5 C</text>
<text x="582.5" y="147.5" font-size="14.2">1.0 C</text>
<text x="628" y="168.5" font-size="14.2">2.0 C</text>
<text x="673" y="202.7" font-size="14.2">5.0 C</text>
<text x="716" y="241.5" font-size="14.2">10 C</text>
<text x="755.5" y="100" font-size="14.2">0.1 C</text>
<rect x="309.5" y="387.5" width="81" height="36.5" fill="#fff" stroke="#fcfcfc" stroke-width="1"/>
<circle cx="327" cy="396.1" r="3.3" fill="url(#gp)"/>
<text x="347.25" y="401.8" font-size="14.2">BE</text>
<circle cx="327" cy="414.3" r="3.3" fill="url(#gg)"/>
<text x="347.25" y="419.8" font-size="14.2">ME-10</text>
<text x="351.6" y="589" font-size="18.8">1 C</text>
<rect x="708.5" y="387.5" width="81" height="36.5" fill="#fff" stroke="#fcfcfc" stroke-width="1"/>
<circle cx="726.2" cy="396.1" r="3.3" fill="url(#gp)"/>
<text x="746.25" y="401.8" font-size="14.2">BE</text>
<circle cx="726.2" cy="414.3" r="3.3" fill="url(#gg)"/>
<text x="746.25" y="419.8" font-size="14.2">ME-10</text>
<text x="746.8" y="589.2" font-size="18.8">2 C</text>
</svg></body></html>
